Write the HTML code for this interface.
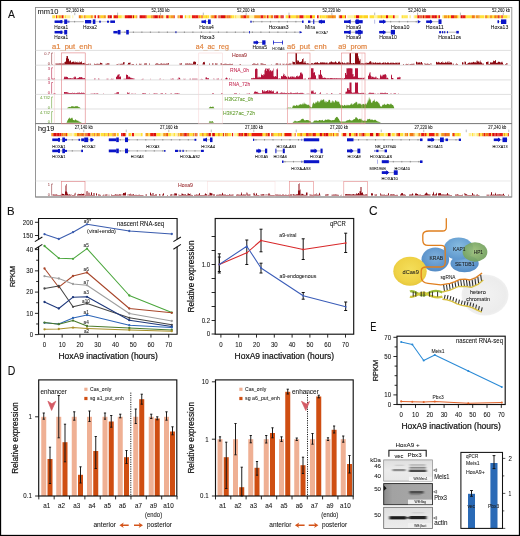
<!DOCTYPE html>
<html><head><meta charset="utf-8"><title>Figure</title>
<style>
html,body{margin:0;padding:0;background:#fff;}
body{width:520px;height:536px;overflow:hidden;font-family:"Liberation Sans",sans-serif;}
svg{display:block;will-change:transform;font-family:"Liberation Sans",sans-serif;}
</style></head><body>
<svg width="520" height="536" viewBox="0 0 520 536">
<rect x="0.00" y="0.00" width="520.00" height="536.00" fill="#fff" stroke="none" stroke-width="1" />
<rect x="0.00" y="0.00" width="520.00" height="1.00" fill="#000" stroke="none" stroke-width="1" />
<rect x="0.00" y="0.00" width="1.15" height="536.00" fill="#000" stroke="none" stroke-width="1" />
<rect x="518.85" y="0.00" width="1.15" height="536.00" fill="#000" stroke="none" stroke-width="1" />
<rect x="0.00" y="534.85" width="520.00" height="1.15" fill="#000" stroke="none" stroke-width="1" />
<text x="8.00" y="17.78" font-size="11.6" fill="#111" stroke="#111" stroke-width="0.1" textLength="6.90" lengthAdjust="spacingAndGlyphs" >A</text>
<rect x="35.50" y="7.50" width="476.30" height="189.50" fill="none" stroke="#8c8c8c" stroke-width="0.9" />
<text x="37.50" y="14.14" font-size="7.6" fill="#111" stroke="#111" stroke-width="0.06" textLength="20.80" lengthAdjust="spacingAndGlyphs" >mm10</text>
<text x="38.00" y="130.94" font-size="7.6" fill="#111" stroke="#111" stroke-width="0.06" textLength="16.30" lengthAdjust="spacingAndGlyphs" >hg19</text>
<path d="M52.4 15.3h1.25v3h-1.25zM80.8 15.3h2.05v3h-2.05zM100.4 15.3h3.05v3h-3.05zM146.4 15.3h1.25v3h-1.25zM157.8 15.3h0.85v3h-0.85zM168.6 15.3h1.05v3h-1.05zM169.6 15.3h0.85v3h-0.85zM184.8 15.3h1.25v3h-1.25zM200.0 15.3h1.65v3h-1.65zM205.2 15.3h2.05v3h-2.05zM226.6 15.3h0.85v3h-0.85zM230.6 15.3h1.65v3h-1.65zM235.2 15.3h1.25v3h-1.25zM297.8 15.3h1.65v3h-1.65zM305.8 15.3h2.45v3h-2.45zM308.2 15.3h1.05v3h-1.05zM309.2 15.3h0.85v3h-0.85zM312.0 15.3h3.05v3h-3.05zM319.6 15.3h2.05v3h-2.05zM325.4 15.3h2.05v3h-2.05zM342.0 15.3h3.05v3h-3.05zM359.0 15.3h3.05v3h-3.05zM364.0 15.3h3.05v3h-3.05zM367.0 15.3h1.05v3h-1.05zM449.0 15.3h0.85v3h-0.85zM449.8 15.3h1.25v3h-1.25zM457.0 15.3h1.65v3h-1.65zM465.8 15.3h0.85v3h-0.85zM486.8 15.3h2.05v3h-2.05zM492.0 15.3h0.85v3h-0.85zM499.4 15.3h2.05v3h-2.05z" fill="#ffd21e"/>
<path d="M53.6 15.3h1.65v3h-1.65zM56.8 15.3h2.05v3h-2.05zM60.8 15.3h0.85v3h-0.85zM64.8 15.3h1.65v3h-1.65zM85.6 15.3h1.25v3h-1.25zM86.8 15.3h2.05v3h-2.05zM88.8 15.3h2.05v3h-2.05zM113.0 15.3h0.85v3h-0.85zM117.8 15.3h1.65v3h-1.65zM119.4 15.3h2.45v3h-2.45zM132.0 15.3h0.85v3h-0.85zM134.0 15.3h2.45v3h-2.45zM147.6 15.3h2.05v3h-2.05zM149.6 15.3h1.65v3h-1.65zM178.6 15.3h1.25v3h-1.25zM188.4 15.3h2.05v3h-2.05zM202.4 15.3h2.05v3h-2.05zM204.4 15.3h0.85v3h-0.85zM207.2 15.3h2.05v3h-2.05zM210.4 15.3h0.85v3h-0.85zM219.6 15.3h0.85v3h-0.85zM232.2 15.3h2.05v3h-2.05zM239.6 15.3h1.25v3h-1.25zM268.4 15.3h2.45v3h-2.45zM278.4 15.3h1.25v3h-1.25zM279.6 15.3h1.05v3h-1.05zM285.6 15.3h3.05v3h-3.05zM290.2 15.3h3.05v3h-3.05zM293.2 15.3h3.05v3h-3.05zM303.4 15.3h2.45v3h-2.45zM321.6 15.3h0.85v3h-0.85zM322.4 15.3h3.05v3h-3.05zM354.0 15.3h2.05v3h-2.05zM362.0 15.3h2.05v3h-2.05zM369.6 15.3h2.45v3h-2.45zM372.0 15.3h2.05v3h-2.05zM377.2 15.3h1.65v3h-1.65zM378.8 15.3h2.05v3h-2.05zM381.8 15.3h1.25v3h-1.25zM383.0 15.3h3.05v3h-3.05zM388.0 15.3h2.05v3h-2.05zM390.0 15.3h3.05v3h-3.05zM401.6 15.3h2.05v3h-2.05zM421.6 15.3h1.05v3h-1.05zM430.4 15.3h1.25v3h-1.25zM436.8 15.3h1.65v3h-1.65zM443.2 15.3h0.85v3h-0.85zM447.0 15.3h0.85v3h-0.85zM466.6 15.3h1.65v3h-1.65zM468.2 15.3h1.25v3h-1.25zM469.4 15.3h2.45v3h-2.45zM479.4 15.3h3.05v3h-3.05zM482.4 15.3h1.65v3h-1.65zM492.8 15.3h1.25v3h-1.25zM502.6 15.3h3.05v3h-3.05zM505.6 15.3h1.25v3h-1.25zM506.8 15.3h0.85v3h-0.85z" fill="#ffe23a"/>
<path d="M55.2 15.3h0.85v3h-0.85zM64.0 15.3h0.85v3h-0.85zM92.8 15.3h1.65v3h-1.65zM106.6 15.3h1.25v3h-1.25zM121.8 15.3h3.05v3h-3.05zM163.2 15.3h3.05v3h-3.05zM186.0 15.3h2.45v3h-2.45zM190.4 15.3h1.65v3h-1.65zM234.2 15.3h1.05v3h-1.05zM236.4 15.3h2.45v3h-2.45zM238.8 15.3h0.85v3h-0.85zM249.2 15.3h2.05v3h-2.05zM251.2 15.3h3.05v3h-3.05zM265.8 15.3h1.05v3h-1.05zM318.6 15.3h1.05v3h-1.05zM347.4 15.3h3.05v3h-3.05zM350.4 15.3h1.65v3h-1.65zM352.0 15.3h1.05v3h-1.05zM353.0 15.3h1.05v3h-1.05zM374.0 15.3h1.25v3h-1.25zM375.2 15.3h2.05v3h-2.05zM394.6 15.3h2.05v3h-2.05zM396.6 15.3h2.05v3h-2.05zM442.0 15.3h1.25v3h-1.25zM458.6 15.3h2.05v3h-2.05zM484.0 15.3h1.25v3h-1.25zM488.8 15.3h0.85v3h-0.85zM507.6 15.3h2.45v3h-2.45z" fill="#fff4a0"/>
<path d="M56.0 15.3h0.85v3h-0.85zM61.6 15.3h1.65v3h-1.65zM94.4 15.3h1.65v3h-1.65zM97.6 15.3h1.65v3h-1.65zM107.8 15.3h1.65v3h-1.65zM113.8 15.3h2.05v3h-2.05zM115.8 15.3h1.05v3h-1.05zM124.8 15.3h2.05v3h-2.05zM126.8 15.3h1.25v3h-1.25zM142.0 15.3h1.25v3h-1.25zM143.2 15.3h2.45v3h-2.45zM153.2 15.3h1.65v3h-1.65zM158.6 15.3h1.65v3h-1.65zM162.2 15.3h1.05v3h-1.05zM166.2 15.3h1.25v3h-1.25zM167.4 15.3h1.25v3h-1.25zM179.8 15.3h1.05v3h-1.05zM180.8 15.3h2.05v3h-2.05zM192.0 15.3h1.65v3h-1.65zM193.6 15.3h1.65v3h-1.65zM196.0 15.3h2.45v3h-2.45zM201.6 15.3h0.85v3h-0.85zM214.2 15.3h2.05v3h-2.05zM227.4 15.3h0.85v3h-0.85zM243.2 15.3h2.05v3h-2.05zM245.2 15.3h1.05v3h-1.05zM260.4 15.3h3.05v3h-3.05zM266.8 15.3h1.65v3h-1.65zM275.4 15.3h3.05v3h-3.05zM281.6 15.3h1.05v3h-1.05zM288.6 15.3h1.65v3h-1.65zM299.4 15.3h1.65v3h-1.65zM301.0 15.3h0.85v3h-0.85zM301.8 15.3h1.65v3h-1.65zM317.0 15.3h1.65v3h-1.65zM340.0 15.3h2.05v3h-2.05zM345.0 15.3h0.85v3h-0.85zM393.0 15.3h1.65v3h-1.65zM417.2 15.3h2.45v3h-2.45zM425.2 15.3h1.05v3h-1.05zM426.2 15.3h2.05v3h-2.05zM428.2 15.3h1.25v3h-1.25zM429.4 15.3h1.05v3h-1.05zM431.6 15.3h2.45v3h-2.45zM434.0 15.3h0.85v3h-0.85zM438.4 15.3h1.65v3h-1.65zM451.0 15.3h3.05v3h-3.05zM462.6 15.3h2.45v3h-2.45zM501.4 15.3h1.25v3h-1.25z" fill="#e81a10"/>
<path d="M58.8 15.3h2.05v3h-2.05zM63.2 15.3h0.85v3h-0.85zM83.6 15.3h2.05v3h-2.05zM90.8 15.3h2.05v3h-2.05zM99.2 15.3h1.25v3h-1.25zM103.4 15.3h2.45v3h-2.45zM152.2 15.3h1.05v3h-1.05zM170.4 15.3h1.05v3h-1.05zM171.4 15.3h2.45v3h-2.45zM198.4 15.3h0.85v3h-0.85zM199.2 15.3h0.85v3h-0.85zM211.2 15.3h3.05v3h-3.05zM246.2 15.3h3.05v3h-3.05zM254.2 15.3h1.25v3h-1.25zM255.4 15.3h2.05v3h-2.05zM257.4 15.3h3.05v3h-3.05zM263.4 15.3h2.45v3h-2.45zM296.2 15.3h1.65v3h-1.65zM327.4 15.3h1.65v3h-1.65zM329.0 15.3h3.05v3h-3.05zM333.8 15.3h2.05v3h-2.05zM380.8 15.3h1.05v3h-1.05zM424.2 15.3h1.05v3h-1.05zM444.0 15.3h3.05v3h-3.05zM475.6 15.3h3.05v3h-3.05zM489.6 15.3h2.45v3h-2.45zM494.0 15.3h1.05v3h-1.05zM496.2 15.3h2.05v3h-2.05z" fill="#f59a1e"/>
<path d="M66.4 15.3h3.05v3h-3.05zM69.4 15.3h1.05v3h-1.05zM72.4 15.3h0.85v3h-0.85zM409.4 15.3h1.65v3h-1.65z" fill="#fff19a"/>
<path d="M78.8 15.3h2.05v3h-2.05zM136.4 15.3h0.85v3h-0.85zM151.2 15.3h1.05v3h-1.05zM160.2 15.3h2.05v3h-2.05zM177.6 15.3h1.05v3h-1.05zM216.2 15.3h1.05v3h-1.05zM225.0 15.3h1.65v3h-1.65zM228.2 15.3h2.45v3h-2.45zM240.8 15.3h2.45v3h-2.45zM270.8 15.3h0.85v3h-0.85zM271.6 15.3h1.65v3h-1.65zM332.0 15.3h0.85v3h-0.85zM332.8 15.3h1.05v3h-1.05zM338.8 15.3h1.25v3h-1.25zM419.6 15.3h1.05v3h-1.05zM447.8 15.3h1.25v3h-1.25zM454.0 15.3h3.05v3h-3.05zM465.0 15.3h0.85v3h-0.85zM471.8 15.3h3.05v3h-3.05zM478.6 15.3h0.85v3h-0.85zM485.2 15.3h1.65v3h-1.65zM495.0 15.3h1.25v3h-1.25z" fill="#f07a14"/>
<path d="M109.4 15.3h2.45v3h-2.45zM116.8 15.3h1.05v3h-1.05zM128.0 15.3h2.05v3h-2.05zM130.0 15.3h2.05v3h-2.05zM132.8 15.3h1.25v3h-1.25zM139.6 15.3h2.45v3h-2.45zM145.6 15.3h0.85v3h-0.85zM154.8 15.3h3.05v3h-3.05zM173.8 15.3h0.85v3h-0.85zM195.2 15.3h0.85v3h-0.85zM218.4 15.3h1.25v3h-1.25zM220.4 15.3h3.05v3h-3.05zM223.4 15.3h1.65v3h-1.65zM274.2 15.3h1.25v3h-1.25zM280.6 15.3h1.05v3h-1.05zM282.6 15.3h1.05v3h-1.05zM310.0 15.3h2.05v3h-2.05zM356.0 15.3h3.05v3h-3.05zM386.0 15.3h2.05v3h-2.05zM420.6 15.3h1.05v3h-1.05zM422.6 15.3h1.65v3h-1.65zM434.8 15.3h2.05v3h-2.05zM460.6 15.3h2.05v3h-2.05zM498.2 15.3h1.25v3h-1.25z" fill="#d80c0c"/>
<path d="M403.6 15.3h1.25v3h-1.25zM404.8 15.3h3.05v3h-3.05zM414.2 15.3h3.05v3h-3.05z" fill="#ffe95e"/>
<path d="M413.4 15.3h0.85v3h-0.85z" fill="#fff6c0"/>
<path d="M51.3 133.1h2.05v3.1h-2.05zM63.5 133.1h2.45v3.1h-2.45zM79.1 133.1h2.05v3.1h-2.05zM91.5 133.1h1.25v3.1h-1.25zM97.9 133.1h2.05v3.1h-2.05zM113.5 133.1h2.45v3.1h-2.45zM145.5 133.1h3.05v3.1h-3.05zM163.1 133.1h2.45v3.1h-2.45zM182.7 133.1h1.05v3.1h-1.05zM192.5 133.1h2.05v3.1h-2.05zM206.1 133.1h2.45v3.1h-2.45zM217.9 133.1h2.05v3.1h-2.05zM226.3 133.1h1.65v3.1h-1.65zM262.1 133.1h0.85v3.1h-0.85zM283.7 133.1h1.25v3.1h-1.25zM311.1 133.1h1.65v3.1h-1.65zM319.1 133.1h0.85v3.1h-0.85zM321.9 133.1h2.05v3.1h-2.05zM330.1 133.1h2.05v3.1h-2.05zM336.1 133.1h1.25v3.1h-1.25zM358.7 133.1h2.05v3.1h-2.05zM378.7 133.1h1.65v3.1h-1.65zM404.5 133.1h2.05v3.1h-2.05zM413.5 133.1h1.25v3.1h-1.25zM425.9 133.1h1.25v3.1h-1.25zM441.1 133.1h0.85v3.1h-0.85zM441.9 133.1h1.65v3.1h-1.65zM443.5 133.1h1.25v3.1h-1.25zM452.1 133.1h1.05v3.1h-1.05zM481.7 133.1h2.05v3.1h-2.05zM503.9 133.1h1.25v3.1h-1.25z" fill="#f59a1e"/>
<path d="M53.3 133.1h2.05v3.1h-2.05zM55.3 133.1h1.05v3.1h-1.05zM57.1 133.1h2.45v3.1h-2.45zM83.5 133.1h0.85v3.1h-0.85zM85.3 133.1h1.25v3.1h-1.25zM122.7 133.1h2.45v3.1h-2.45zM153.3 133.1h3.05v3.1h-3.05zM167.1 133.1h0.85v3.1h-0.85zM177.7 133.1h0.85v3.1h-0.85zM183.7 133.1h1.05v3.1h-1.05zM186.3 133.1h0.85v3.1h-0.85zM208.5 133.1h2.45v3.1h-2.45zM212.1 133.1h1.25v3.1h-1.25zM213.3 133.1h1.65v3.1h-1.65zM222.7 133.1h1.25v3.1h-1.25zM240.7 133.1h1.05v3.1h-1.05zM244.1 133.1h0.85v3.1h-0.85zM244.9 133.1h2.45v3.1h-2.45zM306.1 133.1h1.05v3.1h-1.05zM312.7 133.1h1.25v3.1h-1.25zM319.9 133.1h2.05v3.1h-2.05zM325.5 133.1h3.05v3.1h-3.05zM362.5 133.1h1.65v3.1h-1.65zM369.7 133.1h1.65v3.1h-1.65zM371.3 133.1h2.05v3.1h-2.05zM375.7 133.1h3.05v3.1h-3.05zM387.7 133.1h3.05v3.1h-3.05zM420.7 133.1h1.05v3.1h-1.05zM444.7 133.1h1.05v3.1h-1.05zM492.1 133.1h2.45v3.1h-2.45zM495.5 133.1h2.05v3.1h-2.05zM498.5 133.1h1.25v3.1h-1.25zM502.3 133.1h0.85v3.1h-0.85z" fill="#d80c0c"/>
<path d="M56.3 133.1h0.85v3.1h-0.85zM59.5 133.1h2.05v3.1h-2.05zM65.9 133.1h1.05v3.1h-1.05zM87.3 133.1h1.25v3.1h-1.25zM88.5 133.1h2.05v3.1h-2.05zM93.9 133.1h0.85v3.1h-0.85zM107.7 133.1h1.05v3.1h-1.05zM121.1 133.1h1.65v3.1h-1.65zM131.7 133.1h2.45v3.1h-2.45zM150.1 133.1h2.45v3.1h-2.45zM152.5 133.1h0.85v3.1h-0.85zM184.7 133.1h1.65v3.1h-1.65zM195.3 133.1h1.05v3.1h-1.05zM231.9 133.1h1.25v3.1h-1.25zM238.3 133.1h2.45v3.1h-2.45zM241.7 133.1h1.65v3.1h-1.65zM251.3 133.1h1.65v3.1h-1.65zM252.9 133.1h1.65v3.1h-1.65zM254.5 133.1h0.85v3.1h-0.85zM255.3 133.1h0.85v3.1h-0.85zM256.1 133.1h3.05v3.1h-3.05zM259.1 133.1h3.05v3.1h-3.05zM267.7 133.1h1.25v3.1h-1.25zM268.9 133.1h0.85v3.1h-0.85zM271.3 133.1h0.85v3.1h-0.85zM284.9 133.1h3.05v3.1h-3.05zM287.9 133.1h3.05v3.1h-3.05zM290.9 133.1h0.85v3.1h-0.85zM294.7 133.1h0.85v3.1h-0.85zM307.1 133.1h1.65v3.1h-1.65zM313.9 133.1h2.05v3.1h-2.05zM323.9 133.1h1.65v3.1h-1.65zM333.1 133.1h1.05v3.1h-1.05zM342.5 133.1h2.45v3.1h-2.45zM344.9 133.1h1.65v3.1h-1.65zM348.9 133.1h1.05v3.1h-1.05zM349.9 133.1h1.25v3.1h-1.25zM355.7 133.1h2.05v3.1h-2.05zM361.5 133.1h1.05v3.1h-1.05zM398.1 133.1h2.05v3.1h-2.05zM421.7 133.1h2.45v3.1h-2.45zM424.9 133.1h1.05v3.1h-1.05zM428.7 133.1h2.45v3.1h-2.45zM431.1 133.1h2.45v3.1h-2.45zM433.5 133.1h1.25v3.1h-1.25zM453.1 133.1h1.65v3.1h-1.65zM479.3 133.1h0.85v3.1h-0.85zM483.7 133.1h1.65v3.1h-1.65zM488.3 133.1h3.05v3.1h-3.05zM494.5 133.1h1.05v3.1h-1.05zM497.5 133.1h1.05v3.1h-1.05zM499.7 133.1h0.85v3.1h-0.85zM500.5 133.1h1.05v3.1h-1.05zM501.5 133.1h0.85v3.1h-0.85zM507.5 133.1h1.35v3.1h-1.35z" fill="#e81a10"/>
<path d="M61.5 133.1h2.05v3.1h-2.05zM76.7 133.1h2.45v3.1h-2.45zM81.1 133.1h2.45v3.1h-2.45zM86.5 133.1h0.85v3.1h-0.85zM96.3 133.1h1.65v3.1h-1.65zM103.9 133.1h0.85v3.1h-0.85zM112.3 133.1h1.25v3.1h-1.25zM125.1 133.1h1.05v3.1h-1.05zM165.5 133.1h1.65v3.1h-1.65zM179.7 133.1h3.05v3.1h-3.05zM187.1 133.1h2.45v3.1h-2.45zM196.3 133.1h1.25v3.1h-1.25zM202.1 133.1h1.65v3.1h-1.65zM224.7 133.1h1.65v3.1h-1.65zM247.3 133.1h1.65v3.1h-1.65zM265.3 133.1h2.45v3.1h-2.45zM272.1 133.1h1.65v3.1h-1.65zM277.9 133.1h0.85v3.1h-0.85zM281.1 133.1h1.05v3.1h-1.05zM300.1 133.1h2.45v3.1h-2.45zM308.7 133.1h1.25v3.1h-1.25zM309.9 133.1h1.25v3.1h-1.25zM337.3 133.1h1.25v3.1h-1.25zM354.1 133.1h1.65v3.1h-1.65zM360.7 133.1h0.85v3.1h-0.85zM364.1 133.1h1.65v3.1h-1.65zM396.3 133.1h0.85v3.1h-0.85zM397.1 133.1h1.05v3.1h-1.05zM406.5 133.1h1.65v3.1h-1.65zM409.9 133.1h2.05v3.1h-2.05zM411.9 133.1h1.65v3.1h-1.65zM418.3 133.1h1.65v3.1h-1.65zM424.1 133.1h0.85v3.1h-0.85zM435.7 133.1h3.05v3.1h-3.05zM445.7 133.1h1.05v3.1h-1.05zM446.7 133.1h3.05v3.1h-3.05zM478.5 133.1h0.85v3.1h-0.85zM485.3 133.1h3.05v3.1h-3.05z" fill="#f07a14"/>
<path d="M66.9 133.1h1.05v3.1h-1.05zM84.3 133.1h1.05v3.1h-1.05zM92.7 133.1h1.25v3.1h-1.25zM116.7 133.1h2.05v3.1h-2.05zM128.5 133.1h2.45v3.1h-2.45zM149.3 133.1h0.85v3.1h-0.85zM243.3 133.1h0.85v3.1h-0.85zM248.9 133.1h2.45v3.1h-2.45zM278.7 133.1h2.45v3.1h-2.45zM297.1 133.1h3.05v3.1h-3.05zM304.1 133.1h2.05v3.1h-2.05zM315.9 133.1h0.85v3.1h-0.85zM316.7 133.1h2.45v3.1h-2.45zM328.5 133.1h1.65v3.1h-1.65zM383.3 133.1h1.05v3.1h-1.05zM394.5 133.1h0.85v3.1h-0.85zM457.1 133.1h2.05v3.1h-2.05z" fill="#ffd21e"/>
<path d="M67.9 133.1h1.65v3.1h-1.65zM69.5 133.1h3.05v3.1h-3.05zM73.3 133.1h1.05v3.1h-1.05zM468.7 133.1h2.45v3.1h-2.45zM472.9 133.1h2.45v3.1h-2.45z" fill="#fff19a"/>
<path d="M74.3 133.1h2.45v3.1h-2.45zM90.5 133.1h1.05v3.1h-1.05zM94.7 133.1h1.65v3.1h-1.65zM100.9 133.1h3.05v3.1h-3.05zM104.7 133.1h3.05v3.1h-3.05zM108.7 133.1h2.05v3.1h-2.05zM110.7 133.1h1.65v3.1h-1.65zM140.5 133.1h2.05v3.1h-2.05zM148.5 133.1h0.85v3.1h-0.85zM156.3 133.1h2.05v3.1h-2.05zM158.3 133.1h2.45v3.1h-2.45zM167.9 133.1h3.05v3.1h-3.05zM173.3 133.1h2.05v3.1h-2.05zM178.5 133.1h1.25v3.1h-1.25zM189.5 133.1h3.05v3.1h-3.05zM199.5 133.1h1.05v3.1h-1.05zM200.5 133.1h1.65v3.1h-1.65zM203.7 133.1h2.45v3.1h-2.45zM214.9 133.1h3.05v3.1h-3.05zM219.9 133.1h1.25v3.1h-1.25zM221.1 133.1h1.65v3.1h-1.65zM227.9 133.1h1.05v3.1h-1.05zM228.9 133.1h2.05v3.1h-2.05zM237.1 133.1h1.25v3.1h-1.25zM262.9 133.1h2.45v3.1h-2.45zM273.7 133.1h3.05v3.1h-3.05zM276.7 133.1h1.25v3.1h-1.25zM293.7 133.1h1.05v3.1h-1.05zM302.5 133.1h1.65v3.1h-1.65zM332.1 133.1h1.05v3.1h-1.05zM334.1 133.1h2.05v3.1h-2.05zM341.5 133.1h1.05v3.1h-1.05zM351.1 133.1h3.05v3.1h-3.05zM365.7 133.1h3.05v3.1h-3.05zM368.7 133.1h1.05v3.1h-1.05zM373.3 133.1h0.85v3.1h-0.85zM380.3 133.1h3.05v3.1h-3.05zM385.3 133.1h2.45v3.1h-2.45zM391.5 133.1h3.05v3.1h-3.05zM400.1 133.1h2.45v3.1h-2.45zM402.5 133.1h0.85v3.1h-0.85zM409.1 133.1h0.85v3.1h-0.85zM417.3 133.1h1.05v3.1h-1.05zM419.9 133.1h0.85v3.1h-0.85zM427.1 133.1h1.65v3.1h-1.65zM434.7 133.1h1.05v3.1h-1.05zM454.7 133.1h2.45v3.1h-2.45zM459.1 133.1h1.65v3.1h-1.65zM471.9 133.1h1.05v3.1h-1.05zM477.7 133.1h0.85v3.1h-0.85zM480.1 133.1h1.65v3.1h-1.65zM491.3 133.1h0.85v3.1h-0.85zM503.1 133.1h0.85v3.1h-0.85zM505.1 133.1h2.45v3.1h-2.45z" fill="#ffe23a"/>
<path d="M99.9 133.1h1.05v3.1h-1.05zM130.9 133.1h0.85v3.1h-0.85zM134.1 133.1h2.45v3.1h-2.45zM136.5 133.1h1.05v3.1h-1.05zM137.5 133.1h3.05v3.1h-3.05zM160.7 133.1h2.45v3.1h-2.45zM170.9 133.1h2.45v3.1h-2.45zM175.3 133.1h2.45v3.1h-2.45zM210.9 133.1h1.25v3.1h-1.25zM223.9 133.1h0.85v3.1h-0.85zM230.9 133.1h1.05v3.1h-1.05zM234.1 133.1h3.05v3.1h-3.05zM282.1 133.1h1.65v3.1h-1.65zM291.7 133.1h2.05v3.1h-2.05zM346.5 133.1h2.45v3.1h-2.45zM357.7 133.1h1.05v3.1h-1.05zM374.1 133.1h1.65v3.1h-1.65zM384.3 133.1h1.05v3.1h-1.05zM390.7 133.1h0.85v3.1h-0.85zM403.3 133.1h1.25v3.1h-1.25zM414.7 133.1h1.65v3.1h-1.65zM416.3 133.1h1.05v3.1h-1.05zM438.7 133.1h2.45v3.1h-2.45z" fill="#fff4a0"/>
<path d="M471.1 133.1h0.85v3.1h-0.85zM475.3 133.1h1.25v3.1h-1.25z" fill="#fff6c0"/>
<path d="M476.5 133.1h1.25v3.1h-1.25z" fill="#ffe95e"/>
<line x1="74.75" y1="12.60" x2="74.75" y2="15.20" stroke="#777" stroke-width="0.5" />
<line x1="117.60" y1="12.60" x2="117.60" y2="15.20" stroke="#777" stroke-width="0.5" />
<line x1="160.45" y1="12.60" x2="160.45" y2="15.20" stroke="#777" stroke-width="0.5" />
<line x1="203.30" y1="12.60" x2="203.30" y2="15.20" stroke="#777" stroke-width="0.5" />
<line x1="246.15" y1="12.60" x2="246.15" y2="15.20" stroke="#777" stroke-width="0.5" />
<line x1="289.00" y1="12.60" x2="289.00" y2="15.20" stroke="#777" stroke-width="0.5" />
<line x1="331.85" y1="12.60" x2="331.85" y2="15.20" stroke="#777" stroke-width="0.5" />
<line x1="374.70" y1="12.60" x2="374.70" y2="15.20" stroke="#777" stroke-width="0.5" />
<line x1="417.55" y1="12.60" x2="417.55" y2="15.20" stroke="#777" stroke-width="0.5" />
<line x1="460.40" y1="12.60" x2="460.40" y2="15.20" stroke="#777" stroke-width="0.5" />
<line x1="503.25" y1="12.60" x2="503.25" y2="15.20" stroke="#777" stroke-width="0.5" />
<text x="75.20" y="11.99" font-size="4.7" fill="#111" stroke="#111" stroke-width="0.06" text-anchor="middle" textLength="18.00" lengthAdjust="spacingAndGlyphs">52,160 kb</text>
<text x="160.50" y="11.99" font-size="4.7" fill="#111" stroke="#111" stroke-width="0.06" text-anchor="middle" textLength="18.00" lengthAdjust="spacingAndGlyphs">52,180 kb</text>
<text x="246.00" y="11.99" font-size="4.7" fill="#111" stroke="#111" stroke-width="0.06" text-anchor="middle" textLength="18.00" lengthAdjust="spacingAndGlyphs">52,200 kb</text>
<text x="331.50" y="11.99" font-size="4.7" fill="#111" stroke="#111" stroke-width="0.06" text-anchor="middle" textLength="18.00" lengthAdjust="spacingAndGlyphs">52,220 kb</text>
<text x="417.30" y="11.99" font-size="4.7" fill="#111" stroke="#111" stroke-width="0.06" text-anchor="middle" textLength="18.00" lengthAdjust="spacingAndGlyphs">52,240 kb</text>
<text x="501.00" y="11.99" font-size="4.7" fill="#111" stroke="#111" stroke-width="0.06" text-anchor="middle" textLength="18.00" lengthAdjust="spacingAndGlyphs">52,260 kb</text>
<line x1="83.75" y1="129.60" x2="83.75" y2="132.20" stroke="#777" stroke-width="0.5" />
<line x1="126.25" y1="129.60" x2="126.25" y2="132.20" stroke="#777" stroke-width="0.5" />
<line x1="168.75" y1="129.60" x2="168.75" y2="132.20" stroke="#777" stroke-width="0.5" />
<line x1="211.25" y1="129.60" x2="211.25" y2="132.20" stroke="#777" stroke-width="0.5" />
<line x1="253.75" y1="129.60" x2="253.75" y2="132.20" stroke="#777" stroke-width="0.5" />
<line x1="296.25" y1="129.60" x2="296.25" y2="132.20" stroke="#777" stroke-width="0.5" />
<line x1="338.75" y1="129.60" x2="338.75" y2="132.20" stroke="#777" stroke-width="0.5" />
<line x1="381.25" y1="129.60" x2="381.25" y2="132.20" stroke="#777" stroke-width="0.5" />
<line x1="423.75" y1="129.60" x2="423.75" y2="132.20" stroke="#777" stroke-width="0.5" />
<line x1="466.25" y1="129.60" x2="466.25" y2="132.20" stroke="#777" stroke-width="0.5" />
<line x1="508.75" y1="129.60" x2="508.75" y2="132.20" stroke="#777" stroke-width="0.5" />
<text x="83.80" y="129.09" font-size="4.7" fill="#111" stroke="#111" stroke-width="0.06" text-anchor="middle" textLength="18.00" lengthAdjust="spacingAndGlyphs">27,140 kb</text>
<text x="169.00" y="129.09" font-size="4.7" fill="#111" stroke="#111" stroke-width="0.06" text-anchor="middle" textLength="18.00" lengthAdjust="spacingAndGlyphs">27,160 kb</text>
<text x="254.00" y="129.09" font-size="4.7" fill="#111" stroke="#111" stroke-width="0.06" text-anchor="middle" textLength="18.00" lengthAdjust="spacingAndGlyphs">27,180 kb</text>
<text x="339.00" y="129.09" font-size="4.7" fill="#111" stroke="#111" stroke-width="0.06" text-anchor="middle" textLength="18.00" lengthAdjust="spacingAndGlyphs">27,200 kb</text>
<text x="423.60" y="129.09" font-size="4.7" fill="#111" stroke="#111" stroke-width="0.06" text-anchor="middle" textLength="18.00" lengthAdjust="spacingAndGlyphs">27,220 kb</text>
<text x="497.30" y="129.09" font-size="4.7" fill="#111" stroke="#111" stroke-width="0.06" text-anchor="middle" textLength="18.00" lengthAdjust="spacingAndGlyphs">27,240 kb</text>
<line x1="54.60" y1="21.70" x2="83.80" y2="21.70" stroke="#8a8a8a" stroke-width="0.6" />
<line x1="57.60" y1="20.90" x2="57.60" y2="22.50" stroke="#555" stroke-width="0.5" />
<line x1="66.10" y1="20.90" x2="66.10" y2="22.50" stroke="#555" stroke-width="0.5" />
<line x1="74.60" y1="20.90" x2="74.60" y2="22.50" stroke="#555" stroke-width="0.5" />
<rect x="54.60" y="20.45" width="7.70" height="2.50" fill="#0a14c8" stroke="none" stroke-width="1" />
<rect x="60.30" y="20.10" width="2.00" height="3.20" fill="#0a14c8" stroke="none" stroke-width="1" />
<rect x="64.20" y="19.45" width="3.00" height="4.50" fill="#0a14c8" stroke="none" stroke-width="1" />
<rect x="67.20" y="20.70" width="2.30" height="2.00" fill="#5a62d8" stroke="none" stroke-width="1" />
<line x1="85.00" y1="21.70" x2="115.00" y2="21.70" stroke="#aaa" stroke-width="0.6" />
<rect x="85.00" y="20.00" width="6.20" height="3.40" fill="#0a14c8" stroke="none" stroke-width="1" />
<rect x="92.80" y="19.45" width="2.60" height="4.50" fill="#0a14c8" stroke="none" stroke-width="1" />
<rect x="99.20" y="20.70" width="1.60" height="2.00" fill="#0a14c8" stroke="none" stroke-width="1" />
<rect x="107.00" y="20.70" width="2.00" height="2.00" fill="#0a14c8" stroke="none" stroke-width="1" />
<rect x="110.30" y="20.45" width="4.70" height="2.50" fill="#0a14c8" stroke="none" stroke-width="1" />
<line x1="201.50" y1="21.70" x2="210.70" y2="21.70" stroke="#8a8a8a" stroke-width="0.6" />
<rect x="201.50" y="20.45" width="4.30" height="2.50" fill="#0a14c8" stroke="none" stroke-width="1" />
<rect x="208.00" y="19.45" width="2.70" height="4.50" fill="#0a14c8" stroke="none" stroke-width="1" />
<path d="M205.8 19.5L202.8 21.7L205.8 23.9Z" fill="#0a14c8"/>
<line x1="250.40" y1="21.70" x2="302.00" y2="21.70" stroke="#8a8a8a" stroke-width="0.6" />
<line x1="253.40" y1="20.90" x2="253.40" y2="22.50" stroke="#555" stroke-width="0.5" />
<line x1="261.90" y1="20.90" x2="261.90" y2="22.50" stroke="#555" stroke-width="0.5" />
<line x1="270.40" y1="20.90" x2="270.40" y2="22.50" stroke="#555" stroke-width="0.5" />
<line x1="278.90" y1="20.90" x2="278.90" y2="22.50" stroke="#555" stroke-width="0.5" />
<line x1="287.40" y1="20.90" x2="287.40" y2="22.50" stroke="#555" stroke-width="0.5" />
<line x1="295.90" y1="20.90" x2="295.90" y2="22.50" stroke="#555" stroke-width="0.5" />
<rect x="250.40" y="20.70" width="1.20" height="2.00" fill="#0a14c8" stroke="none" stroke-width="1" />
<rect x="302.00" y="20.50" width="1.60" height="2.40" fill="#0a14c8" stroke="none" stroke-width="1" />
<line x1="308.00" y1="21.70" x2="325.00" y2="21.70" stroke="#8a8a8a" stroke-width="0.6" />
<rect x="308.00" y="20.50" width="2.40" height="2.40" fill="#0a14c8" stroke="none" stroke-width="1" />
<rect x="313.20" y="19.45" width="1.10" height="4.50" fill="#0a14c8" stroke="none" stroke-width="1" />
<rect x="318.80" y="20.30" width="6.20" height="2.80" fill="#0a14c8" stroke="none" stroke-width="1" />
<path d="M321.8 19.5L318.6 21.7L321.8 23.9Z" fill="#0a14c8"/>
<line x1="344.00" y1="21.70" x2="362.70" y2="21.70" stroke="#8a8a8a" stroke-width="0.6" />
<rect x="344.00" y="20.45" width="6.40" height="2.50" fill="#0a14c8" stroke="none" stroke-width="1" />
<rect x="355.30" y="20.10" width="7.40" height="3.20" fill="#0a14c8" stroke="none" stroke-width="1" />
<rect x="355.80" y="19.40" width="3.00" height="4.60" fill="#0a14c8" stroke="none" stroke-width="1" />
<path d="M350.6 19.5L346.6 21.7L350.6 23.9Z" fill="#0a14c8"/>
<rect x="374.40" y="19.70" width="0.70" height="4.00" fill="#9aa0d8" stroke="none" stroke-width="1" />
<line x1="379.20" y1="21.70" x2="418.50" y2="21.70" stroke="#8a8a8a" stroke-width="0.6" />
<line x1="382.20" y1="20.90" x2="382.20" y2="22.50" stroke="#555" stroke-width="0.5" />
<line x1="390.70" y1="20.90" x2="390.70" y2="22.50" stroke="#555" stroke-width="0.5" />
<line x1="399.20" y1="20.90" x2="399.20" y2="22.50" stroke="#555" stroke-width="0.5" />
<line x1="407.70" y1="20.90" x2="407.70" y2="22.50" stroke="#555" stroke-width="0.5" />
<line x1="416.20" y1="20.90" x2="416.20" y2="22.50" stroke="#555" stroke-width="0.5" />
<rect x="379.20" y="20.45" width="6.20" height="2.50" fill="#0a14c8" stroke="none" stroke-width="1" />
<path d="M383.0 19.5L385.8 21.7L383.0 23.9Z" fill="#0a14c8"/>
<path d="M417.8 19.9L420.9 21.7L417.8 23.5Z" fill="#0a14c8"/>
<line x1="426.20" y1="21.70" x2="441.50" y2="21.70" stroke="#8a8a8a" stroke-width="0.6" />
<rect x="426.20" y="20.45" width="5.60" height="2.50" fill="#0a14c8" stroke="none" stroke-width="1" />
<rect x="438.50" y="19.40" width="3.00" height="4.60" fill="#0a14c8" stroke="none" stroke-width="1" />
<path d="M430.0 19.5L432.6 21.7L430.0 23.9Z" fill="#0a14c8"/>
<line x1="497.50" y1="21.70" x2="506.30" y2="21.70" stroke="#8a8a8a" stroke-width="0.6" />
<rect x="497.50" y="20.20" width="1.50" height="3.00" fill="#0a14c8" stroke="none" stroke-width="1" />
<rect x="501.00" y="19.40" width="5.30" height="4.60" fill="#0a14c8" stroke="none" stroke-width="1" />
<line x1="54.60" y1="32.20" x2="67.20" y2="32.20" stroke="#8a8a8a" stroke-width="0.6" />
<rect x="54.60" y="30.95" width="7.70" height="2.50" fill="#0a14c8" stroke="none" stroke-width="1" />
<rect x="60.30" y="30.60" width="2.00" height="3.20" fill="#0a14c8" stroke="none" stroke-width="1" />
<rect x="64.20" y="29.95" width="3.00" height="4.50" fill="#0a14c8" stroke="none" stroke-width="1" />
<line x1="113.40" y1="32.20" x2="302.00" y2="32.20" stroke="#8a8a8a" stroke-width="0.6" />
<line x1="116.40" y1="31.40" x2="116.40" y2="33.00" stroke="#555" stroke-width="0.5" />
<line x1="124.90" y1="31.40" x2="124.90" y2="33.00" stroke="#555" stroke-width="0.5" />
<line x1="133.40" y1="31.40" x2="133.40" y2="33.00" stroke="#555" stroke-width="0.5" />
<line x1="141.90" y1="31.40" x2="141.90" y2="33.00" stroke="#555" stroke-width="0.5" />
<line x1="150.40" y1="31.40" x2="150.40" y2="33.00" stroke="#555" stroke-width="0.5" />
<line x1="158.90" y1="31.40" x2="158.90" y2="33.00" stroke="#555" stroke-width="0.5" />
<line x1="167.40" y1="31.40" x2="167.40" y2="33.00" stroke="#555" stroke-width="0.5" />
<line x1="175.90" y1="31.40" x2="175.90" y2="33.00" stroke="#555" stroke-width="0.5" />
<line x1="184.40" y1="31.40" x2="184.40" y2="33.00" stroke="#555" stroke-width="0.5" />
<line x1="192.90" y1="31.40" x2="192.90" y2="33.00" stroke="#555" stroke-width="0.5" />
<line x1="201.40" y1="31.40" x2="201.40" y2="33.00" stroke="#555" stroke-width="0.5" />
<line x1="209.90" y1="31.40" x2="209.90" y2="33.00" stroke="#555" stroke-width="0.5" />
<line x1="218.40" y1="31.40" x2="218.40" y2="33.00" stroke="#555" stroke-width="0.5" />
<line x1="226.90" y1="31.40" x2="226.90" y2="33.00" stroke="#555" stroke-width="0.5" />
<line x1="235.40" y1="31.40" x2="235.40" y2="33.00" stroke="#555" stroke-width="0.5" />
<line x1="243.90" y1="31.40" x2="243.90" y2="33.00" stroke="#555" stroke-width="0.5" />
<line x1="252.40" y1="31.40" x2="252.40" y2="33.00" stroke="#555" stroke-width="0.5" />
<line x1="260.90" y1="31.40" x2="260.90" y2="33.00" stroke="#555" stroke-width="0.5" />
<line x1="269.40" y1="31.40" x2="269.40" y2="33.00" stroke="#555" stroke-width="0.5" />
<line x1="277.90" y1="31.40" x2="277.90" y2="33.00" stroke="#555" stroke-width="0.5" />
<line x1="286.40" y1="31.40" x2="286.40" y2="33.00" stroke="#555" stroke-width="0.5" />
<line x1="294.90" y1="31.40" x2="294.90" y2="33.00" stroke="#555" stroke-width="0.5" />
<rect x="113.40" y="30.95" width="4.30" height="2.50" fill="#0a14c8" stroke="none" stroke-width="1" />
<rect x="117.70" y="29.95" width="2.80" height="4.50" fill="#0a14c8" stroke="none" stroke-width="1" />
<rect x="126.20" y="29.95" width="2.60" height="4.50" fill="#0a14c8" stroke="none" stroke-width="1" />
<rect x="175.50" y="31.20" width="0.90" height="2.00" fill="#0a14c8" stroke="none" stroke-width="1" />
<rect x="249.00" y="31.00" width="0.80" height="2.40" fill="#0a14c8" stroke="none" stroke-width="1" />
<path d="M299.6 30.9L302.2 32.2L299.6 33.5Z" fill="#0a14c8"/>
<line x1="344.00" y1="32.20" x2="362.70" y2="32.20" stroke="#8a8a8a" stroke-width="0.6" />
<rect x="344.00" y="30.95" width="6.40" height="2.50" fill="#0a14c8" stroke="none" stroke-width="1" />
<rect x="355.30" y="30.60" width="7.40" height="3.20" fill="#0a14c8" stroke="none" stroke-width="1" />
<rect x="358.00" y="29.90" width="3.00" height="4.60" fill="#0a14c8" stroke="none" stroke-width="1" />
<path d="M350.6 30.0L346.6 32.2L350.6 34.4Z" fill="#0a14c8"/>
<line x1="379.20" y1="32.20" x2="395.00" y2="32.20" stroke="#8a8a8a" stroke-width="0.6" />
<rect x="379.20" y="30.95" width="6.20" height="2.50" fill="#0a14c8" stroke="none" stroke-width="1" />
<rect x="390.80" y="29.90" width="4.20" height="4.60" fill="#0a14c8" stroke="none" stroke-width="1" />
<path d="M383.0 30.0L385.8 32.2L383.0 34.4Z" fill="#0a14c8"/>
<line x1="439.20" y1="32.20" x2="458.80" y2="32.20" stroke="#8a8a8a" stroke-width="0.6" />
<rect x="439.20" y="31.10" width="1.80" height="2.20" fill="#0a14c8" stroke="none" stroke-width="1" />
<rect x="442.00" y="31.10" width="1.20" height="2.20" fill="#0a14c8" stroke="none" stroke-width="1" />
<rect x="444.20" y="31.10" width="1.00" height="2.20" fill="#0a14c8" stroke="none" stroke-width="1" />
<rect x="447.00" y="31.20" width="1.00" height="2.00" fill="#0a14c8" stroke="none" stroke-width="1" />
<rect x="456.30" y="30.90" width="2.50" height="2.60" fill="#0a14c8" stroke="none" stroke-width="1" />
<line x1="253.50" y1="42.50" x2="265.50" y2="42.50" stroke="#8a8a8a" stroke-width="0.6" />
<rect x="253.50" y="41.25" width="4.50" height="2.50" fill="#0a14c8" stroke="none" stroke-width="1" />
<rect x="262.20" y="40.25" width="3.30" height="4.50" fill="#0a14c8" stroke="none" stroke-width="1" />
<path d="M256.4 40.3L258.8 42.5L256.4 44.7Z" fill="#0a14c8"/>
<line x1="273.20" y1="42.50" x2="283.00" y2="42.50" stroke="#0a14c8" stroke-width="0.6" />
<rect x="273.20" y="40.50" width="0.80" height="4.00" fill="#0a14c8" stroke="none" stroke-width="1" />
<rect x="282.20" y="40.50" width="0.80" height="4.00" fill="#0a14c8" stroke="none" stroke-width="1" />
<text x="61.20" y="28.91" font-size="5.3" fill="#000" stroke="#000" stroke-width="0.03" text-anchor="middle" textLength="13.80" lengthAdjust="spacingAndGlyphs">Hoxa1</text>
<text x="90.00" y="28.91" font-size="5.3" fill="#000" stroke="#000" stroke-width="0.03" text-anchor="middle" textLength="14.00" lengthAdjust="spacingAndGlyphs">Hoxa2</text>
<text x="206.50" y="28.91" font-size="5.3" fill="#000" stroke="#000" stroke-width="0.03" text-anchor="middle" textLength="14.50" lengthAdjust="spacingAndGlyphs">Hoxa4</text>
<text x="278.70" y="28.91" font-size="5.3" fill="#000" stroke="#000" stroke-width="0.03" text-anchor="middle" textLength="20.00" lengthAdjust="spacingAndGlyphs">Hoxaas3</text>
<text x="310.00" y="28.91" font-size="5.3" fill="#000" stroke="#000" stroke-width="0.03" text-anchor="middle" textLength="10.00" lengthAdjust="spacingAndGlyphs">Mira</text>
<text x="353.70" y="28.91" font-size="5.3" fill="#000" stroke="#000" stroke-width="0.03" text-anchor="middle" textLength="15.00" lengthAdjust="spacingAndGlyphs">Hoxa9</text>
<text x="400.20" y="28.91" font-size="5.3" fill="#000" stroke="#000" stroke-width="0.03" text-anchor="middle" textLength="18.50" lengthAdjust="spacingAndGlyphs">Hoxa10</text>
<text x="434.70" y="28.91" font-size="5.3" fill="#000" stroke="#000" stroke-width="0.03" text-anchor="middle" textLength="18.00" lengthAdjust="spacingAndGlyphs">Hoxa11</text>
<text x="499.50" y="28.91" font-size="5.3" fill="#000" stroke="#000" stroke-width="0.03" text-anchor="middle" textLength="17.50" lengthAdjust="spacingAndGlyphs">Hoxa13</text>
<text x="61.20" y="39.41" font-size="5.3" fill="#000" stroke="#000" stroke-width="0.03" text-anchor="middle" textLength="13.80" lengthAdjust="spacingAndGlyphs">Hoxa1</text>
<text x="207.20" y="39.41" font-size="5.3" fill="#000" stroke="#000" stroke-width="0.03" text-anchor="middle" textLength="14.50" lengthAdjust="spacingAndGlyphs">Hoxa3</text>
<text x="321.90" y="33.71" font-size="4.2" fill="#000" stroke="#000" stroke-width="0.03" text-anchor="middle" textLength="12.20" lengthAdjust="spacingAndGlyphs">HOXA7</text>
<text x="353.70" y="39.41" font-size="5.3" fill="#000" stroke="#000" stroke-width="0.03" text-anchor="middle" textLength="15.00" lengthAdjust="spacingAndGlyphs">Hoxa9</text>
<text x="388.10" y="39.41" font-size="5.3" fill="#000" stroke="#000" stroke-width="0.03" text-anchor="middle" textLength="17.80" lengthAdjust="spacingAndGlyphs">Hoxa10</text>
<text x="449.70" y="39.41" font-size="5.3" fill="#000" stroke="#000" stroke-width="0.03" text-anchor="middle" textLength="23.00" lengthAdjust="spacingAndGlyphs">Hoxa11os</text>
<text x="259.70" y="49.41" font-size="5.3" fill="#000" stroke="#000" stroke-width="0.03" text-anchor="middle" textLength="14.50" lengthAdjust="spacingAndGlyphs">Hoxa5</text>
<text x="278.40" y="49.91" font-size="4.2" fill="#000" stroke="#000" stroke-width="0.03" text-anchor="middle" textLength="12.40" lengthAdjust="spacingAndGlyphs">HOXA6</text>
<text x="52.00" y="49.14" font-size="7.9" fill="#e0823c" stroke="#e0823c" stroke-width="0.17" textLength="40.00" lengthAdjust="spacingAndGlyphs" >a1_put_enh</text>
<text x="195.80" y="49.14" font-size="7.9" fill="#e0823c" stroke="#e0823c" stroke-width="0.17" textLength="33.00" lengthAdjust="spacingAndGlyphs" >a4_ac_reg</text>
<text x="287.00" y="49.14" font-size="7.9" fill="#e0823c" stroke="#e0823c" stroke-width="0.17" textLength="39.80" lengthAdjust="spacingAndGlyphs" >a6_put_enh</text>
<text x="338.30" y="49.14" font-size="7.9" fill="#e0823c" stroke="#e0823c" stroke-width="0.17" textLength="28.70" lengthAdjust="spacingAndGlyphs" >a9_prom</text>
<line x1="35.50" y1="50.40" x2="511.80" y2="50.40" stroke="#d2d2d2" stroke-width="0.7" />
<line x1="35.50" y1="65.20" x2="511.80" y2="65.20" stroke="#d2d2d2" stroke-width="0.7" />
<line x1="35.50" y1="79.90" x2="511.80" y2="79.90" stroke="#d2d2d2" stroke-width="0.7" />
<line x1="35.50" y1="94.40" x2="511.80" y2="94.40" stroke="#d2d2d2" stroke-width="0.7" />
<line x1="35.50" y1="109.00" x2="511.80" y2="109.00" stroke="#d2d2d2" stroke-width="0.7" />
<line x1="35.50" y1="123.60" x2="511.80" y2="123.60" stroke="#666" stroke-width="0.9" />
<line x1="35.50" y1="181.00" x2="511.80" y2="181.00" stroke="#dcdcdc" stroke-width="0.6" />
<path d="M52.0 64.6V63.9h0.5V64.6h3V63.4h0.5V63.8h0.5V63.5h0.5V63.8h0.5V63.5h1V63.7h0.5V63.6h0.5V63.4h1V63.6h1.5V63.3h0.5V63.9h0.5V63.8h0.5V63.3h0.5V63.7h0.5V62.0h1V61.2h0.5V58.2h0.5V55.9h0.5V56.3h0.5V55.9h0.5V58.4h0.5V59.0h0.5V61.5h0.5V60.7h0.5V60.3h0.5V60.8h0.5V62.6h0.5V62.3h0.5V61.9h0.5V61.8h0.5V61.7h0.5V61.5h0.5V61.8h0.5V62.8h0.5V61.5h0.5V62.5h0.5V62.0h0.5V62.4h0.5V61.7h0.5V62.7h0.5V62.6h1V62.7h0.5V61.5h0.5V62.0h0.5V62.4h0.5V62.3h0.5V61.3h0.5V63.3h0.5V63.6h0.5V63.0h0.5V63.1h0.5V62.8h0.5V63.7h0.5V63.8h0.5V63.6h0.5V64.0h1V63.9h0.5V64.0h0.5V63.7h1V63.8h0.5V64.6h0.5V63.5h0.5V63.9h0.5V64.6h3V63.8h1V63.9h1V63.7h0.5V63.9h0.5V63.8h0.5V63.7h0.5V63.8h0.5V63.9h1V63.7h0.5V62.6h0.5V62.9h0.5V63.1h0.5V63.2h0.5V63.6h0.5V64.6h3V63.7h0.5V64.0h0.5V63.6h0.5V63.4h0.5V63.3h0.5V63.6h0.5V63.3h0.5V63.4h0.5V64.6h7V64.0h1.5V63.8h0.5V64.6h1V63.7h0.5V63.8h0.5V63.9h0.5V63.8h2V62.2h1V62.0h0.5V64.6h3V63.9h0.5V63.0h0.5V62.7h0.5V63.1h0.5V62.6h0.5V62.5h0.5V64.6h1V63.9h0.5V64.1h0.5V63.9h0.5V64.0h0.5V63.9h0.5V64.6h2V63.9h0.5V63.8h0.5V64.6h2V63.7h1V63.9h0.5V63.7h0.5V63.8h0.5V64.6h2.5V63.6h0.5V63.7h0.5V63.4h0.5V63.6h0.5V63.5h0.5V63.6h0.5V64.6h2V63.6h0.5V63.8h0.5V64.6h5V63.9h0.5V63.8h0.5V64.0h0.5V63.1h0.5V63.0h0.5V63.9h0.5V63.8h0.5V63.9h0.5V64.0h1.5V63.6h1.5V63.9h0.5V63.7h0.5V63.8h1V63.7h1V63.9h0.5V63.7h0.5V63.6h0.5V63.7h0.5V63.6h0.5V63.7h0.5V63.6h0.5V63.0h0.5V64.6h10.5V63.6h0.5V63.8h0.5V63.6h1V63.3h0.5V64.6h3V63.7h0.5V63.4h0.5V63.7h0.5V63.4h1V63.6h0.5V63.9h0.5V63.4h0.5V63.7h0.5V63.2h0.5V63.8h1V63.7h0.5V63.8h1V63.9h0.5V61.4h0.5V62.2h0.5V61.4h0.5V61.5h0.5V61.7h0.5V62.1h0.5V64.6h1V63.9h1V64.6h4.5V63.4h0.5V62.3h0.5V61.9h0.5V61.8h0.5V62.5h0.5V64.6h4V63.6h0.5V63.7h0.5V64.6h2V63.4h1.5V64.6h1.5V63.7h0.5V63.3h0.5V63.7h0.5V63.6h1V64.6h3V63.6h0.5V63.4h1V64.1h0.5V64.0h1.5V63.9h0.5V63.8h0.5V63.7h1V63.8h0.5V64.0h1.5V63.9h1V63.7h0.5V64.0h0.5V63.8h0.5V63.9h0.5V64.0h1V63.8h0.5V64.1h0.5V64.6h6.5V64.1h0.5V64.0h0.5V63.9h0.5V64.6h11V64.0h0.5V63.9h0.5V63.8h0.5V63.5h1V63.7h1V63.9h0.5V64.1h0.5V63.9h0.5V63.6h0.5V63.8h1V64.6h2V63.5h0.5V63.6h1.5V63.7h1V64.0h1V64.1h1V63.9h0.5V64.6h5V63.9h0.5V64.6h4V63.7h0.5V63.5h0.5V63.6h1.5V63.7h0.5V64.6h1V63.8h1V63.7h0.5V64.6h1.5V63.8h0.5V64.0h0.5V63.8h1V64.6h1V64.0h0.5V63.7h0.5V63.8h0.5V63.9h0.5V64.0h0.5V63.8h0.5V64.0h0.5V63.7h0.5V63.6h0.5V63.7h0.5V63.6h1V64.6h1V61.4h0.5V61.8h0.5V62.1h1V62.2h0.5V64.0h0.5V53.1h0.5V53.3h0.5V53.1h0.5V60.1h0.5V61.5h0.5V61.1h0.5V60.2h0.5V62.0h0.5V62.3h0.5V62.0h0.5V62.1h0.5V61.2h0.5V61.7h0.5V59.2h0.5V58.9h0.5V58.2h0.5V62.8h0.5V62.7h0.5V61.6h0.5V61.2h0.5V63.0h0.5V63.7h0.5V63.3h0.5V63.0h0.5V63.6h1V63.4h0.5V63.7h1V64.0h0.5V63.7h0.5V63.6h0.5V63.1h0.5V63.4h0.5V63.1h0.5V63.6h0.5V63.8h0.5V62.9h0.5V62.7h0.5V62.6h0.5V62.5h0.5V63.1h0.5V62.3h0.5V62.0h0.5V62.5h0.5V63.3h0.5V62.9h0.5V63.4h0.5V63.1h0.5V62.2h0.5V62.6h1V62.4h0.5V62.2h0.5V62.6h1.5V62.5h0.5V62.6h0.5V62.5h0.5V63.2h0.5V62.5h0.5V62.8h0.5V62.4h0.5V63.4h0.5V63.2h0.5V63.4h0.5V62.4h0.5V62.2h0.5V61.8h0.5V62.4h0.5V61.5h0.5V61.6h0.5V62.0h0.5V62.6h0.5V62.5h0.5V62.3h0.5V62.5h0.5V62.3h0.5V61.8h0.5V61.3h0.5V63.0h0.5V62.0h0.5V63.0h0.5V62.9h0.5V61.5h0.5V62.0h0.5V61.3h0.5V62.2h0.5V63.1h0.5V62.3h0.5V62.7h0.5V62.2h0.5V62.1h0.5V62.8h0.5V62.9h0.5V63.4h0.5V62.6h0.5V63.2h0.5V63.3h0.5V63.5h1V62.5h0.5V63.3h0.5V62.1h0.5V63.4h0.5V62.3h0.5V63.3h0.5V53.3h0.5V53.1h1V63.0h0.5V63.6h0.5V63.7h0.5V63.0h0.5V63.1h0.5V62.9h0.5V63.0h0.5V63.7h0.5V53.1h3V56.2h0.5V58.2h0.5V61.1h0.5V59.6h0.5V59.3h0.5V63.7h0.5V63.5h0.5V63.0h0.5V63.6h0.5V62.9h0.5V63.3h0.5V63.7h0.5V63.4h0.5V63.2h0.5V63.3h0.5V62.7h0.5V63.4h0.5V62.6h0.5V63.1h0.5V62.8h1V63.1h0.5V62.2h0.5V61.4h0.5V61.0h0.5V61.4h0.5V61.8h0.5V63.2h0.5V63.5h0.5V62.3h0.5V62.7h0.5V62.5h0.5V63.2h0.5V62.8h0.5V62.3h0.5V62.5h0.5V62.8h0.5V63.2h0.5V63.0h0.5V62.4h0.5V63.1h0.5V62.7h0.5V62.8h0.5V62.4h0.5V62.6h0.5V63.2h0.5V63.6h0.5V63.3h0.5V63.1h0.5V62.8h0.5V62.5h0.5V62.4h0.5V63.5h0.5V62.5h1.5V62.9h0.5V63.2h0.5V62.5h0.5V62.6h0.5V62.7h0.5V62.4h0.5V63.1h0.5V63.5h0.5V62.9h0.5V62.6h0.5V63.3h0.5V62.6h0.5V62.4h0.5V63.3h0.5V62.8h0.5V62.7h0.5V63.0h0.5V63.3h1V62.6h1V63.0h0.5V63.5h0.5V62.6h1V63.3h0.5V62.8h0.5V62.4h0.5V64.6h3V63.9h1V64.6h1.5V63.9h0.5V64.0h0.5V63.7h0.5V63.9h0.5V64.0h0.5V63.8h0.5V64.6h1V64.1h1V63.9h1V63.8h0.5V63.9h0.5V63.7h1.5V63.8h0.5V64.6h1.5V61.8h1V61.9h0.5V63.4h0.5V62.7h0.5V62.3h0.5V62.8h0.5V62.1h0.5V62.2h0.5V63.4h0.5V61.9h0.5V62.0h0.5V63.5h0.5V63.6h0.5V64.6h1V63.3h0.5V64.6h0.5V63.6h0.5V63.9h1V63.7h0.5V63.6h0.5V63.7h1V63.9h1.5V64.6h0.5V63.3h0.5V63.6h0.5V64.6h4.5V61.7h0.5V62.1h0.5V62.4h0.5V62.6h0.5V61.7h0.5V62.3h0.5V62.1h0.5V62.9h0.5V62.8h0.5V63.1h0.5V61.9h0.5V62.2h0.5V62.9h0.5V61.6h0.5V62.7h0.5V62.5h0.5V62.9h0.5V62.7h0.5V61.7h0.5V62.6h0.5V62.9h0.5V62.3h0.5V62.6h0.5V61.6h0.5V63.0h0.5V61.4h0.5V63.1h0.5V61.6h0.5V62.0h0.5V62.8h0.5V62.3h0.5V62.7h0.5V64.6h0.5V63.8h1.5V64.6h1.5V63.9h0.5V63.6h0.5V63.7h0.5V63.9h1V64.6h4V61.9h0.5V62.5h1V64.6h1V61.6h0.5V61.5h0.5V62.0h0.5V64.0h0.5V63.9h0.5V63.8h0.5V63.5h0.5V62.7h0.5V63.0h0.5V62.7h0.5V62.3h0.5V63.3h0.5V62.4h0.5V62.5h0.5V62.4h0.5V63.1h0.5V62.1h0.5V61.9h0.5V61.8h0.5V62.8h0.5V62.1h0.5V62.7h0.5V62.0h0.5V62.7h0.5V60.8h0.5V60.6h0.5V61.6h1.5V61.5h0.5V62.8h0.5V60.5h0.5V62.3h0.5V62.4h0.5V62.6h0.5V63.7h0.5V63.5h0.5V63.8h0.5V63.5h0.5V64.6h2V62.1h0.5V62.0h0.5V61.8h0.5V61.7h0.5V61.5h0.5V64.0h0.5V63.9h0.5V64.1h0.5V62.5h0.5V62.2h0.5V63.1h0.5V62.1h0.5V61.9h0.5V62.8h0.5V61.3h0.5V60.4h0.5V61.0h0.5V61.3h0.5V60.1h0.5V60.5h0.5V62.7h0.5V62.9h0.5V62.7h0.5V62.6h0.5V61.6h0.5V61.9h0.5V61.8h0.5V61.9h1V63.2h0.5V62.4h0.5V61.7h1V62.9h0.5V64.0h0.5V64.6h1.5V63.9h0.5V64.1h0.5V63.4h0.5V63.3h1V64.6h3.5V64.6z" fill="#8c0a12"/>
<path d="M52.0 79.2V78.6h0.5V78.8h1.5V78.2h0.5V78.4h0.5V79.2h8.5V78.8h0.5V77.2h0.5V76.6h1V77.2h0.5V77.0h0.5V76.6h0.5V77.3h0.5V77.1h0.5V78.2h0.5V78.3h0.5V77.9h0.5V78.4h0.5V78.2h0.5V78.0h0.5V78.6h0.5V78.3h0.5V78.5h0.5V78.2h0.5V78.8h0.5V77.2h0.5V76.5h0.5V77.5h0.5V76.5h0.5V77.3h0.5V78.5h1V78.1h0.5V78.6h0.5V77.8h0.5V77.9h0.5V77.2h0.5V77.1h0.5V77.5h0.5V77.1h0.5V77.3h0.5V76.9h0.5V77.5h0.5V78.2h0.5V78.4h0.5V78.1h0.5V78.3h0.5V78.1h0.5V78.9h0.5V79.2h8.5V78.7h0.5V78.6h1V79.2h2.5V78.6h0.5V78.7h1V79.2h7V78.8h1.5V78.7h0.5V79.2h2V78.9h0.5V78.8h1V78.9h0.5V78.7h0.5V78.8h0.5V79.2h2.5V76.9h0.5V76.6h0.5V75.7h0.5V74.7h0.5V74.2h0.5V74.7h0.5V74.0h0.5V77.0h0.5V76.5h0.5V76.6h0.5V79.2h2V78.7h0.5V79.2h0.5V78.8h1V78.7h0.5V78.8h0.5V74.8h0.5V74.6h0.5V75.1h0.5V75.0h0.5V76.2h0.5V77.2h0.5V76.8h1V77.3h0.5V78.1h0.5V78.2h0.5V77.7h0.5V78.1h0.5V78.6h1V78.5h0.5V78.6h0.5V79.2h7V78.9h1V78.8h1V79.2h7V78.7h0.5V79.2h8.5V78.8h0.5V78.6h0.5V79.2h3V78.9h0.5V79.2h6.5V78.8h0.5V78.9h0.5V78.8h1V78.6h0.5V78.8h0.5V78.7h0.5V79.2h3V78.9h0.5V78.7h0.5V78.9h0.5V77.6h0.5V77.9h0.5V77.6h0.5V78.8h0.5V79.2h3V78.8h0.5V78.9h0.5V78.7h1V79.2h4V78.8h1.5V79.2h1V78.7h1V78.8h0.5V78.7h1V78.8h0.5V78.7h1V78.8h0.5V78.7h0.5V78.8h0.5V79.2h3V78.9h0.5V78.8h0.5V78.9h1.5V79.2h2.5V77.6h0.5V77.0h0.5V77.8h0.5V78.4h0.5V78.0h0.5V78.3h1V79.2h4.5V78.6h0.5V78.8h0.5V79.2h2V78.7h1.5V78.6h0.5V78.7h0.5V79.2h2V78.9h0.5V78.8h0.5V79.2h3.5V78.0h0.5V77.8h0.5V77.5h0.5V77.9h0.5V79.2h1.5V78.5h1V79.2h1V78.8h0.5V78.9h0.5V79.2h19V78.6h0.5V78.1h0.5V78.0h0.5V78.4h0.5V78.2h0.5V77.8h0.5V78.1h0.5V78.2h0.5V68.8h0.5V69.3h0.5V68.5h0.5V68.4h0.5V68.9h0.5V77.4h0.5V77.7h0.5V76.7h0.5V76.8h0.5V77.5h1V77.0h0.5V74.9h0.5V73.8h0.5V75.1h0.5V75.2h0.5V73.9h0.5V75.5h0.5V74.6h0.5V70.2h0.5V68.2h0.5V69.2h0.5V68.2h0.5V71.0h0.5V68.6h0.5V68.9h0.5V69.6h0.5V68.2h1V71.2h0.5V70.4h0.5V70.1h0.5V70.8h0.5V71.5h0.5V70.4h0.5V70.8h0.5V68.4h0.5V76.2h0.5V76.8h0.5V76.4h0.5V76.1h0.5V76.3h0.5V76.7h0.5V69.3h0.5V69.5h0.5V68.2h0.5V78.4h0.5V78.8h0.5V78.4h0.5V78.3h0.5V78.5h0.5V78.7h0.5V76.1h0.5V76.2h0.5V76.7h0.5V76.0h0.5V75.0h0.5V73.4h0.5V73.9h0.5V76.0h0.5V75.4h0.5V75.9h0.5V76.7h1V76.9h0.5V77.9h0.5V76.6h0.5V76.5h0.5V77.4h0.5V77.6h0.5V76.8h0.5V76.5h0.5V76.3h0.5V77.6h0.5V76.6h0.5V76.5h0.5V76.6h0.5V77.3h0.5V77.6h0.5V76.5h0.5V77.4h0.5V77.3h0.5V75.9h0.5V76.3h0.5V75.4h0.5V76.6h0.5V77.0h0.5V75.9h0.5V75.8h0.5V75.4h0.5V72.9h0.5V72.3h0.5V72.2h0.5V73.5h1V74.4h0.5V79.2h0.5V78.8h1V78.7h1V78.6h0.5V79.2h2V78.3h0.5V77.7h0.5V78.4h0.5V77.6h1V77.7h0.5V68.2h0.5V68.3h0.5V68.2h1.5V72.8h0.5V72.5h0.5V72.0h0.5V75.4h0.5V75.3h0.5V78.8h2V79.2h0.5V74.6h0.5V74.7h0.5V74.8h0.5V70.1h1V74.8h0.5V74.4h0.5V75.9h0.5V77.7h0.5V77.8h0.5V78.1h0.5V77.8h0.5V77.4h0.5V77.9h0.5V77.7h0.5V78.4h0.5V78.3h0.5V77.9h0.5V78.6h0.5V78.5h0.5V78.1h0.5V78.3h0.5V78.5h0.5V78.1h0.5V78.3h0.5V78.1h0.5V78.3h0.5V78.2h1V78.3h0.5V78.5h1V77.9h0.5V78.2h0.5V78.5h0.5V77.9h0.5V78.4h0.5V78.5h0.5V78.2h0.5V78.4h0.5V78.2h1V78.4h0.5V78.3h0.5V78.6h0.5V78.4h0.5V78.3h0.5V78.6h0.5V78.4h0.5V78.7h0.5V78.4h0.5V78.1h0.5V78.3h0.5V73.1h0.5V73.0h0.5V74.7h0.5V68.2h1V68.4h0.5V68.2h1V68.3h0.5V68.2h1.5V68.4h0.5V68.2h0.5V68.5h0.5V74.3h0.5V74.1h0.5V76.8h0.5V76.2h0.5V76.6h0.5V68.2h3V78.0h0.5V77.7h1V78.3h0.5V77.8h0.5V78.2h0.5V77.8h0.5V77.9h0.5V77.7h0.5V78.4h0.5V78.2h0.5V77.8h0.5V77.6h0.5V79.2h3.5V75.9h0.5V75.2h0.5V72.4h0.5V73.7h0.5V72.2h0.5V75.4h0.5V76.1h0.5V77.4h0.5V77.0h0.5V76.4h0.5V76.8h0.5V77.5h0.5V77.6h0.5V77.5h0.5V76.5h0.5V77.4h0.5V76.8h0.5V78.4h0.5V78.1h0.5V78.3h0.5V78.5h0.5V78.7h0.5V78.6h0.5V78.7h0.5V74.4h0.5V75.4h0.5V75.5h0.5V76.4h0.5V74.7h0.5V76.3h0.5V74.8h0.5V74.7h0.5V74.8h0.5V74.3h0.5V74.0h0.5V74.6h0.5V75.2h0.5V78.3h0.5V77.6h0.5V78.0h0.5V78.6h0.5V79.2h2.5V74.5h0.5V75.2h0.5V78.0h1V78.3h0.5V79.2h3.5V77.5h1V77.3h0.5V77.6h1V76.8h0.5V77.1h0.5V79.2h0.5V79.2z" fill="#b4143c"/>
<path d="M52.0 93.7V93.7h1.5V93.2h0.5V93.1h1V93.3h0.5V93.7h8.5V91.9h0.5V92.1h0.5V92.0h0.5V92.3h0.5V92.1h0.5V92.2h0.5V92.6h0.5V92.3h0.5V93.0h0.5V92.6h0.5V92.9h0.5V93.0h2V93.1h0.5V93.2h0.5V92.6h0.5V92.9h1V92.8h0.5V93.0h0.5V93.1h0.5V93.2h0.5V93.0h1V92.7h0.5V92.8h0.5V92.6h0.5V93.0h0.5V92.6h0.5V92.8h0.5V93.1h1V92.8h0.5V92.6h0.5V93.0h0.5V92.7h0.5V92.9h0.5V92.6h0.5V93.2h0.5V92.9h0.5V93.7h5.5V93.5h1V93.4h1.5V93.7h0.5V93.3h1V93.2h1V93.7h0.5V93.3h0.5V93.4h0.5V93.3h0.5V93.2h0.5V93.4h0.5V93.7h4.5V93.2h0.5V93.7h11V93.3h0.5V93.4h0.5V93.3h1V92.3h0.5V92.2h0.5V92.3h0.5V92.2h1V93.7h8V92.3h0.5V92.7h0.5V92.9h0.5V92.7h0.5V92.4h0.5V93.7h1.5V93.4h1V93.5h0.5V93.4h0.5V93.5h0.5V93.7h1V93.4h0.5V93.3h0.5V93.7h6.5V93.2h1V93.1h0.5V93.2h1V93.3h1.5V93.7h3V93.5h1V93.7h3.5V93.2h0.5V93.3h0.5V93.2h0.5V93.4h0.5V93.3h0.5V93.4h0.5V93.2h1V93.7h3V93.3h0.5V93.2h1V93.3h0.5V93.2h0.5V93.7h2V93.3h0.5V93.2h0.5V93.4h0.5V93.7h4V93.3h1V93.4h0.5V93.7h2.5V93.3h0.5V93.2h0.5V93.3h0.5V93.2h1V93.1h0.5V93.2h0.5V93.4h0.5V93.3h0.5V93.2h0.5V93.7h32.5V93.3h0.5V93.2h0.5V93.3h0.5V93.2h0.5V93.7h7V93.2h0.5V93.3h0.5V93.2h1V93.7h11V93.2h1.5V93.3h1V93.2h0.5V93.7h2V93.4h1V93.7h6.5V93.4h2V93.5h0.5V93.3h1V93.7h3.5V93.3h0.5V91.4h0.5V92.2h0.5V91.6h0.5V91.5h0.5V91.7h0.5V92.1h0.5V92.5h0.5V91.7h0.5V92.8h0.5V93.1h0.5V93.0h0.5V93.2h1V92.9h0.5V93.2h0.5V93.0h0.5V89.9h0.5V90.2h0.5V90.7h0.5V91.8h0.5V91.5h0.5V90.2h0.5V91.7h0.5V91.0h0.5V91.1h1V90.0h0.5V90.6h0.5V90.3h0.5V91.7h0.5V90.8h0.5V90.0h0.5V90.5h0.5V91.0h0.5V89.9h0.5V91.5h0.5V91.8h0.5V91.1h0.5V91.6h0.5V90.4h0.5V93.1h0.5V92.9h1V92.7h0.5V92.4h0.5V91.5h1V91.4h0.5V93.3h1V93.2h0.5V93.3h0.5V92.9h0.5V92.7h0.5V92.4h0.5V92.6h0.5V92.5h0.5V93.0h0.5V92.9h0.5V92.8h0.5V93.1h0.5V92.4h0.5V93.0h1V92.9h0.5V93.0h0.5V92.5h0.5V92.8h0.5V92.9h1V93.2h0.5V93.0h0.5V92.6h0.5V92.7h0.5V92.6h0.5V93.0h0.5V93.1h0.5V93.2h0.5V92.9h0.5V93.0h0.5V92.9h1V92.8h0.5V93.0h0.5V92.7h0.5V93.1h0.5V92.6h0.5V92.8h0.5V93.2h0.5V93.0h0.5V92.9h1V92.8h0.5V93.0h1V92.7h0.5V93.0h0.5V92.7h0.5V93.3h1V93.4h0.5V93.7h2V93.4h0.5V93.5h0.5V93.4h2V93.7h1.5V90.6h0.5V91.4h0.5V91.3h0.5V90.6h1V92.5h0.5V92.7h0.5V93.0h0.5V92.5h1V93.7h3.5V93.0h0.5V92.5h0.5V92.4h0.5V93.7h5.5V93.2h1V93.7h3.5V93.1h0.5V93.3h1V93.7h7V93.1h1V93.7h4.5V93.4h0.5V91.8h0.5V91.7h0.5V91.6h0.5V88.2h0.5V88.3h0.5V89.7h0.5V88.1h0.5V90.1h0.5V82.5h1V82.6h0.5V82.5h0.5V92.3h0.5V92.9h0.5V92.6h0.5V92.5h0.5V92.7h0.5V92.2h0.5V92.8h0.5V82.5h1V82.7h0.5V82.5h0.5V82.6h0.5V82.5h0.5V92.7h0.5V92.8h0.5V92.9h0.5V93.2h0.5V92.9h0.5V93.1h0.5V92.8h0.5V93.1h0.5V92.8h0.5V93.0h1V92.8h0.5V93.4h1V93.3h0.5V93.7h3V93.1h0.5V92.5h0.5V93.1h0.5V92.8h1V93.1h0.5V92.8h0.5V93.0h0.5V92.8h1V92.9h0.5V93.7h0.5V93.3h1V93.7h1.5V93.4h1V93.5h0.5V93.4h0.5V93.5h0.5V93.7h0.5V92.9h0.5V92.8h0.5V93.1h0.5V92.8h0.5V93.1h0.5V92.8h0.5V93.1h0.5V93.0h0.5V92.7h0.5V92.9h0.5V92.7h1V93.2h0.5V93.0h0.5V93.1h1V93.7h2.5V93.3h0.5V93.2h0.5V93.7h2V93.2h0.5V93.3h2V93.7h2V93.3h0.5V93.7h2.5V93.7z" fill="#b4143c"/>
<path d="M67.00 108.30L67.0 108.3L67.5 107.8L68.0 107.5L68.5 107.2L69.0 106.7L69.5 107.0L70.0 107.1L70.5 107.3L71.0 106.6L71.5 106.3L72.0 106.2L72.5 106.3L73.0 106.3L73.5 106.4L74.0 106.6L74.5 106.8L75.0 106.4L75.5 106.3L76.0 106.1L76.5 106.6L77.0 105.7L77.5 106.4L78.0 106.3L78.5 107.2L79.0 106.9L79.5 107.3L80.0 107.8L80.5 108.0L81.0 108.3L81.00 108.30Z" fill="#5e9a28"/>
<path d="M208.70 108.30L208.7 108.3L209.2 107.6L209.7 107.2L210.2 106.7L210.7 106.6L211.2 107.0L211.7 107.0L212.2 107.0L212.7 106.4L213.2 106.5L213.7 107.3L214.2 107.9L214.50 108.30Z" fill="#5e9a28"/>
<path d="M286.50 108.30L286.5 108.3L287.0 107.8L287.5 107.9L288.0 107.7L288.5 107.6L289.0 107.8L289.5 107.7L290.0 107.6L290.5 107.6L291.0 107.9L291.5 107.7L292.0 107.9L292.5 107.1L293.0 105.2L293.5 105.8L294.0 105.4L294.5 105.6L295.0 105.8L295.5 105.9L296.0 105.7L296.5 104.8L297.0 105.1L297.5 105.6L298.0 105.9L298.5 105.4L299.0 104.5L299.5 104.9L300.0 104.3L300.5 103.8L301.0 105.2L301.5 103.8L302.0 105.2L302.5 103.1L303.0 104.6L303.5 104.2L304.0 102.0L304.5 103.5L305.0 104.4L305.5 103.3L306.0 104.6L306.5 104.1L307.0 105.2L307.5 105.0L308.0 104.3L308.5 105.2L309.0 104.4L309.5 105.9L310.0 105.7L310.5 107.1L311.0 107.2L311.5 107.5L312.0 107.3L312.5 104.3L313.0 103.2L313.5 102.0L314.0 103.7L314.5 103.3L315.0 104.0L315.5 102.5L316.0 101.4L316.5 102.4L317.0 102.8L317.5 100.8L318.0 100.8L318.5 101.4L319.0 103.5L319.5 101.3L320.0 101.9L320.5 99.5L321.0 101.5L321.5 99.8L322.0 99.5L322.5 100.4L323.0 99.8L323.5 99.6L324.0 99.1L324.5 101.4L325.0 102.4L325.5 100.2L326.0 103.6L326.5 100.9L327.0 101.5L327.5 102.0L328.0 102.1L328.5 100.6L329.0 99.6L329.5 99.9L330.0 100.0L330.5 103.2L331.0 102.2L331.5 103.1L332.0 100.4L332.5 100.4L333.0 103.0L333.5 101.2L334.0 101.0L334.5 103.0L335.0 101.4L335.5 99.8L336.0 100.4L336.5 102.0L337.0 100.2L337.5 102.2L338.0 101.4L338.5 102.0L339.0 101.2L339.5 103.4L340.0 104.2L340.5 104.9L341.0 105.7L341.5 104.8L342.0 105.1L342.5 105.2L343.0 105.8L343.5 106.0L344.0 105.3L344.5 104.8L345.0 104.9L345.5 105.6L346.0 106.0L346.5 105.2L347.0 104.4L347.5 105.7L348.0 104.4L348.5 105.5L349.0 105.1L349.5 105.5L350.0 104.9L350.5 104.7L351.0 103.4L351.5 103.3L352.0 105.1L352.5 104.8L353.0 103.3L353.5 104.5L354.0 103.7L354.5 102.8L355.0 103.5L355.5 102.5L356.0 101.4L356.5 102.4L357.0 101.5L357.5 104.5L358.0 104.7L358.5 103.0L359.0 104.2L359.5 103.3L360.0 103.8L360.5 103.5L361.0 104.7L361.5 105.1L362.0 103.7L362.5 104.4L363.0 104.2L363.5 103.9L364.0 103.7L364.5 104.8L365.0 104.6L365.5 103.3L366.0 104.2L366.5 104.8L367.0 102.6L367.5 102.7L368.0 99.2L368.5 101.8L369.0 96.8L369.5 98.4L370.0 100.3L370.5 98.5L371.0 102.3L371.5 102.5L372.0 103.3L372.5 101.5L373.0 100.9L373.5 100.6L374.0 101.1L374.5 98.7L375.0 102.2L375.5 101.9L376.0 101.3L376.5 101.0L377.0 102.1L377.5 101.8L378.0 101.5L378.5 103.4L379.0 102.7L379.5 104.1L380.0 105.6L380.5 106.3L381.0 106.7L381.5 106.5L382.0 106.2L382.5 104.5L383.0 104.9L383.5 104.7L384.0 104.2L384.5 103.4L385.0 105.0L385.5 104.5L386.0 105.2L386.5 104.4L387.0 104.2L387.5 103.4L388.0 103.9L388.5 104.1L389.0 104.5L389.5 104.2L390.0 104.9L390.5 103.6L391.0 103.8L391.5 103.7L392.0 105.2L392.5 104.7L393.0 105.1L393.5 106.0L394.0 107.3L394.30 108.30Z" fill="#5e9a28"/>
<path d="M66.50 122.80L66.5 122.8L67.0 121.7L67.5 120.6L68.0 119.8L68.5 118.3L69.0 119.1L69.5 117.3L70.0 118.0L70.5 118.9L71.0 118.5L71.5 118.1L72.0 117.4L72.5 118.1L73.0 119.9L73.5 120.1L74.0 120.2L74.5 120.5L75.0 119.7L75.5 119.3L76.0 119.7L76.5 120.5L77.0 120.2L77.5 121.1L78.0 120.3L78.5 121.2L79.0 121.7L79.5 121.4L80.0 122.0L80.5 122.1L81.0 122.4L81.5 122.5L82.0 122.8L82.00 122.80Z" fill="#5e9a28"/>
<path d="M208.70 122.80L208.7 122.8L209.2 122.2L209.7 120.7L210.2 121.2L210.7 121.4L211.2 121.5L211.7 121.5L212.2 121.2L212.7 121.1L213.2 121.9L213.7 122.4L214.00 122.80Z" fill="#5e9a28"/>
<path d="M292.50 122.80L292.5 122.8L293.0 122.3L293.5 121.8L294.0 121.4L294.5 121.3L295.0 120.3L295.5 121.2L296.0 121.0L296.5 121.3L297.0 121.7L297.5 121.3L298.0 121.1L298.5 121.0L299.0 121.0L299.5 120.7L300.0 120.5L300.5 120.6L301.0 119.6L301.5 119.2L302.0 119.1L302.5 118.6L303.0 119.2L303.5 118.6L304.0 120.2L304.5 120.0L305.0 120.7L305.5 120.3L306.0 120.0L306.5 119.9L307.0 120.1L307.5 120.1L308.0 120.2L308.5 120.2L309.0 120.6L309.5 121.0L310.0 120.9L310.5 121.3L311.0 122.1L311.5 122.4L312.0 122.3L312.5 122.3L313.0 122.3L313.5 121.6L314.0 120.8L314.5 120.6L315.0 120.7L315.5 120.5L316.0 120.4L316.5 120.5L317.0 120.5L317.5 121.0L318.0 120.8L318.5 120.9L319.0 120.1L319.5 120.1L320.0 120.1L320.5 120.4L321.0 120.2L321.5 120.5L322.0 120.1L322.5 119.8L323.0 120.6L323.5 120.9L324.0 120.9L324.5 120.5L325.0 119.7L325.5 119.6L326.0 119.7L326.5 120.0L327.0 119.8L327.5 119.7L328.0 119.1L328.5 119.7L329.0 119.4L329.5 119.7L330.0 120.1L330.5 120.3L331.0 119.9L331.5 120.6L332.0 120.5L332.5 120.0L333.0 120.0L333.5 120.2L334.0 120.1L334.5 120.0L335.0 118.3L335.5 118.2L336.0 117.2L336.5 116.7L337.0 117.3L337.5 116.7L338.0 118.2L338.5 118.4L339.0 119.2L339.5 120.6L340.0 121.2L340.5 121.6L341.0 121.5L341.5 121.6L342.0 121.8L342.5 121.4L343.0 121.4L343.5 121.6L344.0 121.8L344.5 121.4L345.0 121.6L345.5 121.6L346.0 121.2L346.5 120.7L347.0 120.3L347.5 120.4L348.0 120.0L348.5 120.3L349.0 120.1L349.5 119.3L350.0 120.0L350.5 120.5L351.0 120.1L351.5 120.7L352.0 120.8L352.5 120.3L353.0 119.9L353.5 119.5L354.0 119.1L354.5 119.2L355.0 119.0L355.5 117.0L356.0 117.7L356.5 116.9L357.0 117.9L357.5 118.3L358.0 119.2L358.5 119.7L359.0 119.0L359.5 118.8L360.0 119.0L360.5 119.4L361.0 118.3L361.5 119.2L362.0 120.2L362.5 120.4L363.0 120.2L363.5 120.9L364.0 120.8L364.5 120.5L365.0 120.6L365.5 120.8L366.0 120.8L366.5 120.9L367.0 120.5L367.5 119.0L368.0 118.7L368.5 119.4L369.0 119.0L369.5 119.0L370.0 118.5L370.5 119.9L371.0 119.8L371.5 119.5L372.0 119.8L372.5 119.4L373.0 120.1L373.5 120.2L374.0 120.3L374.5 119.4L375.0 120.3L375.5 119.6L376.0 120.2L376.5 120.9L377.0 120.7L377.5 121.4L378.0 121.4L378.5 121.8L379.0 121.8L379.5 122.1L380.0 122.3L380.5 122.6L381.0 122.8L381.00 122.80Z" fill="#5e9a28"/>
<path d="M53 53.00H51.6V64.60" fill="none" stroke="#8c2a30" stroke-width="0.55"/>
<text x="49.9" y="54.90" font-size="4.0" fill="#8c2a30" text-anchor="end">0.7</text>
<text x="49.9" y="65.10" font-size="4.0" fill="#8c2a30" text-anchor="end">0</text>
<path d="M53 67.80H51.6V79.20" fill="none" stroke="#b4143c" stroke-width="0.55"/>
<text x="49.9" y="69.70" font-size="4.0" fill="#b4143c" text-anchor="end">3</text>
<text x="49.9" y="79.70" font-size="4.0" fill="#b4143c" text-anchor="end">0</text>
<path d="M53 82.50H51.6V93.70" fill="none" stroke="#b4143c" stroke-width="0.55"/>
<text x="49.9" y="84.40" font-size="4.0" fill="#b4143c" text-anchor="end">3</text>
<text x="49.9" y="94.20" font-size="4.0" fill="#b4143c" text-anchor="end">0</text>
<path d="M53 97.00H51.6V108.30" fill="none" stroke="#5e9a28" stroke-width="0.55"/>
<text x="49.9" y="98.90" font-size="4.0" fill="#5e9a28" text-anchor="end">4.732</text>
<text x="49.9" y="108.80" font-size="4.0" fill="#5e9a28" text-anchor="end">0</text>
<path d="M53 111.60H51.6V122.80" fill="none" stroke="#5e9a28" stroke-width="0.55"/>
<text x="49.9" y="113.50" font-size="4.0" fill="#5e9a28" text-anchor="end">4.732</text>
<text x="49.9" y="123.30" font-size="4.0" fill="#5e9a28" text-anchor="end">0</text>
<text x="239.50" y="57.07" font-size="5.2" fill="#9a2a2e" stroke="#9a2a2e" stroke-width="0.06" text-anchor="middle" textLength="15.00" lengthAdjust="spacingAndGlyphs">Hoxa9</text>
<text x="239.50" y="71.67" font-size="5.2" fill="#c42a52" stroke="#c42a52" stroke-width="0.06" text-anchor="middle" textLength="18.80" lengthAdjust="spacingAndGlyphs">RNA_0h</text>
<text x="239.50" y="85.67" font-size="5.2" fill="#c42a52" stroke="#c42a52" stroke-width="0.06" text-anchor="middle" textLength="21.30" lengthAdjust="spacingAndGlyphs">RNA_72h</text>
<text x="239.00" y="100.67" font-size="5.2" fill="#5e9a28" stroke="#5e9a28" stroke-width="0.06" text-anchor="middle" textLength="28.80" lengthAdjust="spacingAndGlyphs">H3K27ac_0h</text>
<text x="239.00" y="115.37" font-size="5.2" fill="#5e9a28" stroke="#5e9a28" stroke-width="0.06" text-anchor="middle" textLength="32.00" lengthAdjust="spacingAndGlyphs">H3K27ac_72h</text>
<line x1="54.40" y1="52.00" x2="54.40" y2="123.30" stroke="#f3c6c6" stroke-width="0.5" />
<rect x="61.30" y="52.90" width="23.90" height="70.90" fill="none" stroke="#e07c80" stroke-width="0.6" />
<rect x="198.80" y="53.00" width="23.70" height="70.80" fill="none" stroke="#f6cfd0" stroke-width="0.5" />
<rect x="287.50" y="53.00" width="22.50" height="70.80" fill="none" stroke="#e68a8c" stroke-width="0.6" />
<rect x="341.30" y="53.00" width="23.70" height="70.80" fill="none" stroke="#e68a8c" stroke-width="0.6" />
<line x1="362.00" y1="53.00" x2="362.00" y2="123.50" stroke="#f0b0b0" stroke-width="0.4" />
<line x1="52.30" y1="139.80" x2="80.80" y2="139.80" stroke="#8a8a8a" stroke-width="0.6" />
<line x1="55.30" y1="139.00" x2="55.30" y2="140.60" stroke="#555" stroke-width="0.5" />
<line x1="63.80" y1="139.00" x2="63.80" y2="140.60" stroke="#555" stroke-width="0.5" />
<line x1="72.30" y1="139.00" x2="72.30" y2="140.60" stroke="#555" stroke-width="0.5" />
<rect x="52.30" y="138.50" width="7.70" height="2.60" fill="#0a14c8" stroke="none" stroke-width="1" />
<rect x="58.00" y="137.90" width="2.00" height="3.80" fill="#0a14c8" stroke="none" stroke-width="1" />
<rect x="62.30" y="137.50" width="2.70" height="4.60" fill="#0a14c8" stroke="none" stroke-width="1" />
<rect x="65.00" y="138.80" width="2.00" height="2.00" fill="#0a14c8" stroke="none" stroke-width="1" />
<rect x="78.50" y="138.80" width="1.50" height="2.00" fill="#0a14c8" stroke="none" stroke-width="1" />
<line x1="81.20" y1="139.80" x2="93.40" y2="139.80" stroke="#8a8a8a" stroke-width="0.6" />
<rect x="81.20" y="138.40" width="3.00" height="2.80" fill="#0a14c8" stroke="none" stroke-width="1" />
<rect x="84.20" y="137.50" width="4.00" height="4.60" fill="#0a14c8" stroke="none" stroke-width="1" />
<rect x="90.30" y="138.10" width="1.70" height="3.40" fill="#0a14c8" stroke="none" stroke-width="1" />
<path d="M91.8 137.9L94.0 139.8L91.8 141.7Z" fill="#0a14c8"/>
<line x1="108.80" y1="139.80" x2="196.30" y2="139.80" stroke="#8a8a8a" stroke-width="0.6" />
<line x1="111.80" y1="139.00" x2="111.80" y2="140.60" stroke="#555" stroke-width="0.5" />
<line x1="120.30" y1="139.00" x2="120.30" y2="140.60" stroke="#555" stroke-width="0.5" />
<line x1="128.80" y1="139.00" x2="128.80" y2="140.60" stroke="#555" stroke-width="0.5" />
<line x1="137.30" y1="139.00" x2="137.30" y2="140.60" stroke="#555" stroke-width="0.5" />
<line x1="145.80" y1="139.00" x2="145.80" y2="140.60" stroke="#555" stroke-width="0.5" />
<line x1="154.30" y1="139.00" x2="154.30" y2="140.60" stroke="#555" stroke-width="0.5" />
<line x1="162.80" y1="139.00" x2="162.80" y2="140.60" stroke="#555" stroke-width="0.5" />
<line x1="171.30" y1="139.00" x2="171.30" y2="140.60" stroke="#555" stroke-width="0.5" />
<line x1="179.80" y1="139.00" x2="179.80" y2="140.60" stroke="#555" stroke-width="0.5" />
<line x1="188.30" y1="139.00" x2="188.30" y2="140.60" stroke="#555" stroke-width="0.5" />
<rect x="108.80" y="138.40" width="7.40" height="2.80" fill="#0a14c8" stroke="none" stroke-width="1" />
<rect x="116.20" y="137.50" width="2.60" height="4.60" fill="#0a14c8" stroke="none" stroke-width="1" />
<rect x="125.00" y="137.50" width="3.00" height="4.60" fill="#0a14c8" stroke="none" stroke-width="1" />
<rect x="194.50" y="138.80" width="1.80" height="2.00" fill="#0a14c8" stroke="none" stroke-width="1" />
<line x1="203.20" y1="139.80" x2="212.50" y2="139.80" stroke="#8a8a8a" stroke-width="0.6" />
<rect x="203.20" y="138.50" width="3.60" height="2.60" fill="#0a14c8" stroke="none" stroke-width="1" />
<rect x="210.00" y="137.50" width="2.50" height="4.60" fill="#0a14c8" stroke="none" stroke-width="1" />
<path d="M207.0 137.6L204.0 139.8L207.0 142.0Z" fill="#0a14c8"/>
<line x1="253.00" y1="139.80" x2="319.20" y2="139.80" stroke="#8a8a8a" stroke-width="0.6" />
<line x1="256.00" y1="139.00" x2="256.00" y2="140.60" stroke="#555" stroke-width="0.5" />
<line x1="264.50" y1="139.00" x2="264.50" y2="140.60" stroke="#555" stroke-width="0.5" />
<line x1="273.00" y1="139.00" x2="273.00" y2="140.60" stroke="#555" stroke-width="0.5" />
<line x1="281.50" y1="139.00" x2="281.50" y2="140.60" stroke="#555" stroke-width="0.5" />
<line x1="290.00" y1="139.00" x2="290.00" y2="140.60" stroke="#555" stroke-width="0.5" />
<line x1="298.50" y1="139.00" x2="298.50" y2="140.60" stroke="#555" stroke-width="0.5" />
<line x1="307.00" y1="139.00" x2="307.00" y2="140.60" stroke="#555" stroke-width="0.5" />
<line x1="315.50" y1="139.00" x2="315.50" y2="140.60" stroke="#555" stroke-width="0.5" />
<rect x="253.00" y="138.70" width="1.20" height="2.20" fill="#0a14c8" stroke="none" stroke-width="1" />
<rect x="303.80" y="138.30" width="15.40" height="3.00" fill="#0a14c8" stroke="none" stroke-width="1" />
<rect x="301.20" y="138.80" width="1.00" height="2.00" fill="#6a72dc" stroke="none" stroke-width="1" />
<line x1="347.00" y1="139.80" x2="422.50" y2="139.80" stroke="#8a8a8a" stroke-width="0.6" />
<line x1="350.00" y1="139.00" x2="350.00" y2="140.60" stroke="#555" stroke-width="0.5" />
<line x1="358.50" y1="139.00" x2="358.50" y2="140.60" stroke="#555" stroke-width="0.5" />
<line x1="367.00" y1="139.00" x2="367.00" y2="140.60" stroke="#555" stroke-width="0.5" />
<line x1="375.50" y1="139.00" x2="375.50" y2="140.60" stroke="#555" stroke-width="0.5" />
<line x1="384.00" y1="139.00" x2="384.00" y2="140.60" stroke="#555" stroke-width="0.5" />
<line x1="392.50" y1="139.00" x2="392.50" y2="140.60" stroke="#555" stroke-width="0.5" />
<line x1="401.00" y1="139.00" x2="401.00" y2="140.60" stroke="#555" stroke-width="0.5" />
<line x1="409.50" y1="139.00" x2="409.50" y2="140.60" stroke="#555" stroke-width="0.5" />
<line x1="418.00" y1="139.00" x2="418.00" y2="140.60" stroke="#555" stroke-width="0.5" />
<rect x="347.00" y="138.30" width="6.50" height="3.00" fill="#0a14c8" stroke="none" stroke-width="1" />
<rect x="420.00" y="138.50" width="2.50" height="2.60" fill="#0a14c8" stroke="none" stroke-width="1" />
<line x1="427.50" y1="139.80" x2="461.00" y2="139.80" stroke="#8a8a8a" stroke-width="0.6" />
<line x1="430.50" y1="139.00" x2="430.50" y2="140.60" stroke="#555" stroke-width="0.5" />
<line x1="439.00" y1="139.00" x2="439.00" y2="140.60" stroke="#555" stroke-width="0.5" />
<line x1="447.50" y1="139.00" x2="447.50" y2="140.60" stroke="#555" stroke-width="0.5" />
<line x1="456.00" y1="139.00" x2="456.00" y2="140.60" stroke="#555" stroke-width="0.5" />
<rect x="427.50" y="138.50" width="6.50" height="2.60" fill="#0a14c8" stroke="none" stroke-width="1" />
<rect x="440.00" y="137.50" width="3.80" height="4.60" fill="#0a14c8" stroke="none" stroke-width="1" />
<rect x="445.50" y="138.50" width="2.50" height="2.60" fill="#0a14c8" stroke="none" stroke-width="1" />
<rect x="458.80" y="138.60" width="2.20" height="2.40" fill="#0a14c8" stroke="none" stroke-width="1" />
<path d="M431.5 137.6L434.6 139.8L431.5 142.0Z" fill="#0a14c8"/>
<line x1="493.80" y1="139.80" x2="507.50" y2="139.80" stroke="#8a8a8a" stroke-width="0.6" />
<rect x="493.80" y="138.50" width="6.20" height="2.60" fill="#0a14c8" stroke="none" stroke-width="1" />
<rect x="502.50" y="137.50" width="4.50" height="4.60" fill="#0a14c8" stroke="none" stroke-width="1" />
<path d="M498.0 137.6L500.8 139.8L498.0 142.0Z" fill="#0a14c8"/>
<line x1="52.30" y1="150.90" x2="81.50" y2="150.90" stroke="#8a8a8a" stroke-width="0.6" />
<line x1="55.30" y1="150.10" x2="55.30" y2="151.70" stroke="#555" stroke-width="0.5" />
<line x1="63.80" y1="150.10" x2="63.80" y2="151.70" stroke="#555" stroke-width="0.5" />
<line x1="72.30" y1="150.10" x2="72.30" y2="151.70" stroke="#555" stroke-width="0.5" />
<rect x="52.30" y="149.60" width="7.70" height="2.60" fill="#0a14c8" stroke="none" stroke-width="1" />
<rect x="58.00" y="149.00" width="2.00" height="3.80" fill="#0a14c8" stroke="none" stroke-width="1" />
<rect x="62.30" y="148.60" width="2.70" height="4.60" fill="#0a14c8" stroke="none" stroke-width="1" />
<rect x="65.00" y="149.90" width="2.00" height="2.00" fill="#0a14c8" stroke="none" stroke-width="1" />
<rect x="81.20" y="149.70" width="1.80" height="2.40" fill="#0a14c8" stroke="none" stroke-width="1" />
<line x1="108.80" y1="150.90" x2="165.50" y2="150.90" stroke="#8a8a8a" stroke-width="0.6" />
<line x1="111.80" y1="150.10" x2="111.80" y2="151.70" stroke="#555" stroke-width="0.5" />
<line x1="120.30" y1="150.10" x2="120.30" y2="151.70" stroke="#555" stroke-width="0.5" />
<line x1="128.80" y1="150.10" x2="128.80" y2="151.70" stroke="#555" stroke-width="0.5" />
<line x1="137.30" y1="150.10" x2="137.30" y2="151.70" stroke="#555" stroke-width="0.5" />
<line x1="145.80" y1="150.10" x2="145.80" y2="151.70" stroke="#555" stroke-width="0.5" />
<line x1="154.30" y1="150.10" x2="154.30" y2="151.70" stroke="#555" stroke-width="0.5" />
<line x1="162.80" y1="150.10" x2="162.80" y2="151.70" stroke="#555" stroke-width="0.5" />
<rect x="108.80" y="149.50" width="7.40" height="2.80" fill="#0a14c8" stroke="none" stroke-width="1" />
<rect x="116.20" y="148.60" width="2.60" height="4.60" fill="#0a14c8" stroke="none" stroke-width="1" />
<rect x="125.00" y="148.60" width="3.00" height="4.60" fill="#0a14c8" stroke="none" stroke-width="1" />
<rect x="164.00" y="150.10" width="1.50" height="1.60" fill="#0a14c8" stroke="none" stroke-width="1" />
<line x1="175.00" y1="150.90" x2="203.80" y2="150.90" stroke="#8a8a8a" stroke-width="0.6" />
<line x1="178.00" y1="150.10" x2="178.00" y2="151.70" stroke="#555" stroke-width="0.5" />
<line x1="186.50" y1="150.10" x2="186.50" y2="151.70" stroke="#555" stroke-width="0.5" />
<line x1="195.00" y1="150.10" x2="195.00" y2="151.70" stroke="#555" stroke-width="0.5" />
<rect x="175.00" y="149.80" width="3.00" height="2.20" fill="#0a14c8" stroke="none" stroke-width="1" />
<rect x="179.50" y="149.80" width="1.20" height="2.20" fill="#0a14c8" stroke="none" stroke-width="1" />
<rect x="182.50" y="149.80" width="1.20" height="2.20" fill="#0a14c8" stroke="none" stroke-width="1" />
<rect x="201.00" y="149.80" width="2.80" height="2.20" fill="#0a14c8" stroke="none" stroke-width="1" />
<line x1="256.20" y1="150.90" x2="267.20" y2="150.90" stroke="#8a8a8a" stroke-width="0.6" />
<rect x="256.20" y="149.50" width="4.60" height="2.80" fill="#0a14c8" stroke="none" stroke-width="1" />
<rect x="265.00" y="148.60" width="2.20" height="4.60" fill="#0a14c8" stroke="none" stroke-width="1" />
<path d="M258.4 148.6L261.4 150.9L258.4 153.2Z" fill="#0a14c8"/>
<line x1="275.40" y1="150.90" x2="284.80" y2="150.90" stroke="#8a8a8a" stroke-width="0.6" />
<rect x="275.40" y="148.60" width="1.00" height="4.60" fill="#0a14c8" stroke="none" stroke-width="1" />
<rect x="282.80" y="148.60" width="2.00" height="4.60" fill="#0a14c8" stroke="none" stroke-width="1" />
<line x1="310.50" y1="150.90" x2="322.60" y2="150.90" stroke="#8a8a8a" stroke-width="0.6" />
<rect x="310.50" y="149.50" width="6.00" height="2.80" fill="#0a14c8" stroke="none" stroke-width="1" />
<rect x="320.50" y="148.60" width="2.10" height="4.60" fill="#0a14c8" stroke="none" stroke-width="1" />
<path d="M314.6 148.6L317.4 150.9L314.6 153.2Z" fill="#0a14c8"/>
<line x1="347.00" y1="150.90" x2="360.30" y2="150.90" stroke="#8a8a8a" stroke-width="0.6" />
<rect x="347.00" y="149.50" width="5.30" height="2.80" fill="#0a14c8" stroke="none" stroke-width="1" />
<rect x="357.40" y="148.60" width="2.90" height="4.60" fill="#0a14c8" stroke="none" stroke-width="1" />
<path d="M350.6 148.6L353.6 150.9L350.6 153.2Z" fill="#0a14c8"/>
<line x1="374.60" y1="150.90" x2="387.00" y2="150.90" stroke="#8a8a8a" stroke-width="0.6" />
<rect x="374.60" y="149.90" width="0.60" height="2.00" fill="#0a14c8" stroke="none" stroke-width="1" />
<rect x="376.20" y="149.70" width="2.30" height="2.40" fill="#0a14c8" stroke="none" stroke-width="1" />
<rect x="384.60" y="149.50" width="2.40" height="2.80" fill="#0a14c8" stroke="none" stroke-width="1" />
<line x1="282.00" y1="161.70" x2="319.20" y2="161.70" stroke="#8a8a8a" stroke-width="0.6" />
<line x1="285.00" y1="160.90" x2="285.00" y2="162.50" stroke="#555" stroke-width="0.5" />
<line x1="293.50" y1="160.90" x2="293.50" y2="162.50" stroke="#555" stroke-width="0.5" />
<line x1="302.00" y1="160.90" x2="302.00" y2="162.50" stroke="#555" stroke-width="0.5" />
<line x1="310.50" y1="160.90" x2="310.50" y2="162.50" stroke="#555" stroke-width="0.5" />
<rect x="282.00" y="160.50" width="1.50" height="2.40" fill="#0a14c8" stroke="none" stroke-width="1" />
<rect x="303.80" y="160.20" width="15.40" height="3.00" fill="#0a14c8" stroke="none" stroke-width="1" />
<rect x="301.20" y="160.70" width="1.00" height="2.00" fill="#6a72dc" stroke="none" stroke-width="1" />
<rect x="377.10" y="159.60" width="0.60" height="4.20" fill="#7a80e0" stroke="none" stroke-width="1" />
<line x1="381.80" y1="161.70" x2="422.50" y2="161.70" stroke="#8a8a8a" stroke-width="0.6" />
<line x1="384.80" y1="160.90" x2="384.80" y2="162.50" stroke="#555" stroke-width="0.5" />
<line x1="393.30" y1="160.90" x2="393.30" y2="162.50" stroke="#555" stroke-width="0.5" />
<line x1="401.80" y1="160.90" x2="401.80" y2="162.50" stroke="#555" stroke-width="0.5" />
<line x1="410.30" y1="160.90" x2="410.30" y2="162.50" stroke="#555" stroke-width="0.5" />
<line x1="418.80" y1="160.90" x2="418.80" y2="162.50" stroke="#555" stroke-width="0.5" />
<rect x="381.80" y="160.20" width="7.00" height="3.00" fill="#0a14c8" stroke="none" stroke-width="1" />
<rect x="420.00" y="160.40" width="2.50" height="2.60" fill="#0a14c8" stroke="none" stroke-width="1" />
<line x1="381.80" y1="172.60" x2="397.70" y2="172.60" stroke="#8a8a8a" stroke-width="0.6" />
<rect x="381.80" y="171.20" width="6.20" height="2.80" fill="#0a14c8" stroke="none" stroke-width="1" />
<rect x="393.80" y="170.30" width="3.90" height="4.60" fill="#0a14c8" stroke="none" stroke-width="1" />
<path d="M386.2 170.3L389.2 172.6L386.2 174.9Z" fill="#0a14c8"/>
<text x="58.80" y="148.04" font-size="4.0" fill="#000" stroke="#000" stroke-width="0.04" text-anchor="middle" textLength="13.20" lengthAdjust="spacingAndGlyphs">HOXA1</text>
<text x="88.70" y="148.04" font-size="4.0" fill="#000" stroke="#000" stroke-width="0.04" text-anchor="middle" textLength="13.50" lengthAdjust="spacingAndGlyphs">HOXA2</text>
<text x="152.90" y="148.04" font-size="4.0" fill="#000" stroke="#000" stroke-width="0.04" text-anchor="middle" textLength="13.20" lengthAdjust="spacingAndGlyphs">HOXA3</text>
<text x="208.10" y="148.04" font-size="4.0" fill="#000" stroke="#000" stroke-width="0.04" text-anchor="middle" textLength="13.60" lengthAdjust="spacingAndGlyphs">HOXA4</text>
<text x="286.40" y="148.04" font-size="4.0" fill="#000" stroke="#000" stroke-width="0.04" text-anchor="middle" textLength="19.70" lengthAdjust="spacingAndGlyphs">HOXA-AS3</text>
<text x="385.60" y="148.04" font-size="4.0" fill="#000" stroke="#000" stroke-width="0.04" text-anchor="middle" textLength="21.20" lengthAdjust="spacingAndGlyphs">NR_037940</text>
<text x="435.20" y="148.04" font-size="4.0" fill="#000" stroke="#000" stroke-width="0.04" text-anchor="middle" textLength="15.50" lengthAdjust="spacingAndGlyphs">HOXA11</text>
<text x="500.00" y="148.04" font-size="4.0" fill="#000" stroke="#000" stroke-width="0.04" text-anchor="middle" textLength="15.00" lengthAdjust="spacingAndGlyphs">HOXA13</text>
<text x="58.80" y="158.44" font-size="4.0" fill="#000" stroke="#000" stroke-width="0.04" text-anchor="middle" textLength="13.20" lengthAdjust="spacingAndGlyphs">HOXA1</text>
<text x="137.20" y="158.44" font-size="4.0" fill="#000" stroke="#000" stroke-width="0.04" text-anchor="middle" textLength="13.00" lengthAdjust="spacingAndGlyphs">HOXA3</text>
<text x="190.00" y="158.44" font-size="4.0" fill="#000" stroke="#000" stroke-width="0.04" text-anchor="middle" textLength="20.00" lengthAdjust="spacingAndGlyphs">HOXA-AS2</text>
<text x="261.60" y="158.44" font-size="4.0" fill="#000" stroke="#000" stroke-width="0.04" text-anchor="middle" textLength="13.20" lengthAdjust="spacingAndGlyphs">HOXA5</text>
<text x="280.20" y="158.44" font-size="4.0" fill="#000" stroke="#000" stroke-width="0.04" text-anchor="middle" textLength="13.60" lengthAdjust="spacingAndGlyphs">HOXA6</text>
<text x="316.80" y="158.44" font-size="4.0" fill="#000" stroke="#000" stroke-width="0.04" text-anchor="middle" textLength="13.50" lengthAdjust="spacingAndGlyphs">HOXA7</text>
<text x="354.10" y="158.44" font-size="4.0" fill="#000" stroke="#000" stroke-width="0.04" text-anchor="middle" textLength="13.40" lengthAdjust="spacingAndGlyphs">HOXA9</text>
<text x="381.00" y="158.44" font-size="4.0" fill="#000" stroke="#000" stroke-width="0.04" text-anchor="middle" textLength="22.00" lengthAdjust="spacingAndGlyphs">HOXA10-AS</text>
<text x="300.90" y="169.64" font-size="4.0" fill="#000" stroke="#000" stroke-width="0.04" text-anchor="middle" textLength="19.30" lengthAdjust="spacingAndGlyphs">HOXA-AS3</text>
<text x="377.70" y="169.64" font-size="4.0" fill="#000" stroke="#000" stroke-width="0.04" text-anchor="middle" textLength="16.30" lengthAdjust="spacingAndGlyphs">MIR196B</text>
<text x="402.30" y="169.64" font-size="4.0" fill="#000" stroke="#000" stroke-width="0.04" text-anchor="middle" textLength="15.40" lengthAdjust="spacingAndGlyphs">HOXA10</text>
<text x="389.60" y="180.04" font-size="4.0" fill="#000" stroke="#000" stroke-width="0.04" text-anchor="middle" textLength="16.20" lengthAdjust="spacingAndGlyphs">HOXA10</text>
<path d="M52.5 195.6V194.5h0.5V194.4h0.5V194.5h0.5V194.4h0.5V194.8h0.5V194.5h0.5V194.8h0.5V194.5h1V194.9h0.5V194.8h0.5V195.1h0.5V194.9h1.5V195.1h0.5V194.8h1V193.7h0.5V193.8h1V193.9h1V194.5h0.5V194.8h0.5V191.6h0.5V185.5h0.5V184.1h0.5V191.6h0.5V192.6h0.5V194.1h0.5V194.2h0.5V194.9h0.5V194.3h0.5V194.6h0.5V194.7h0.5V194.8h0.5V194.5h0.5V195.6h0.5V194.9h0.5V195.0h0.5V194.9h1.5V193.4h0.5V192.7h0.5V195.6h1.5V194.4h0.5V194.5h0.5V194.6h0.5V193.7h0.5V194.3h0.5V194.0h0.5V194.3h0.5V194.1h0.5V193.6h0.5V194.5h0.5V194.1h0.5V193.9h0.5V194.1h0.5V193.6h0.5V194.2h0.5V195.6h0.5V194.8h0.5V195.0h0.5V194.9h0.5V191.2h0.5V191.1h0.5V194.9h0.5V195.0h0.5V192.4h0.5V192.7h0.5V194.9h1V194.8h0.5V192.4h0.5V192.3h0.5V194.9h0.5V195.0h1V192.9h0.5V193.0h0.5V195.0h0.5V195.6h1V193.3h0.5V193.4h0.5V195.6h1V194.6h1.5V194.7h0.5V194.9h0.5V194.7h0.5V195.6h1.5V195.1h0.5V194.8h0.5V194.7h0.5V195.6h0.5V194.8h0.5V194.7h0.5V194.5h0.5V194.3h0.5V194.7h0.5V194.5h0.5V195.6h1V194.7h1V195.6h1.5V194.7h0.5V194.5h0.5V195.1h1V195.0h1V194.7h0.5V194.9h0.5V194.3h0.5V194.4h0.5V194.6h0.5V194.7h0.5V194.6h0.5V194.7h0.5V194.9h0.5V194.6h0.5V194.3h0.5V194.4h0.5V194.6h0.5V194.5h0.5V195.6h0.5V194.4h0.5V194.3h0.5V195.6h0.5V193.0h0.5V192.9h0.5V192.8h0.5V193.3h0.5V192.6h0.5V192.5h0.5V195.6h1.5V194.6h0.5V195.6h0.5V194.3h0.5V194.6h0.5V194.2h0.5V193.6h0.5V194.7h0.5V194.5h0.5V194.7h0.5V194.8h0.5V194.6h0.5V194.2h0.5V194.3h0.5V195.0h0.5V194.9h0.5V195.0h0.5V194.8h0.5V195.0h0.5V194.8h0.5V194.9h1V194.8h0.5V194.9h0.5V194.8h0.5V194.7h0.5V194.9h0.5V195.0h0.5V194.9h2V195.0h0.5V195.6h2V194.6h1V194.5h0.5V195.6h3V192.5h0.5V192.7h0.5V194.5h1V195.0h0.5V193.0h0.5V192.9h0.5V194.9h0.5V195.0h0.5V194.9h0.5V194.5h0.5V194.6h1.5V195.6h2V194.2h1V194.5h0.5V195.6h1.5V194.7h0.5V194.6h0.5V193.6h0.5V193.2h0.5V195.6h3V195.0h1V195.6h2V194.4h0.5V194.7h0.5V194.6h0.5V194.3h0.5V194.4h0.5V195.6h1V194.6h0.5V194.4h0.5V192.9h0.5V193.2h0.5V193.5h0.5V193.7h0.5V193.2h0.5V195.6h1.5V194.4h0.5V194.8h0.5V195.0h2V193.5h0.5V193.4h0.5V194.0h0.5V194.3h0.5V194.5h0.5V194.4h0.5V194.6h0.5V194.2h0.5V194.4h0.5V195.0h0.5V195.1h0.5V195.0h0.5V193.5h1.5V193.9h0.5V194.0h0.5V193.6h0.5V195.0h0.5V194.8h0.5V194.9h1.5V195.6h1V194.9h0.5V194.8h0.5V195.0h0.5V194.8h0.5V194.6h0.5V194.5h0.5V194.7h1V194.5h0.5V194.8h0.5V193.5h0.5V193.0h0.5V195.0h2.5V194.9h0.5V195.1h0.5V194.9h0.5V195.0h0.5V194.4h0.5V193.5h0.5V193.4h0.5V194.3h1V194.8h0.5V195.1h0.5V194.9h0.5V194.8h0.5V194.9h0.5V192.7h1V193.0h0.5V193.4h0.5V193.1h0.5V193.4h0.5V195.6h0.5V194.6h1.5V194.4h0.5V195.6h1V194.8h0.5V194.9h1V194.6h0.5V194.9h0.5V194.6h0.5V194.4h0.5V194.5h0.5V194.6h1.5V194.7h0.5V192.8h0.5V193.2h0.5V194.6h0.5V194.8h0.5V194.6h0.5V194.8h1V194.6h0.5V195.0h1V194.9h0.5V194.8h0.5V195.0h1V194.2h0.5V194.5h0.5V194.9h0.5V194.6h0.5V194.9h0.5V194.4h0.5V194.7h0.5V194.4h1V195.6h2.5V194.7h1V194.5h1V194.8h0.5V194.5h0.5V194.7h1V194.8h1V193.4h0.5V192.3h0.5V194.8h1V194.4h1V194.6h0.5V194.7h1V194.4h0.5V195.6h0.5V192.4h0.5V192.7h0.5V194.7h0.5V194.6h0.5V194.7h0.5V194.6h1V194.4h0.5V195.6h3V192.9h0.5V192.7h0.5V194.3h0.5V194.7h0.5V195.0h0.5V193.1h0.5V193.8h0.5V194.9h1V195.1h0.5V195.0h0.5V194.9h0.5V195.6h1V194.6h0.5V194.4h1V194.3h0.5V194.6h0.5V194.2h1V194.4h0.5V195.6h1V194.5h0.5V194.3h0.5V195.6h1V194.6h0.5V194.5h0.5V193.3h0.5V193.2h0.5V194.6h0.5V194.7h0.5V195.1h0.5V195.0h1V195.1h0.5V194.9h1V195.0h0.5V194.9h1V194.7h0.5V194.3h0.5V194.5h0.5V194.7h0.5V194.6h0.5V194.7h0.5V194.8h1.5V194.7h0.5V194.6h0.5V195.0h0.5V194.9h0.5V195.0h0.5V194.8h0.5V194.4h1V194.7h0.5V194.9h1V194.8h1V194.7h0.5V195.0h1V194.9h0.5V194.7h1V194.9h0.5V194.7h0.5V194.6h0.5V194.5h0.5V194.4h0.5V194.5h0.5V194.6h0.5V195.6h0.5V194.3h0.5V194.2h0.5V194.5h0.5V194.7h0.5V194.4h0.5V194.9h0.5V194.4h0.5V194.2h0.5V194.6h0.5V194.0h0.5V190.6h0.5V184.1h0.5V183.3h0.5V190.4h0.5V189.6h0.5V194.7h0.5V193.8h0.5V194.6h0.5V193.8h0.5V194.0h0.5V194.6h0.5V194.4h0.5V194.7h0.5V195.0h0.5V195.1h0.5V194.8h0.5V192.1h0.5V193.1h0.5V192.6h0.5V195.6h2V194.6h1V194.7h0.5V194.6h0.5V194.9h1V194.7h0.5V194.5h0.5V194.8h0.5V194.9h0.5V194.3h0.5V194.4h0.5V194.6h0.5V193.2h0.5V194.9h0.5V194.7h0.5V194.8h1V194.7h0.5V193.4h0.5V192.8h0.5V194.8h0.5V195.6h4.5V194.5h0.5V194.7h0.5V194.6h1V194.4h0.5V194.3h1V195.6h3V194.7h0.5V194.9h0.5V194.5h0.5V194.8h0.5V194.5h0.5V194.6h0.5V194.8h0.5V194.6h0.5V194.4h0.5V194.7h0.5V194.4h0.5V194.7h0.5V194.8h0.5V194.7h0.5V194.9h0.5V195.6h1.5V194.9h0.5V194.8h0.5V195.6h3.5V193.9h0.5V194.4h0.5V194.3h0.5V194.1h1V194.4h0.5V194.0h0.5V194.5h0.5V193.9h0.5V194.4h0.5V194.7h0.5V194.1h0.5V194.7h0.5V194.2h0.5V194.8h0.5V193.9h0.5V194.3h0.5V194.1h0.5V194.7h0.5V194.2h0.5V194.5h0.5V194.6h0.5V193.1h0.5V194.3h0.5V193.7h0.5V194.3h0.5V193.1h0.5V193.0h0.5V194.3h0.5V191.3h1V187.0h0.5V186.9h0.5V192.9h0.5V192.0h0.5V193.1h0.5V194.8h0.5V194.2h0.5V194.8h0.5V194.7h0.5V194.4h0.5V194.6h0.5V194.8h0.5V194.1h0.5V195.6h0.5V194.6h0.5V195.6h3V193.0h0.5V193.4h0.5V193.7h0.5V193.0h0.5V195.6h1.5V194.6h0.5V194.8h0.5V194.5h1V194.4h0.5V195.6h3V192.9h0.5V194.6h0.5V194.8h0.5V194.6h0.5V194.7h1V194.6h0.5V194.9h0.5V194.6h0.5V194.7h0.5V194.9h1V194.7h0.5V195.0h1V194.8h0.5V193.4h0.5V193.0h0.5V195.0h0.5V195.6h0.5V194.4h1V194.5h0.5V194.2h0.5V194.6h0.5V194.5h0.5V194.3h0.5V194.4h0.5V194.3h0.5V195.0h1.5V194.9h0.5V194.8h1V194.9h0.5V195.6h2V194.6h0.5V194.4h0.5V193.1h0.5V193.6h0.5V193.1h0.5V193.2h0.5V194.6h1V194.5h1V194.7h0.5V195.0h0.5V195.6h3V194.8h0.5V194.6h0.5V194.7h0.5V194.3h0.5V194.6h0.5V194.5h0.5V193.5h0.5V193.6h0.5V194.5h0.5V195.6h1V194.9h0.5V193.6h1V193.5h1V193.9h0.5V194.1h0.5V194.7h0.5V194.8h1V194.7h1V194.5h0.5V195.0h0.5V195.1h1V195.0h0.5V194.9h1V194.8h0.5V194.6h0.5V193.4h0.5V193.5h0.5V193.1h0.5V192.2h0.5V193.2h0.5V194.3h1V194.6h0.5V194.5h0.5V194.6h0.5V194.4h0.5V195.6h1.5V194.6h0.5V194.3h0.5V191.8h0.5V192.7h0.5V194.7h0.5V194.4h0.5V194.3h0.5V194.4h0.5V193.6h0.5V192.8h0.5V195.6h1V193.6h0.5V193.3h0.5V193.1h0.5V193.2h0.5V193.3h0.5V193.0h0.5V194.4h0.5V194.6h0.5V194.4h1V194.5h1V194.6h0.5V194.8h0.5V194.7h0.5V194.6h0.5V194.5h1V193.0h0.5V193.3h0.5V194.5h0.5V194.6h0.5V194.4h0.5V194.9h2.5V195.6h3V194.8h0.5V194.6h0.5V194.7h0.5V194.6h1V194.3h0.5V194.6h0.5V195.0h0.5V195.1h0.5V195.0h0.5V194.9h0.5V195.1h0.5V194.9h1.5V194.4h0.5V195.6h1.5V193.0h0.5V193.4h0.5V194.2h1.5V194.9h0.5V194.8h0.5V195.0h0.5V194.9h1V195.1h1V195.0h0.5V194.9h1V193.1h0.5V193.2h0.5V194.6h0.5V194.8h1.5V195.6h0.5V194.9h0.5V194.7h0.5V194.8h0.5V194.5h0.5V194.4h0.5V195.1h0.5V195.0h0.5V194.9h0.5V195.6h7V194.7h0.5V194.8h0.5V194.7h0.5V194.8h1V195.6h0.5V194.7h0.5V194.8h1V192.1h0.5V192.5h0.5V194.7h0.5V194.8h0.5V194.6h0.5V194.5h0.5V194.6h0.5V194.9h0.5V193.8h0.5V192.7h0.5V194.9h0.5V194.4h1V194.5h0.5V194.3h0.5V194.7h0.5V194.6h0.5V194.3h0.5V194.6h0.5V194.5h0.5V194.8h0.5V194.6h1V194.8h0.5V193.4h0.5V193.9h0.5V195.0h0.5V194.9h0.5V195.6h3V194.8h1V195.6h1V195.6z" fill="#8c0a12"/>
<path d="M53 184H51.6V195.6" fill="none" stroke="#8c2a30" stroke-width="0.55"/>
<text x="49.9" y="185.8" font-size="4.0" fill="#8c2a30" text-anchor="end">1</text>
<text x="49.9" y="196.3" font-size="4.0" fill="#8c2a30" text-anchor="end">0</text>
<text x="185.50" y="187.47" font-size="5.2" fill="#9a2a2e" stroke="#9a2a2e" stroke-width="0.06" text-anchor="middle" textLength="15.00" lengthAdjust="spacingAndGlyphs">Hoxa9</text>
<rect x="61.50" y="181.30" width="23.50" height="15.70" fill="none" stroke="#e07c80" stroke-width="0.6" />
<rect x="207.50" y="181.30" width="67.50" height="15.70" fill="none" stroke="#f8dcdc" stroke-width="0.5" />
<rect x="289.50" y="181.30" width="23.80" height="15.70" fill="none" stroke="#e68a8c" stroke-width="0.6" />
<rect x="343.80" y="181.30" width="23.70" height="15.70" fill="none" stroke="#e68a8c" stroke-width="0.6" />
<line x1="35.50" y1="197.00" x2="511.80" y2="197.00" stroke="#8c8c8c" stroke-width="0.9" />
<text x="7.00" y="215.15" font-size="11.8" fill="#111" stroke="#111" stroke-width="0.1" textLength="7.60" lengthAdjust="spacingAndGlyphs" >B</text>
<path d="M38.55 239.2V218.5H177.1V239.2M177.1 246.8V334.2H38.55V246.8" fill="none" stroke="#111" stroke-width="1.15"/>
<line x1="34.85" y1="241.60" x2="42.35" y2="237.00" stroke="#111" stroke-width="1.1" />
<line x1="34.85" y1="249.20" x2="42.35" y2="244.40" stroke="#111" stroke-width="1.1" />
<line x1="173.40" y1="241.60" x2="180.90" y2="237.00" stroke="#111" stroke-width="1.1" />
<line x1="173.40" y1="249.20" x2="180.90" y2="244.40" stroke="#111" stroke-width="1.1" />
<line x1="34.95" y1="222.30" x2="38.55" y2="222.30" stroke="#111" stroke-width="0.9" />
<text x="22.85" y="224.61" font-size="6.6" fill="#111" stroke="#111" stroke-width="0.06" textLength="10.20" lengthAdjust="spacingAndGlyphs">200</text>
<line x1="34.95" y1="235.50" x2="38.55" y2="235.50" stroke="#111" stroke-width="0.9" />
<text x="22.85" y="237.81" font-size="6.6" fill="#111" stroke="#111" stroke-width="0.06" textLength="10.20" lengthAdjust="spacingAndGlyphs">150</text>
<line x1="34.95" y1="249.60" x2="38.55" y2="249.60" stroke="#111" stroke-width="0.9" />
<text x="26.25" y="251.91" font-size="6.6" fill="#111" stroke="#111" stroke-width="0.06" textLength="6.80" lengthAdjust="spacingAndGlyphs">40</text>
<line x1="34.95" y1="270.85" x2="38.55" y2="270.85" stroke="#111" stroke-width="0.9" />
<text x="26.25" y="273.16" font-size="6.6" fill="#111" stroke="#111" stroke-width="0.06" textLength="6.80" lengthAdjust="spacingAndGlyphs">30</text>
<line x1="34.95" y1="292.10" x2="38.55" y2="292.10" stroke="#111" stroke-width="0.9" />
<text x="26.25" y="294.41" font-size="6.6" fill="#111" stroke="#111" stroke-width="0.06" textLength="6.80" lengthAdjust="spacingAndGlyphs">20</text>
<line x1="34.95" y1="313.35" x2="38.55" y2="313.35" stroke="#111" stroke-width="0.9" />
<text x="26.25" y="315.66" font-size="6.6" fill="#111" stroke="#111" stroke-width="0.06" textLength="6.80" lengthAdjust="spacingAndGlyphs">10</text>
<line x1="34.95" y1="334.60" x2="38.55" y2="334.60" stroke="#111" stroke-width="0.9" />
<text x="29.65" y="336.91" font-size="6.6" fill="#111" stroke="#111" stroke-width="0.06" textLength="3.40" lengthAdjust="spacingAndGlyphs">0</text>
<line x1="36.15" y1="260.23" x2="38.55" y2="260.23" stroke="#111" stroke-width="0.9" />
<line x1="36.15" y1="281.48" x2="38.55" y2="281.48" stroke="#111" stroke-width="0.9" />
<line x1="36.15" y1="302.73" x2="38.55" y2="302.73" stroke="#111" stroke-width="0.9" />
<line x1="36.15" y1="323.98" x2="38.55" y2="323.98" stroke="#111" stroke-width="0.9" />
<text transform="translate(15.22,276.50) rotate(-90)" font-size="8.1" fill="#111" stroke="#111" stroke-width="0.2" text-anchor="middle" textLength="21.00" lengthAdjust="spacingAndGlyphs">RPKM</text>
<line x1="44.40" y1="334.20" x2="44.40" y2="337.60" stroke="#111" stroke-width="0.9" />
<text x="42.70" y="346.61" font-size="6.6" fill="#111" stroke="#111" stroke-width="0.06" textLength="3.40" lengthAdjust="spacingAndGlyphs">0</text>
<line x1="62.16" y1="334.20" x2="62.16" y2="337.60" stroke="#111" stroke-width="0.9" />
<text x="58.76" y="346.61" font-size="6.6" fill="#111" stroke="#111" stroke-width="0.06" textLength="6.80" lengthAdjust="spacingAndGlyphs">10</text>
<line x1="79.92" y1="334.20" x2="79.92" y2="337.60" stroke="#111" stroke-width="0.9" />
<text x="76.52" y="346.61" font-size="6.6" fill="#111" stroke="#111" stroke-width="0.06" textLength="6.80" lengthAdjust="spacingAndGlyphs">20</text>
<line x1="97.68" y1="334.20" x2="97.68" y2="337.60" stroke="#111" stroke-width="0.9" />
<text x="94.28" y="346.61" font-size="6.6" fill="#111" stroke="#111" stroke-width="0.06" textLength="6.80" lengthAdjust="spacingAndGlyphs">30</text>
<line x1="115.44" y1="334.20" x2="115.44" y2="337.60" stroke="#111" stroke-width="0.9" />
<text x="112.04" y="346.61" font-size="6.6" fill="#111" stroke="#111" stroke-width="0.06" textLength="6.80" lengthAdjust="spacingAndGlyphs">40</text>
<line x1="133.20" y1="334.20" x2="133.20" y2="337.60" stroke="#111" stroke-width="0.9" />
<text x="129.80" y="346.61" font-size="6.6" fill="#111" stroke="#111" stroke-width="0.06" textLength="6.80" lengthAdjust="spacingAndGlyphs">50</text>
<line x1="150.96" y1="334.20" x2="150.96" y2="337.60" stroke="#111" stroke-width="0.9" />
<text x="147.56" y="346.61" font-size="6.6" fill="#111" stroke="#111" stroke-width="0.06" textLength="6.80" lengthAdjust="spacingAndGlyphs">60</text>
<line x1="168.72" y1="334.20" x2="168.72" y2="337.60" stroke="#111" stroke-width="0.9" />
<text x="165.32" y="346.61" font-size="6.6" fill="#111" stroke="#111" stroke-width="0.06" textLength="6.80" lengthAdjust="spacingAndGlyphs">70</text>
<text x="108.20" y="358.95" font-size="8.2" fill="#111" stroke="#111" stroke-width="0.2" text-anchor="middle" textLength="99.50" lengthAdjust="spacingAndGlyphs">HoxA9 inactivation (hours)</text>
<polyline points="44.5,234.2 58.8,239.0 73.0,232.2 87.0,224.3 129.3,231.0 171.8,234.0" fill="none" stroke="#3a5cae" stroke-width="1.05" stroke-linejoin="round"/>
<circle cx="44.5" cy="234.2" r="1.15" fill="#3a5cae"/>
<circle cx="58.8" cy="239.0" r="1.15" fill="#3a5cae"/>
<circle cx="73.0" cy="232.2" r="1.15" fill="#3a5cae"/>
<circle cx="87.0" cy="224.3" r="1.15" fill="#3a5cae"/>
<circle cx="129.3" cy="231.0" r="1.15" fill="#3a5cae"/>
<circle cx="171.8" cy="234.0" r="1.15" fill="#3a5cae"/>
<polyline points="44.5,246.0 58.8,258.2 73.0,258.8 87.0,248.6 129.3,295.5 171.8,312.6" fill="none" stroke="#4aa63c" stroke-width="1.05" stroke-linejoin="round"/>
<circle cx="44.5" cy="246.0" r="1.15" fill="#4aa63c"/>
<circle cx="58.8" cy="258.2" r="1.15" fill="#4aa63c"/>
<circle cx="73.0" cy="258.8" r="1.15" fill="#4aa63c"/>
<circle cx="87.0" cy="248.6" r="1.15" fill="#4aa63c"/>
<circle cx="129.3" cy="295.5" r="1.15" fill="#4aa63c"/>
<circle cx="171.8" cy="312.6" r="1.15" fill="#4aa63c"/>
<polyline points="44.5,268.5 58.8,287.2 73.0,276.0 87.0,272.5 129.3,308.5 171.8,312.8" fill="none" stroke="#a8462a" stroke-width="1.05" stroke-linejoin="round"/>
<circle cx="44.5" cy="268.5" r="1.15" fill="#a8462a"/>
<circle cx="58.8" cy="287.2" r="1.15" fill="#a8462a"/>
<circle cx="73.0" cy="276.0" r="1.15" fill="#a8462a"/>
<circle cx="87.0" cy="272.5" r="1.15" fill="#a8462a"/>
<circle cx="129.3" cy="308.5" r="1.15" fill="#a8462a"/>
<circle cx="171.8" cy="312.8" r="1.15" fill="#a8462a"/>
<polyline points="44.5,276.2 58.8,278.5 73.0,284.0 87.0,285.2 129.3,313.5 171.8,321.0" fill="none" stroke="#9e9e9e" stroke-width="1.05" stroke-linejoin="round"/>
<circle cx="44.5" cy="276.2" r="1.15" fill="#9e9e9e"/>
<circle cx="58.8" cy="278.5" r="1.15" fill="#9e9e9e"/>
<circle cx="73.0" cy="284.0" r="1.15" fill="#9e9e9e"/>
<circle cx="87.0" cy="285.2" r="1.15" fill="#9e9e9e"/>
<circle cx="129.3" cy="313.5" r="1.15" fill="#9e9e9e"/>
<circle cx="171.8" cy="321.0" r="1.15" fill="#9e9e9e"/>
<polyline points="44.5,288.5 58.8,286.0 73.0,306.8 87.0,303.5 129.3,317.8 171.8,324.8" fill="none" stroke="#454545" stroke-width="1.05" stroke-linejoin="round"/>
<circle cx="44.5" cy="288.5" r="1.15" fill="#454545"/>
<circle cx="58.8" cy="286.0" r="1.15" fill="#454545"/>
<circle cx="73.0" cy="306.8" r="1.15" fill="#454545"/>
<circle cx="87.0" cy="303.5" r="1.15" fill="#454545"/>
<circle cx="129.3" cy="317.8" r="1.15" fill="#454545"/>
<circle cx="171.8" cy="324.8" r="1.15" fill="#454545"/>
<polyline points="44.5,302.0 58.8,308.5 73.0,297.2 87.0,296.8 129.3,320.2 171.8,326.5" fill="none" stroke="#1e387c" stroke-width="1.05" stroke-linejoin="round"/>
<circle cx="44.5" cy="302.0" r="1.15" fill="#1e387c"/>
<circle cx="58.8" cy="308.5" r="1.15" fill="#1e387c"/>
<circle cx="73.0" cy="297.2" r="1.15" fill="#1e387c"/>
<circle cx="87.0" cy="296.8" r="1.15" fill="#1e387c"/>
<circle cx="129.3" cy="320.2" r="1.15" fill="#1e387c"/>
<circle cx="171.8" cy="326.5" r="1.15" fill="#1e387c"/>
<polyline points="44.5,322.8 58.8,324.0 73.0,318.0 87.0,315.0 129.3,325.2 171.8,327.4" fill="none" stroke="#2e66b8" stroke-width="1.05" stroke-linejoin="round"/>
<circle cx="44.5" cy="322.8" r="1.15" fill="#2e66b8"/>
<circle cx="58.8" cy="324.0" r="1.15" fill="#2e66b8"/>
<circle cx="73.0" cy="318.0" r="1.15" fill="#2e66b8"/>
<circle cx="87.0" cy="315.0" r="1.15" fill="#2e66b8"/>
<circle cx="129.3" cy="325.2" r="1.15" fill="#2e66b8"/>
<circle cx="171.8" cy="327.4" r="1.15" fill="#2e66b8"/>
<polyline points="44.5,322.6 58.8,324.2 73.0,320.6 87.0,326.0 129.3,328.0 171.8,330.0" fill="none" stroke="#4a7a2c" stroke-width="1.05" stroke-linejoin="round"/>
<circle cx="44.5" cy="322.6" r="1.15" fill="#4a7a2c"/>
<circle cx="58.8" cy="324.2" r="1.15" fill="#4a7a2c"/>
<circle cx="73.0" cy="320.6" r="1.15" fill="#4a7a2c"/>
<circle cx="87.0" cy="326.0" r="1.15" fill="#4a7a2c"/>
<circle cx="129.3" cy="328.0" r="1.15" fill="#4a7a2c"/>
<circle cx="171.8" cy="330.0" r="1.15" fill="#4a7a2c"/>
<polyline points="44.5,329.3 58.8,329.0 73.0,327.6 87.0,328.4 129.3,330.0 171.8,331.2" fill="none" stroke="#a8902a" stroke-width="1.05" stroke-linejoin="round"/>
<circle cx="44.5" cy="329.3" r="1.15" fill="#a8902a"/>
<circle cx="58.8" cy="329.0" r="1.15" fill="#a8902a"/>
<circle cx="73.0" cy="327.6" r="1.15" fill="#a8902a"/>
<circle cx="87.0" cy="328.4" r="1.15" fill="#a8902a"/>
<circle cx="129.3" cy="330.0" r="1.15" fill="#a8902a"/>
<circle cx="171.8" cy="331.2" r="1.15" fill="#a8902a"/>
<text x="87.40" y="222.53" font-size="4.8" fill="#222" stroke="#222" stroke-width="0.06" text-anchor="middle" textLength="7.20" lengthAdjust="spacingAndGlyphs">a9*</text>
<text x="101.40" y="232.66" font-size="4.6" fill="#222" stroke="#222" stroke-width="0.06" text-anchor="middle" textLength="28.60" lengthAdjust="spacingAndGlyphs">(viral+endo)</text>
<text x="86.20" y="247.13" font-size="4.8" fill="#222" stroke="#222" stroke-width="0.06" text-anchor="middle" textLength="5.20" lengthAdjust="spacingAndGlyphs">a5</text>
<text x="86.20" y="270.73" font-size="4.8" fill="#222" stroke="#222" stroke-width="0.06" text-anchor="middle" textLength="5.20" lengthAdjust="spacingAndGlyphs">a6</text>
<text x="86.20" y="283.53" font-size="4.8" fill="#222" stroke="#222" stroke-width="0.06" text-anchor="middle" textLength="5.20" lengthAdjust="spacingAndGlyphs">a7</text>
<text x="86.20" y="294.03" font-size="4.8" fill="#222" stroke="#222" stroke-width="0.06" text-anchor="middle" textLength="5.20" lengthAdjust="spacingAndGlyphs">a3</text>
<text x="86.00" y="302.73" font-size="4.8" fill="#222" stroke="#222" stroke-width="0.06" text-anchor="middle" textLength="7.80" lengthAdjust="spacingAndGlyphs">a10</text>
<text x="86.20" y="314.03" font-size="4.8" fill="#222" stroke="#222" stroke-width="0.06" text-anchor="middle" textLength="5.20" lengthAdjust="spacingAndGlyphs">a1</text>
<text x="86.20" y="324.03" font-size="4.8" fill="#222" stroke="#222" stroke-width="0.06" text-anchor="middle" textLength="5.20" lengthAdjust="spacingAndGlyphs">a4</text>
<text x="86.50" y="333.33" font-size="4.8" fill="#222" stroke="#222" stroke-width="0.06" text-anchor="middle" textLength="5.20" lengthAdjust="spacingAndGlyphs">a2</text>
<text x="117.00" y="225.98" font-size="6.9" fill="#111" stroke="#111" stroke-width="0.06" textLength="47.20" lengthAdjust="spacingAndGlyphs" >nascent RNA-seq</text>
<rect x="215.20" y="218.50" width="138.50" height="115.70" fill="none" stroke="#111" stroke-width="1.15" />
<text transform="translate(193.75,276.50) rotate(-90)" font-size="8.2" fill="#111" stroke="#111" stroke-width="0.2" text-anchor="middle" textLength="72.00" lengthAdjust="spacingAndGlyphs">Relative expression</text>
<line x1="211.60" y1="334.00" x2="215.20" y2="334.00" stroke="#111" stroke-width="0.9" />
<line x1="211.60" y1="320.50" x2="215.20" y2="320.50" stroke="#111" stroke-width="0.9" />
<line x1="211.60" y1="306.50" x2="215.20" y2="306.50" stroke="#111" stroke-width="0.9" />
<line x1="211.60" y1="292.50" x2="215.20" y2="292.50" stroke="#111" stroke-width="0.9" />
<line x1="211.60" y1="278.50" x2="215.20" y2="278.50" stroke="#111" stroke-width="0.9" />
<line x1="211.60" y1="264.50" x2="215.20" y2="264.50" stroke="#111" stroke-width="0.9" />
<line x1="211.60" y1="250.50" x2="215.20" y2="250.50" stroke="#111" stroke-width="0.9" />
<line x1="211.60" y1="236.50" x2="215.20" y2="236.50" stroke="#111" stroke-width="0.9" />
<text x="201.69" y="266.81" font-size="6.6" fill="#111" stroke="#111" stroke-width="0.06" textLength="8.51" lengthAdjust="spacingAndGlyphs">1.0</text>
<text x="201.69" y="322.81" font-size="6.6" fill="#111" stroke="#111" stroke-width="0.06" textLength="8.51" lengthAdjust="spacingAndGlyphs">0.2</text>
<text x="206.80" y="335.91" font-size="6.6" fill="#111" stroke="#111" stroke-width="0.06" textLength="3.40" lengthAdjust="spacingAndGlyphs">0</text>
<line x1="220.90" y1="334.20" x2="220.90" y2="337.60" stroke="#111" stroke-width="0.9" />
<text x="219.20" y="346.61" font-size="6.6" fill="#111" stroke="#111" stroke-width="0.06" textLength="3.40" lengthAdjust="spacingAndGlyphs">0</text>
<line x1="238.70" y1="334.20" x2="238.70" y2="337.60" stroke="#111" stroke-width="0.9" />
<text x="235.30" y="346.61" font-size="6.6" fill="#111" stroke="#111" stroke-width="0.06" textLength="6.80" lengthAdjust="spacingAndGlyphs">10</text>
<line x1="256.50" y1="334.20" x2="256.50" y2="337.60" stroke="#111" stroke-width="0.9" />
<text x="253.10" y="346.61" font-size="6.6" fill="#111" stroke="#111" stroke-width="0.06" textLength="6.80" lengthAdjust="spacingAndGlyphs">20</text>
<line x1="274.30" y1="334.20" x2="274.30" y2="337.60" stroke="#111" stroke-width="0.9" />
<text x="270.90" y="346.61" font-size="6.6" fill="#111" stroke="#111" stroke-width="0.06" textLength="6.80" lengthAdjust="spacingAndGlyphs">30</text>
<line x1="292.10" y1="334.20" x2="292.10" y2="337.60" stroke="#111" stroke-width="0.9" />
<text x="288.70" y="346.61" font-size="6.6" fill="#111" stroke="#111" stroke-width="0.06" textLength="6.80" lengthAdjust="spacingAndGlyphs">40</text>
<line x1="309.90" y1="334.20" x2="309.90" y2="337.60" stroke="#111" stroke-width="0.9" />
<text x="306.50" y="346.61" font-size="6.6" fill="#111" stroke="#111" stroke-width="0.06" textLength="6.80" lengthAdjust="spacingAndGlyphs">50</text>
<line x1="327.70" y1="334.20" x2="327.70" y2="337.60" stroke="#111" stroke-width="0.9" />
<text x="324.30" y="346.61" font-size="6.6" fill="#111" stroke="#111" stroke-width="0.06" textLength="6.80" lengthAdjust="spacingAndGlyphs">60</text>
<line x1="345.50" y1="334.20" x2="345.50" y2="337.60" stroke="#111" stroke-width="0.9" />
<text x="342.10" y="346.61" font-size="6.6" fill="#111" stroke="#111" stroke-width="0.06" textLength="6.80" lengthAdjust="spacingAndGlyphs">70</text>
<text x="284.30" y="358.95" font-size="8.2" fill="#111" stroke="#111" stroke-width="0.2" text-anchor="middle" textLength="99.50" lengthAdjust="spacingAndGlyphs">HoxA9 inactivation (hours)</text>
<line x1="219.30" y1="253.80" x2="219.30" y2="273.00" stroke="#111" stroke-width="1.0" />
<line x1="217.80" y1="253.80" x2="220.80" y2="253.80" stroke="#111" stroke-width="1.0" />
<line x1="217.80" y1="273.00" x2="220.80" y2="273.00" stroke="#111" stroke-width="1.0" />
<line x1="219.30" y1="257.00" x2="219.30" y2="271.50" stroke="#111" stroke-width="1.0" />
<line x1="217.80" y1="257.00" x2="220.80" y2="257.00" stroke="#111" stroke-width="1.0" />
<line x1="217.80" y1="271.50" x2="220.80" y2="271.50" stroke="#111" stroke-width="1.0" />
<line x1="246.80" y1="240.00" x2="246.80" y2="264.50" stroke="#111" stroke-width="1.0" />
<line x1="245.30" y1="240.00" x2="248.30" y2="240.00" stroke="#111" stroke-width="1.0" />
<line x1="245.30" y1="264.50" x2="248.30" y2="264.50" stroke="#111" stroke-width="1.0" />
<line x1="261.00" y1="229.20" x2="261.00" y2="251.80" stroke="#111" stroke-width="1.0" />
<line x1="259.50" y1="229.20" x2="262.50" y2="229.20" stroke="#111" stroke-width="1.0" />
<line x1="259.50" y1="251.80" x2="262.50" y2="251.80" stroke="#111" stroke-width="1.0" />
<line x1="261.00" y1="263.20" x2="261.00" y2="273.00" stroke="#111" stroke-width="1.0" />
<line x1="259.50" y1="263.20" x2="262.50" y2="263.20" stroke="#111" stroke-width="1.0" />
<line x1="259.50" y1="273.00" x2="262.50" y2="273.00" stroke="#111" stroke-width="1.0" />
<line x1="303.20" y1="238.80" x2="303.20" y2="259.50" stroke="#111" stroke-width="1.0" />
<line x1="301.70" y1="238.80" x2="304.70" y2="238.80" stroke="#111" stroke-width="1.0" />
<line x1="301.70" y1="259.50" x2="304.70" y2="259.50" stroke="#111" stroke-width="1.0" />
<line x1="303.20" y1="292.50" x2="303.20" y2="299.20" stroke="#111" stroke-width="1.0" />
<line x1="301.70" y1="292.50" x2="304.70" y2="292.50" stroke="#111" stroke-width="1.0" />
<line x1="301.70" y1="299.20" x2="304.70" y2="299.20" stroke="#111" stroke-width="1.0" />
<line x1="345.70" y1="233.20" x2="345.70" y2="252.50" stroke="#111" stroke-width="1.0" />
<line x1="344.20" y1="233.20" x2="347.20" y2="233.20" stroke="#111" stroke-width="1.0" />
<line x1="344.20" y1="252.50" x2="347.20" y2="252.50" stroke="#111" stroke-width="1.0" />
<line x1="345.70" y1="302.00" x2="345.70" y2="310.50" stroke="#111" stroke-width="1.0" />
<line x1="344.20" y1="302.00" x2="347.20" y2="302.00" stroke="#111" stroke-width="1.0" />
<line x1="344.20" y1="310.50" x2="347.20" y2="310.50" stroke="#111" stroke-width="1.0" />
<polyline points="219.3,264.5 246.8,252.8 261.0,240.5 303.2,249.5 345.7,243.0" fill="none" stroke="#d8282a" stroke-width="1.05" stroke-linejoin="round"/>
<circle cx="219.3" cy="264.5" r="0.9" fill="#d8282a"/>
<circle cx="246.8" cy="252.8" r="0.9" fill="#d8282a"/>
<circle cx="261.0" cy="240.5" r="0.9" fill="#d8282a"/>
<circle cx="303.2" cy="249.5" r="0.9" fill="#d8282a"/>
<circle cx="345.7" cy="243.0" r="0.9" fill="#d8282a"/>
<polyline points="219.3,264.5 246.8,246.2 261.0,268.0 303.2,295.8 345.7,306.8" fill="none" stroke="#3a5cb8" stroke-width="1.05" stroke-linejoin="round"/>
<circle cx="219.3" cy="264.5" r="0.9" fill="#3a5cb8"/>
<circle cx="246.8" cy="246.2" r="0.9" fill="#3a5cb8"/>
<circle cx="261.0" cy="268.0" r="0.9" fill="#3a5cb8"/>
<circle cx="303.2" cy="295.8" r="0.9" fill="#3a5cb8"/>
<circle cx="345.7" cy="306.8" r="0.9" fill="#3a5cb8"/>
<text x="279.30" y="237.16" font-size="4.6" fill="#222" stroke="#222" stroke-width="0.06" textLength="17.00" lengthAdjust="spacingAndGlyphs" >a9-viral</text>
<text x="279.50" y="277.86" font-size="4.6" fill="#222" stroke="#222" stroke-width="0.06" textLength="36.80" lengthAdjust="spacingAndGlyphs" >a9-endogenous</text>
<text x="330.00" y="226.28" font-size="6.9" fill="#111" stroke="#111" stroke-width="0.06" textLength="15.80" lengthAdjust="spacingAndGlyphs" >qPCR</text>
<text x="368.90" y="215.12" font-size="12" fill="#111" stroke="#111" stroke-width="0.1" textLength="8.60" lengthAdjust="spacingAndGlyphs" >C</text>
<defs>
<radialGradient id="gY" cx="50%" cy="45%" r="60%"><stop offset="0" stop-color="#f4de5a"/><stop offset="0.7" stop-color="#efd246"/><stop offset="1" stop-color="#e4c43a"/></radialGradient>
<radialGradient id="gB1" cx="50%" cy="40%" r="65%"><stop offset="0" stop-color="#7fb0dc"/><stop offset="1" stop-color="#4f88c4"/></radialGradient>
<radialGradient id="gB2" cx="50%" cy="40%" r="65%"><stop offset="0" stop-color="#86bbe0"/><stop offset="1" stop-color="#5a94cc"/></radialGradient>
<radialGradient id="gG" cx="45%" cy="45%" r="65%"><stop offset="0" stop-color="#9cc07a"/><stop offset="1" stop-color="#6a9a58"/></radialGradient>
<radialGradient id="gH" cx="50%" cy="50%" r="55%"><stop offset="0" stop-color="#f2f2f2"/><stop offset="0.8" stop-color="#ececec"/><stop offset="1" stop-color="#f4f4f4"/></radialGradient>
</defs>
<ellipse cx="485" cy="295" rx="23.5" ry="20.5" fill="url(#gH)"/>
<ellipse cx="464.6" cy="263.6" rx="14.1" ry="8.6" fill="url(#gB1)"/>
<ellipse cx="435.3" cy="259.6" rx="13.8" ry="12" fill="url(#gB1)"/>
<ellipse cx="458.6" cy="248.6" rx="14.8" ry="11.2" fill="url(#gB2)"/>
<ellipse cx="475" cy="252" rx="12.4" ry="9.7" fill="url(#gG)" opacity="0.93"/>
<ellipse cx="410" cy="271.3" rx="16.7" ry="14.5" fill="url(#gY)"/>
<path d="M410 291.6C415 289 420.5 298.5 426 294.5S436.5 289.5 442.4 292.4" fill="none" stroke="#9cbc34" stroke-width="2.3"/>
<path d="M410 296.4C415 299 420.5 290 426 293.4S436.5 298.6 442.4 296.6" fill="none" stroke="#d2c83c" stroke-width="2.3"/>
<line x1="413.20" y1="291.60" x2="413.20" y2="296.60" stroke="#33301e" stroke-width="1.0" />
<line x1="415.80" y1="291.60" x2="415.80" y2="296.60" stroke="#33301e" stroke-width="1.0" />
<line x1="421.20" y1="291.60" x2="421.20" y2="296.60" stroke="#33301e" stroke-width="1.0" />
<line x1="424.00" y1="291.60" x2="424.00" y2="296.60" stroke="#33301e" stroke-width="1.0" />
<line x1="429.60" y1="291.60" x2="429.60" y2="296.60" stroke="#33301e" stroke-width="1.0" />
<line x1="432.40" y1="291.60" x2="432.40" y2="296.60" stroke="#33301e" stroke-width="1.0" />
<line x1="437.60" y1="291.60" x2="437.60" y2="296.60" stroke="#33301e" stroke-width="1.0" />
<line x1="443.60" y1="284.94" x2="444.50" y2="291.30" stroke="#2c2c2c" stroke-width="1.05" />
<line x1="446.45" y1="284.48" x2="447.35" y2="290.63" stroke="#2c2c2c" stroke-width="1.05" />
<line x1="449.30" y1="284.01" x2="450.20" y2="289.91" stroke="#2c2c2c" stroke-width="1.05" />
<line x1="452.15" y1="283.13" x2="453.05" y2="288.67" stroke="#2c2c2c" stroke-width="1.05" />
<line x1="455.00" y1="282.10" x2="455.90" y2="287.43" stroke="#2c2c2c" stroke-width="1.05" />
<line x1="457.85" y1="280.79" x2="458.75" y2="286.29" stroke="#2c2c2c" stroke-width="1.05" />
<line x1="460.70" y1="279.79" x2="461.60" y2="286.20" stroke="#2c2c2c" stroke-width="1.05" />
<line x1="463.55" y1="279.73" x2="464.45" y2="286.12" stroke="#2c2c2c" stroke-width="1.05" />
<line x1="466.40" y1="279.94" x2="467.30" y2="286.47" stroke="#2c2c2c" stroke-width="1.05" />
<line x1="469.25" y1="280.42" x2="470.15" y2="286.92" stroke="#2c2c2c" stroke-width="1.05" />
<line x1="472.10" y1="279.59" x2="473.00" y2="286.36" stroke="#2c2c2c" stroke-width="1.05" />
<line x1="474.95" y1="278.50" x2="475.85" y2="285.13" stroke="#2c2c2c" stroke-width="1.05" />
<line x1="477.80" y1="276.74" x2="478.70" y2="283.62" stroke="#2c2c2c" stroke-width="1.05" />
<line x1="480.65" y1="274.59" x2="481.55" y2="281.25" stroke="#2c2c2c" stroke-width="1.05" />
<path d="M442.4 292 L450 290.2 L458.5 286.5 L465 286.3 L471.3 287.3 L478 284.4 L483.3 280" fill="none" stroke="#d8c040" stroke-width="1.3" stroke-linejoin="round"/>
<line x1="444.20" y1="299.20" x2="445.20" y2="294.90" stroke="#2c2c2c" stroke-width="1.05" />
<line x1="447.05" y1="299.52" x2="448.05" y2="295.22" stroke="#2c2c2c" stroke-width="1.05" />
<line x1="449.90" y1="300.43" x2="450.90" y2="296.13" stroke="#2c2c2c" stroke-width="1.05" />
<line x1="452.75" y1="301.46" x2="453.75" y2="297.16" stroke="#2c2c2c" stroke-width="1.05" />
<line x1="455.60" y1="302.83" x2="456.60" y2="298.53" stroke="#2c2c2c" stroke-width="1.05" />
<line x1="458.45" y1="303.96" x2="459.45" y2="299.66" stroke="#2c2c2c" stroke-width="1.05" />
<line x1="461.30" y1="304.88" x2="462.30" y2="300.58" stroke="#2c2c2c" stroke-width="1.05" />
<line x1="464.15" y1="305.44" x2="465.15" y2="301.14" stroke="#2c2c2c" stroke-width="1.05" />
<line x1="467.00" y1="305.90" x2="468.00" y2="301.60" stroke="#2c2c2c" stroke-width="1.05" />
<line x1="469.85" y1="306.70" x2="470.85" y2="302.40" stroke="#2c2c2c" stroke-width="1.05" />
<line x1="472.70" y1="307.64" x2="473.70" y2="303.34" stroke="#2c2c2c" stroke-width="1.05" />
<line x1="475.55" y1="309.00" x2="476.55" y2="304.70" stroke="#2c2c2c" stroke-width="1.05" />
<line x1="478.40" y1="310.36" x2="479.40" y2="306.06" stroke="#2c2c2c" stroke-width="1.05" />
<line x1="481.25" y1="311.69" x2="482.25" y2="307.39" stroke="#2c2c2c" stroke-width="1.05" />
<path d="M442.4 299.3 L447 299.8 L452 301.4 L457 303.8 L462 305.4 L467 306.2 L472 307.6 L477 310 L481.7 312.2" fill="none" stroke="#d8c040" stroke-width="1.4" stroke-linejoin="round"/>
<path d="M446.3 218.6V227.5Q446.3 231 442.5 231H429Q423 231 422.8 235V240.5Q423 245.4 428 245.4H441Q445.2 245.4 445.2 249.5V262.5Q445.2 267 441 267H426.5Q421.2 267 421.2 271V277Q421.6 282.6 428 283.4L440.8 284.9L450 283.4L455 281.6L460 279.3L465 279.2L469.7 280L476 277.6L481.7 273.3" fill="none" stroke="#e07f1e" stroke-width="1.3" stroke-linecap="round" stroke-linejoin="round"/>
<text x="402.50" y="274.49" font-size="5.8" fill="#1a1a1a" stroke="#1a1a1a" stroke-width="0.06" textLength="16.30" lengthAdjust="spacingAndGlyphs" >dCas9</text>
<text x="429.50" y="260.09" font-size="5.8" fill="#1a1a1a" stroke="#1a1a1a" stroke-width="0.06" textLength="13.50" lengthAdjust="spacingAndGlyphs" >KRAB</text>
<text x="453.00" y="250.89" font-size="5.8" fill="#1a1a1a" stroke="#1a1a1a" stroke-width="0.06" textLength="12.50" lengthAdjust="spacingAndGlyphs" >KAP1</text>
<text x="473.80" y="254.49" font-size="5.8" fill="#1a1a1a" stroke="#1a1a1a" stroke-width="0.06" textLength="9.20" lengthAdjust="spacingAndGlyphs" >HP1</text>
<text x="455.00" y="265.69" font-size="5.8" fill="#1a1a1a" stroke="#1a1a1a" stroke-width="0.06" textLength="19.50" lengthAdjust="spacingAndGlyphs" >SETDB1</text>
<text x="440.50" y="279.49" font-size="5.8" fill="#1a1a1a" stroke="#1a1a1a" stroke-width="0.06" textLength="15.00" lengthAdjust="spacingAndGlyphs" >sgRNA</text>
<text x="470.00" y="294.49" font-size="5.8" fill="#1a1a1a" stroke="#1a1a1a" stroke-width="0.06" textLength="15.80" lengthAdjust="spacingAndGlyphs" >hetero</text>
<text x="466.20" y="301.29" font-size="5.8" fill="#1a1a1a" stroke="#1a1a1a" stroke-width="0.06" textLength="23.80" lengthAdjust="spacingAndGlyphs" >chromatin</text>
<text x="7.80" y="375.32" font-size="12" fill="#111" stroke="#111" stroke-width="0.1" textLength="7.60" lengthAdjust="spacingAndGlyphs" >D</text>
<rect x="41.25" y="416.80" width="5.00" height="79.20" fill="#efb094" stroke="none" stroke-width="1" />
<rect x="47.50" y="459.00" width="5.00" height="37.00" fill="#cf4e12" stroke="none" stroke-width="1" />
<line x1="43.75" y1="413.00" x2="43.75" y2="419.20" stroke="#111" stroke-width="0.95" />
<line x1="42.65" y1="413.00" x2="44.85" y2="413.00" stroke="#111" stroke-width="0.95" />
<line x1="42.65" y1="419.20" x2="44.85" y2="419.20" stroke="#111" stroke-width="0.95" />
<line x1="50.00" y1="447.20" x2="50.00" y2="483.50" stroke="#111" stroke-width="0.95" />
<line x1="48.90" y1="447.20" x2="51.10" y2="447.20" stroke="#111" stroke-width="0.95" />
<line x1="48.90" y1="483.50" x2="51.10" y2="483.50" stroke="#111" stroke-width="0.95" />
<rect x="56.25" y="416.80" width="5.00" height="79.20" fill="#efb094" stroke="none" stroke-width="1" />
<rect x="62.50" y="442.20" width="5.00" height="53.80" fill="#cf4e12" stroke="none" stroke-width="1" />
<line x1="58.75" y1="395.50" x2="58.75" y2="437.80" stroke="#111" stroke-width="0.95" />
<line x1="57.65" y1="395.50" x2="59.85" y2="395.50" stroke="#111" stroke-width="0.95" />
<line x1="57.65" y1="437.80" x2="59.85" y2="437.80" stroke="#111" stroke-width="0.95" />
<line x1="65.00" y1="424.20" x2="65.00" y2="461.80" stroke="#111" stroke-width="0.95" />
<line x1="63.90" y1="424.20" x2="66.10" y2="424.20" stroke="#111" stroke-width="0.95" />
<line x1="63.90" y1="461.80" x2="66.10" y2="461.80" stroke="#111" stroke-width="0.95" />
<rect x="71.75" y="416.80" width="5.00" height="79.20" fill="#efb094" stroke="none" stroke-width="1" />
<rect x="78.00" y="474.80" width="5.00" height="21.20" fill="#cf4e12" stroke="none" stroke-width="1" />
<line x1="74.25" y1="411.80" x2="74.25" y2="420.20" stroke="#111" stroke-width="0.95" />
<line x1="73.15" y1="411.80" x2="75.35" y2="411.80" stroke="#111" stroke-width="0.95" />
<line x1="73.15" y1="420.20" x2="75.35" y2="420.20" stroke="#111" stroke-width="0.95" />
<line x1="80.50" y1="466.80" x2="80.50" y2="483.00" stroke="#111" stroke-width="0.95" />
<line x1="79.40" y1="466.80" x2="81.60" y2="466.80" stroke="#111" stroke-width="0.95" />
<line x1="79.40" y1="483.00" x2="81.60" y2="483.00" stroke="#111" stroke-width="0.95" />
<rect x="87.00" y="416.80" width="5.00" height="79.20" fill="#efb094" stroke="none" stroke-width="1" />
<rect x="93.25" y="451.00" width="5.00" height="45.00" fill="#cf4e12" stroke="none" stroke-width="1" />
<line x1="89.50" y1="411.00" x2="89.50" y2="421.50" stroke="#111" stroke-width="0.95" />
<line x1="88.40" y1="411.00" x2="90.60" y2="411.00" stroke="#111" stroke-width="0.95" />
<line x1="88.40" y1="421.50" x2="90.60" y2="421.50" stroke="#111" stroke-width="0.95" />
<line x1="95.75" y1="436.50" x2="95.75" y2="468.50" stroke="#111" stroke-width="0.95" />
<line x1="94.65" y1="436.50" x2="96.85" y2="436.50" stroke="#111" stroke-width="0.95" />
<line x1="94.65" y1="468.50" x2="96.85" y2="468.50" stroke="#111" stroke-width="0.95" />
<rect x="102.50" y="416.80" width="5.00" height="79.20" fill="#efb094" stroke="none" stroke-width="1" />
<rect x="108.75" y="421.50" width="5.00" height="74.50" fill="#cf4e12" stroke="none" stroke-width="1" />
<line x1="105.00" y1="413.00" x2="105.00" y2="419.20" stroke="#111" stroke-width="0.95" />
<line x1="103.90" y1="413.00" x2="106.10" y2="413.00" stroke="#111" stroke-width="0.95" />
<line x1="103.90" y1="419.20" x2="106.10" y2="419.20" stroke="#111" stroke-width="0.95" />
<line x1="111.25" y1="415.50" x2="111.25" y2="427.20" stroke="#111" stroke-width="0.95" />
<line x1="110.15" y1="415.50" x2="112.35" y2="415.50" stroke="#111" stroke-width="0.95" />
<line x1="110.15" y1="427.20" x2="112.35" y2="427.20" stroke="#111" stroke-width="0.95" />
<rect x="117.75" y="416.80" width="5.00" height="79.20" fill="#efb094" stroke="none" stroke-width="1" />
<rect x="124.00" y="457.20" width="5.00" height="38.80" fill="#cf4e12" stroke="none" stroke-width="1" />
<line x1="120.25" y1="414.20" x2="120.25" y2="417.80" stroke="#111" stroke-width="0.95" />
<line x1="119.15" y1="414.20" x2="121.35" y2="414.20" stroke="#111" stroke-width="0.95" />
<line x1="119.15" y1="417.80" x2="121.35" y2="417.80" stroke="#111" stroke-width="0.95" />
<line x1="126.50" y1="450.50" x2="126.50" y2="463.50" stroke="#111" stroke-width="0.95" />
<line x1="125.40" y1="450.50" x2="127.60" y2="450.50" stroke="#111" stroke-width="0.95" />
<line x1="125.40" y1="463.50" x2="127.60" y2="463.50" stroke="#111" stroke-width="0.95" />
<rect x="133.25" y="416.80" width="5.00" height="79.20" fill="#efb094" stroke="none" stroke-width="1" />
<rect x="139.25" y="399.20" width="5.00" height="96.80" fill="#cf4e12" stroke="none" stroke-width="1" />
<line x1="135.75" y1="409.00" x2="135.75" y2="423.50" stroke="#111" stroke-width="0.95" />
<line x1="134.65" y1="409.00" x2="136.85" y2="409.00" stroke="#111" stroke-width="0.95" />
<line x1="134.65" y1="423.50" x2="136.85" y2="423.50" stroke="#111" stroke-width="0.95" />
<line x1="141.75" y1="394.20" x2="141.75" y2="404.20" stroke="#111" stroke-width="0.95" />
<line x1="140.65" y1="394.20" x2="142.85" y2="394.20" stroke="#111" stroke-width="0.95" />
<line x1="140.65" y1="404.20" x2="142.85" y2="404.20" stroke="#111" stroke-width="0.95" />
<rect x="148.75" y="416.80" width="5.00" height="79.20" fill="#efb094" stroke="none" stroke-width="1" />
<rect x="154.75" y="418.50" width="5.00" height="77.50" fill="#cf4e12" stroke="none" stroke-width="1" />
<line x1="151.25" y1="414.20" x2="151.25" y2="418.50" stroke="#111" stroke-width="0.95" />
<line x1="150.15" y1="414.20" x2="152.35" y2="414.20" stroke="#111" stroke-width="0.95" />
<line x1="150.15" y1="418.50" x2="152.35" y2="418.50" stroke="#111" stroke-width="0.95" />
<line x1="157.25" y1="416.80" x2="157.25" y2="419.80" stroke="#111" stroke-width="0.95" />
<line x1="156.15" y1="416.80" x2="158.35" y2="416.80" stroke="#111" stroke-width="0.95" />
<line x1="156.15" y1="419.80" x2="158.35" y2="419.80" stroke="#111" stroke-width="0.95" />
<rect x="164.00" y="416.80" width="5.00" height="79.20" fill="#efb094" stroke="none" stroke-width="1" />
<rect x="170.00" y="431.50" width="5.00" height="64.50" fill="#cf4e12" stroke="none" stroke-width="1" />
<line x1="166.50" y1="411.80" x2="166.50" y2="420.20" stroke="#111" stroke-width="0.95" />
<line x1="165.40" y1="411.80" x2="167.60" y2="411.80" stroke="#111" stroke-width="0.95" />
<line x1="165.40" y1="420.20" x2="167.60" y2="420.20" stroke="#111" stroke-width="0.95" />
<line x1="172.50" y1="426.80" x2="172.50" y2="434.80" stroke="#111" stroke-width="0.95" />
<line x1="171.40" y1="426.80" x2="173.60" y2="426.80" stroke="#111" stroke-width="0.95" />
<line x1="171.40" y1="434.80" x2="173.60" y2="434.80" stroke="#111" stroke-width="0.95" />
<line x1="130.80" y1="392.60" x2="130.80" y2="496.00" stroke="#111" stroke-width="1.0" stroke-dasharray="1.1 1.2"/>
<rect x="38.70" y="379.90" width="138.10" height="116.10" fill="none" stroke="#111" stroke-width="1.15" />
<line x1="38.80" y1="496.00" x2="38.80" y2="499.40" stroke="#111" stroke-width="0.9" />
<line x1="54.16" y1="496.00" x2="54.16" y2="499.40" stroke="#111" stroke-width="0.9" />
<line x1="69.52" y1="496.00" x2="69.52" y2="499.40" stroke="#111" stroke-width="0.9" />
<line x1="84.88" y1="496.00" x2="84.88" y2="499.40" stroke="#111" stroke-width="0.9" />
<line x1="100.24" y1="496.00" x2="100.24" y2="499.40" stroke="#111" stroke-width="0.9" />
<line x1="115.60" y1="496.00" x2="115.60" y2="499.40" stroke="#111" stroke-width="0.9" />
<line x1="130.96" y1="496.00" x2="130.96" y2="499.40" stroke="#111" stroke-width="0.9" />
<line x1="146.32" y1="496.00" x2="146.32" y2="499.40" stroke="#111" stroke-width="0.9" />
<line x1="161.68" y1="496.00" x2="161.68" y2="499.40" stroke="#111" stroke-width="0.9" />
<line x1="177.04" y1="496.00" x2="177.04" y2="499.40" stroke="#111" stroke-width="0.9" />
<line x1="35.10" y1="416.80" x2="38.70" y2="416.80" stroke="#111" stroke-width="0.9" />
<text x="28.40" y="419.11" font-size="6.6" fill="#111" stroke="#111" stroke-width="0.06" textLength="3.40" lengthAdjust="spacingAndGlyphs">1</text>
<line x1="35.10" y1="496.00" x2="38.70" y2="496.00" stroke="#111" stroke-width="0.9" />
<text x="23.29" y="498.31" font-size="6.6" fill="#111" stroke="#111" stroke-width="0.06" textLength="8.51" lengthAdjust="spacingAndGlyphs">0.1</text>
<text transform="translate(17.95,438.00) rotate(-90)" font-size="8.2" fill="#111" stroke="#111" stroke-width="0.2" text-anchor="middle" textLength="71.50" lengthAdjust="spacingAndGlyphs">Relative expression</text>
<text x="46.70" y="508.48" font-size="6.9" fill="#111" stroke="#111" stroke-width="0.06" text-anchor="middle" textLength="7.00" lengthAdjust="spacingAndGlyphs">a1</text>
<text x="61.60" y="508.48" font-size="6.9" fill="#111" stroke="#111" stroke-width="0.06" text-anchor="middle" textLength="7.00" lengthAdjust="spacingAndGlyphs">a2</text>
<text x="76.80" y="508.48" font-size="6.9" fill="#111" stroke="#111" stroke-width="0.06" text-anchor="middle" textLength="7.00" lengthAdjust="spacingAndGlyphs">a3</text>
<text x="92.00" y="508.48" font-size="6.9" fill="#111" stroke="#111" stroke-width="0.06" text-anchor="middle" textLength="7.00" lengthAdjust="spacingAndGlyphs">a4</text>
<text x="107.60" y="508.48" font-size="6.9" fill="#111" stroke="#111" stroke-width="0.06" text-anchor="middle" textLength="7.00" lengthAdjust="spacingAndGlyphs">a5</text>
<text x="122.50" y="508.48" font-size="6.9" fill="#111" stroke="#111" stroke-width="0.06" text-anchor="middle" textLength="7.00" lengthAdjust="spacingAndGlyphs">a6</text>
<text x="138.40" y="508.48" font-size="6.9" fill="#111" stroke="#111" stroke-width="0.06" text-anchor="middle" textLength="7.00" lengthAdjust="spacingAndGlyphs">a7</text>
<text x="153.60" y="508.48" font-size="6.9" fill="#111" stroke="#111" stroke-width="0.06" text-anchor="middle" textLength="7.00" lengthAdjust="spacingAndGlyphs">a9</text>
<text x="168.50" y="508.48" font-size="6.9" fill="#111" stroke="#111" stroke-width="0.06" text-anchor="middle" textLength="10.60" lengthAdjust="spacingAndGlyphs">a10</text>
<text x="153.60" y="517.18" font-size="6.6" fill="#111" stroke="#111" stroke-width="0.06" text-anchor="middle" textLength="17.00" lengthAdjust="spacingAndGlyphs">(endo)</text>
<text x="93.40" y="527.48" font-size="6.9" fill="#111" stroke="#111" stroke-width="0.06" textLength="22.60" lengthAdjust="spacingAndGlyphs" >anterior</text>
<text x="147.00" y="527.48" font-size="6.9" fill="#111" stroke="#111" stroke-width="0.06" textLength="25.00" lengthAdjust="spacingAndGlyphs" >posterior</text>
<path d="M119.4 525.2L123.8 522.4000000000001L122.8 524.4000000000001H128.7V526.0H122.8L123.8 528.0Z" fill="#d4541a"/>
<path d="M143.0 525.2L138.6 522.4000000000001L139.6 524.4000000000001H134.0V526.0H139.6L138.6 528.0Z" fill="#d4541a"/>
<text x="40.50" y="393.98" font-size="6.9" fill="#111" stroke="#111" stroke-width="0.06" textLength="26.30" lengthAdjust="spacingAndGlyphs" >enhancer</text>
<path d="M47.9 401.2L51.9 403.8L55.8 401.2L51.6 410.4Z" fill="#d45a64" stroke="#d45a64" stroke-width="0.7" stroke-linejoin="round"/>
<rect x="84.30" y="387.70" width="3.20" height="3.20" fill="#efb094" stroke="none" stroke-width="1" />
<rect x="84.30" y="396.90" width="3.20" height="3.20" fill="#cf4e12" stroke="none" stroke-width="1" />
<text x="90.00" y="391.21" font-size="5.3" fill="#222" stroke="#222" stroke-width="0.06" textLength="21.20" lengthAdjust="spacingAndGlyphs" >Cas_only</text>
<text x="90.00" y="400.41" font-size="5.3" fill="#222" stroke="#222" stroke-width="0.06" textLength="33.80" lengthAdjust="spacingAndGlyphs" >sg a1_put_enh</text>
<rect x="217.50" y="439.20" width="5.00" height="56.80" fill="#efb094" stroke="none" stroke-width="1" />
<rect x="223.75" y="457.20" width="5.00" height="38.80" fill="#cf4e12" stroke="none" stroke-width="1" />
<line x1="220.00" y1="436.80" x2="220.00" y2="441.00" stroke="#111" stroke-width="0.95" />
<line x1="218.90" y1="436.80" x2="221.10" y2="436.80" stroke="#111" stroke-width="0.95" />
<line x1="218.90" y1="441.00" x2="221.10" y2="441.00" stroke="#111" stroke-width="0.95" />
<line x1="226.25" y1="442.20" x2="226.25" y2="488.50" stroke="#111" stroke-width="0.95" />
<line x1="225.15" y1="442.20" x2="227.35" y2="442.20" stroke="#111" stroke-width="0.95" />
<line x1="225.15" y1="488.50" x2="227.35" y2="488.50" stroke="#111" stroke-width="0.95" />
<rect x="233.00" y="439.20" width="5.00" height="56.80" fill="#efb094" stroke="none" stroke-width="1" />
<rect x="239.25" y="487.20" width="5.00" height="8.80" fill="#cf4e12" stroke="none" stroke-width="1" />
<line x1="235.50" y1="423.50" x2="235.50" y2="454.80" stroke="#111" stroke-width="0.95" />
<line x1="234.40" y1="423.50" x2="236.60" y2="423.50" stroke="#111" stroke-width="0.95" />
<line x1="234.40" y1="454.80" x2="236.60" y2="454.80" stroke="#111" stroke-width="0.95" />
<line x1="241.75" y1="467.20" x2="241.75" y2="496.00" stroke="#111" stroke-width="0.95" />
<line x1="240.65" y1="467.20" x2="242.85" y2="467.20" stroke="#111" stroke-width="0.95" />
<line x1="240.65" y1="496.00" x2="242.85" y2="496.00" stroke="#111" stroke-width="0.95" />
<rect x="248.25" y="439.20" width="5.00" height="56.80" fill="#efb094" stroke="none" stroke-width="1" />
<rect x="254.50" y="467.80" width="5.00" height="28.20" fill="#cf4e12" stroke="none" stroke-width="1" />
<line x1="250.75" y1="435.50" x2="250.75" y2="442.80" stroke="#111" stroke-width="0.95" />
<line x1="249.65" y1="435.50" x2="251.85" y2="435.50" stroke="#111" stroke-width="0.95" />
<line x1="249.65" y1="442.80" x2="251.85" y2="442.80" stroke="#111" stroke-width="0.95" />
<line x1="257.00" y1="461.50" x2="257.00" y2="475.20" stroke="#111" stroke-width="0.95" />
<line x1="255.90" y1="461.50" x2="258.10" y2="461.50" stroke="#111" stroke-width="0.95" />
<line x1="255.90" y1="475.20" x2="258.10" y2="475.20" stroke="#111" stroke-width="0.95" />
<rect x="263.75" y="439.20" width="5.00" height="56.80" fill="#efb094" stroke="none" stroke-width="1" />
<rect x="270.00" y="433.00" width="5.00" height="63.00" fill="#cf4e12" stroke="none" stroke-width="1" />
<line x1="266.25" y1="435.50" x2="266.25" y2="443.00" stroke="#111" stroke-width="0.95" />
<line x1="265.15" y1="435.50" x2="267.35" y2="435.50" stroke="#111" stroke-width="0.95" />
<line x1="265.15" y1="443.00" x2="267.35" y2="443.00" stroke="#111" stroke-width="0.95" />
<line x1="272.50" y1="427.80" x2="272.50" y2="437.80" stroke="#111" stroke-width="0.95" />
<line x1="271.40" y1="427.80" x2="273.60" y2="427.80" stroke="#111" stroke-width="0.95" />
<line x1="271.40" y1="437.80" x2="273.60" y2="437.80" stroke="#111" stroke-width="0.95" />
<rect x="279.00" y="439.20" width="5.00" height="56.80" fill="#efb094" stroke="none" stroke-width="1" />
<rect x="285.25" y="391.80" width="5.00" height="104.20" fill="#cf4e12" stroke="none" stroke-width="1" />
<line x1="281.50" y1="436.80" x2="281.50" y2="441.50" stroke="#111" stroke-width="0.95" />
<line x1="280.40" y1="436.80" x2="282.60" y2="436.80" stroke="#111" stroke-width="0.95" />
<line x1="280.40" y1="441.50" x2="282.60" y2="441.50" stroke="#111" stroke-width="0.95" />
<line x1="287.75" y1="389.20" x2="287.75" y2="394.00" stroke="#111" stroke-width="0.95" />
<line x1="286.65" y1="389.20" x2="288.85" y2="389.20" stroke="#111" stroke-width="0.95" />
<line x1="286.65" y1="394.00" x2="288.85" y2="394.00" stroke="#111" stroke-width="0.95" />
<rect x="294.25" y="439.20" width="5.00" height="56.80" fill="#efb094" stroke="none" stroke-width="1" />
<rect x="300.50" y="465.20" width="5.00" height="30.80" fill="#cf4e12" stroke="none" stroke-width="1" />
<line x1="296.75" y1="438.00" x2="296.75" y2="440.50" stroke="#111" stroke-width="0.95" />
<line x1="295.65" y1="438.00" x2="297.85" y2="438.00" stroke="#111" stroke-width="0.95" />
<line x1="295.65" y1="440.50" x2="297.85" y2="440.50" stroke="#111" stroke-width="0.95" />
<line x1="303.00" y1="457.20" x2="303.00" y2="473.50" stroke="#111" stroke-width="0.95" />
<line x1="301.90" y1="457.20" x2="304.10" y2="457.20" stroke="#111" stroke-width="0.95" />
<line x1="301.90" y1="473.50" x2="304.10" y2="473.50" stroke="#111" stroke-width="0.95" />
<rect x="310.00" y="439.20" width="5.00" height="56.80" fill="#efb094" stroke="none" stroke-width="1" />
<rect x="316.25" y="396.50" width="5.00" height="99.50" fill="#cf4e12" stroke="none" stroke-width="1" />
<line x1="312.50" y1="433.50" x2="312.50" y2="444.20" stroke="#111" stroke-width="0.95" />
<line x1="311.40" y1="433.50" x2="313.60" y2="433.50" stroke="#111" stroke-width="0.95" />
<line x1="311.40" y1="444.20" x2="313.60" y2="444.20" stroke="#111" stroke-width="0.95" />
<line x1="318.75" y1="395.20" x2="318.75" y2="397.80" stroke="#111" stroke-width="0.95" />
<line x1="317.65" y1="395.20" x2="319.85" y2="395.20" stroke="#111" stroke-width="0.95" />
<line x1="317.65" y1="397.80" x2="319.85" y2="397.80" stroke="#111" stroke-width="0.95" />
<rect x="325.50" y="439.20" width="5.00" height="56.80" fill="#efb094" stroke="none" stroke-width="1" />
<rect x="331.60" y="429.80" width="5.00" height="66.20" fill="#cf4e12" stroke="none" stroke-width="1" />
<line x1="328.00" y1="437.80" x2="328.00" y2="440.50" stroke="#111" stroke-width="0.95" />
<line x1="326.90" y1="437.80" x2="329.10" y2="437.80" stroke="#111" stroke-width="0.95" />
<line x1="326.90" y1="440.50" x2="329.10" y2="440.50" stroke="#111" stroke-width="0.95" />
<line x1="334.10" y1="426.00" x2="334.10" y2="433.00" stroke="#111" stroke-width="0.95" />
<line x1="333.00" y1="426.00" x2="335.20" y2="426.00" stroke="#111" stroke-width="0.95" />
<line x1="333.00" y1="433.00" x2="335.20" y2="433.00" stroke="#111" stroke-width="0.95" />
<rect x="340.75" y="439.20" width="5.00" height="56.80" fill="#efb094" stroke="none" stroke-width="1" />
<rect x="347.00" y="464.00" width="5.00" height="32.00" fill="#cf4e12" stroke="none" stroke-width="1" />
<line x1="343.25" y1="436.00" x2="343.25" y2="442.20" stroke="#111" stroke-width="0.95" />
<line x1="342.15" y1="436.00" x2="344.35" y2="436.00" stroke="#111" stroke-width="0.95" />
<line x1="342.15" y1="442.20" x2="344.35" y2="442.20" stroke="#111" stroke-width="0.95" />
<line x1="349.50" y1="455.50" x2="349.50" y2="473.00" stroke="#111" stroke-width="0.95" />
<line x1="348.40" y1="455.50" x2="350.60" y2="455.50" stroke="#111" stroke-width="0.95" />
<line x1="348.40" y1="473.00" x2="350.60" y2="473.00" stroke="#111" stroke-width="0.95" />
<line x1="307.50" y1="392.60" x2="307.50" y2="496.00" stroke="#111" stroke-width="1.0" stroke-dasharray="1.1 1.2"/>
<rect x="215.50" y="379.90" width="137.70" height="116.10" fill="none" stroke="#111" stroke-width="1.15" />
<line x1="215.50" y1="496.00" x2="215.50" y2="499.40" stroke="#111" stroke-width="0.9" />
<line x1="230.80" y1="496.00" x2="230.80" y2="499.40" stroke="#111" stroke-width="0.9" />
<line x1="246.10" y1="496.00" x2="246.10" y2="499.40" stroke="#111" stroke-width="0.9" />
<line x1="261.40" y1="496.00" x2="261.40" y2="499.40" stroke="#111" stroke-width="0.9" />
<line x1="276.70" y1="496.00" x2="276.70" y2="499.40" stroke="#111" stroke-width="0.9" />
<line x1="292.00" y1="496.00" x2="292.00" y2="499.40" stroke="#111" stroke-width="0.9" />
<line x1="307.30" y1="496.00" x2="307.30" y2="499.40" stroke="#111" stroke-width="0.9" />
<line x1="322.60" y1="496.00" x2="322.60" y2="499.40" stroke="#111" stroke-width="0.9" />
<line x1="337.90" y1="496.00" x2="337.90" y2="499.40" stroke="#111" stroke-width="0.9" />
<line x1="353.20" y1="496.00" x2="353.20" y2="499.40" stroke="#111" stroke-width="0.9" />
<line x1="211.90" y1="381.80" x2="215.50" y2="381.80" stroke="#111" stroke-width="0.9" />
<text x="201.80" y="384.11" font-size="6.6" fill="#111" stroke="#111" stroke-width="0.06" textLength="6.80" lengthAdjust="spacingAndGlyphs">10</text>
<line x1="211.90" y1="439.20" x2="215.50" y2="439.20" stroke="#111" stroke-width="0.9" />
<text x="205.20" y="441.51" font-size="6.6" fill="#111" stroke="#111" stroke-width="0.06" textLength="3.40" lengthAdjust="spacingAndGlyphs">1</text>
<line x1="211.90" y1="496.00" x2="215.50" y2="496.00" stroke="#111" stroke-width="0.9" />
<text x="200.09" y="498.31" font-size="6.6" fill="#111" stroke="#111" stroke-width="0.06" textLength="8.51" lengthAdjust="spacingAndGlyphs">0.1</text>
<text transform="translate(194.25,437.80) rotate(-90)" font-size="8.2" fill="#111" stroke="#111" stroke-width="0.2" text-anchor="middle" textLength="71.50" lengthAdjust="spacingAndGlyphs">Relative expression</text>
<text x="222.80" y="508.48" font-size="6.9" fill="#111" stroke="#111" stroke-width="0.06" text-anchor="middle" textLength="7.00" lengthAdjust="spacingAndGlyphs">a1</text>
<text x="238.10" y="508.48" font-size="6.9" fill="#111" stroke="#111" stroke-width="0.06" text-anchor="middle" textLength="7.00" lengthAdjust="spacingAndGlyphs">a2</text>
<text x="253.40" y="508.48" font-size="6.9" fill="#111" stroke="#111" stroke-width="0.06" text-anchor="middle" textLength="7.00" lengthAdjust="spacingAndGlyphs">a3</text>
<text x="268.70" y="508.48" font-size="6.9" fill="#111" stroke="#111" stroke-width="0.06" text-anchor="middle" textLength="7.00" lengthAdjust="spacingAndGlyphs">a4</text>
<text x="284.00" y="508.48" font-size="6.9" fill="#111" stroke="#111" stroke-width="0.06" text-anchor="middle" textLength="7.00" lengthAdjust="spacingAndGlyphs">a5</text>
<text x="299.30" y="508.48" font-size="6.9" fill="#111" stroke="#111" stroke-width="0.06" text-anchor="middle" textLength="7.00" lengthAdjust="spacingAndGlyphs">a6</text>
<text x="314.60" y="508.48" font-size="6.9" fill="#111" stroke="#111" stroke-width="0.06" text-anchor="middle" textLength="7.00" lengthAdjust="spacingAndGlyphs">a7</text>
<text x="329.90" y="508.48" font-size="6.9" fill="#111" stroke="#111" stroke-width="0.06" text-anchor="middle" textLength="7.00" lengthAdjust="spacingAndGlyphs">a9</text>
<text x="345.40" y="508.48" font-size="6.9" fill="#111" stroke="#111" stroke-width="0.06" text-anchor="middle" textLength="10.60" lengthAdjust="spacingAndGlyphs">a10</text>
<text x="329.80" y="517.18" font-size="6.6" fill="#111" stroke="#111" stroke-width="0.06" text-anchor="middle" textLength="17.00" lengthAdjust="spacingAndGlyphs">(endo)</text>
<text x="269.30" y="527.48" font-size="6.9" fill="#111" stroke="#111" stroke-width="0.06" textLength="22.10" lengthAdjust="spacingAndGlyphs" >anterior</text>
<text x="321.90" y="527.48" font-size="6.9" fill="#111" stroke="#111" stroke-width="0.06" textLength="25.20" lengthAdjust="spacingAndGlyphs" >posterior</text>
<path d="M294.9 525.2L299.3 522.4000000000001L298.3 524.4000000000001H304.6V526.0H298.3L299.3 528.0Z" fill="#d4541a"/>
<path d="M318.4 525.2L314.0 522.4000000000001L315.0 524.4000000000001H308.7V526.0H315.0L314.0 528.0Z" fill="#d4541a"/>
<text x="292.00" y="393.98" font-size="6.9" fill="#111" stroke="#111" stroke-width="0.06" textLength="26.80" lengthAdjust="spacingAndGlyphs" >enhancer</text>
<path d="M301.5 401.3L306.4 403.9L309.5 401.5L305.8 410.5Z" fill="#d45a64" stroke="#d45a64" stroke-width="0.7" stroke-linejoin="round"/>
<rect x="239.30" y="387.70" width="3.20" height="3.20" fill="#efb094" stroke="none" stroke-width="1" />
<rect x="239.30" y="396.90" width="3.20" height="3.20" fill="#cf4e12" stroke="none" stroke-width="1" />
<text x="245.00" y="391.21" font-size="5.3" fill="#222" stroke="#222" stroke-width="0.06" textLength="21.20" lengthAdjust="spacingAndGlyphs" >Cas_only</text>
<text x="245.00" y="400.41" font-size="5.3" fill="#222" stroke="#222" stroke-width="0.06" textLength="35.00" lengthAdjust="spacingAndGlyphs" >sg a6_put_enh</text>
<text x="370.20" y="331.12" font-size="12" fill="#111" stroke="#111" stroke-width="0.1" textLength="6.20" lengthAdjust="spacingAndGlyphs" >E</text>
<rect x="397.00" y="336.20" width="108.20" height="68.30" fill="none" stroke="#111" stroke-width="1.15" />
<line x1="393.40" y1="404.50" x2="397.00" y2="404.50" stroke="#111" stroke-width="0.9" />
<line x1="393.40" y1="394.90" x2="397.00" y2="394.90" stroke="#111" stroke-width="0.9" />
<line x1="394.60" y1="385.30" x2="397.00" y2="385.30" stroke="#111" stroke-width="0.9" />
<line x1="394.60" y1="375.70" x2="397.00" y2="375.70" stroke="#111" stroke-width="0.9" />
<line x1="394.60" y1="366.10" x2="397.00" y2="366.10" stroke="#111" stroke-width="0.9" />
<line x1="393.40" y1="356.50" x2="397.00" y2="356.50" stroke="#111" stroke-width="0.9" />
<line x1="394.60" y1="346.90" x2="397.00" y2="346.90" stroke="#111" stroke-width="0.9" />
<line x1="393.40" y1="337.30" x2="397.00" y2="337.30" stroke="#111" stroke-width="0.9" />
<text x="384.30" y="339.61" font-size="6.6" fill="#111" stroke="#111" stroke-width="0.06" textLength="6.80" lengthAdjust="spacingAndGlyphs">70</text>
<text x="384.30" y="358.81" font-size="6.6" fill="#111" stroke="#111" stroke-width="0.06" textLength="6.80" lengthAdjust="spacingAndGlyphs">50</text>
<text x="384.30" y="397.21" font-size="6.6" fill="#111" stroke="#111" stroke-width="0.06" textLength="6.80" lengthAdjust="spacingAndGlyphs">10</text>
<text x="387.70" y="406.81" font-size="6.6" fill="#111" stroke="#111" stroke-width="0.06" textLength="3.40" lengthAdjust="spacingAndGlyphs">0</text>
<text transform="translate(377.72,370.60) rotate(-90)" font-size="8.1" fill="#111" stroke="#111" stroke-width="0.2" text-anchor="middle" textLength="21.50" lengthAdjust="spacingAndGlyphs">RPKM</text>
<line x1="401.20" y1="404.50" x2="401.20" y2="407.90" stroke="#111" stroke-width="0.9" />
<text x="399.50" y="416.91" font-size="6.6" fill="#111" stroke="#111" stroke-width="0.06" textLength="3.40" lengthAdjust="spacingAndGlyphs">0</text>
<line x1="415.50" y1="404.50" x2="415.50" y2="407.90" stroke="#111" stroke-width="0.9" />
<text x="412.10" y="416.91" font-size="6.6" fill="#111" stroke="#111" stroke-width="0.06" textLength="6.80" lengthAdjust="spacingAndGlyphs">10</text>
<line x1="429.80" y1="404.50" x2="429.80" y2="407.90" stroke="#111" stroke-width="0.9" />
<text x="426.40" y="416.91" font-size="6.6" fill="#111" stroke="#111" stroke-width="0.06" textLength="6.80" lengthAdjust="spacingAndGlyphs">20</text>
<line x1="444.10" y1="404.50" x2="444.10" y2="407.90" stroke="#111" stroke-width="0.9" />
<text x="440.70" y="416.91" font-size="6.6" fill="#111" stroke="#111" stroke-width="0.06" textLength="6.80" lengthAdjust="spacingAndGlyphs">30</text>
<line x1="458.40" y1="404.50" x2="458.40" y2="407.90" stroke="#111" stroke-width="0.9" />
<text x="455.00" y="416.91" font-size="6.6" fill="#111" stroke="#111" stroke-width="0.06" textLength="6.80" lengthAdjust="spacingAndGlyphs">40</text>
<line x1="472.70" y1="404.50" x2="472.70" y2="407.90" stroke="#111" stroke-width="0.9" />
<text x="469.30" y="416.91" font-size="6.6" fill="#111" stroke="#111" stroke-width="0.06" textLength="6.80" lengthAdjust="spacingAndGlyphs">50</text>
<line x1="487.00" y1="404.50" x2="487.00" y2="407.90" stroke="#111" stroke-width="0.9" />
<text x="483.60" y="416.91" font-size="6.6" fill="#111" stroke="#111" stroke-width="0.06" textLength="6.80" lengthAdjust="spacingAndGlyphs">60</text>
<line x1="501.30" y1="404.50" x2="501.30" y2="407.90" stroke="#111" stroke-width="0.9" />
<text x="497.90" y="416.91" font-size="6.6" fill="#111" stroke="#111" stroke-width="0.06" textLength="6.80" lengthAdjust="spacingAndGlyphs">70</text>
<text x="451.20" y="428.85" font-size="8.2" fill="#111" stroke="#111" stroke-width="0.2" text-anchor="middle" textLength="99.50" lengthAdjust="spacingAndGlyphs">HoxA9 inactivation (hours)</text>
<polyline points="401.2,342.0 412.3,344.5 423.7,360.5 434.8,355.0 468.3,371.0 501.8,387.0" fill="none" stroke="#2a8ad6" stroke-width="1.05" stroke-linejoin="round"/>
<circle cx="401.2" cy="342.0" r="1.05" fill="#2a8ad6"/>
<circle cx="412.3" cy="344.5" r="1.05" fill="#2a8ad6"/>
<circle cx="423.7" cy="360.5" r="1.05" fill="#2a8ad6"/>
<circle cx="434.8" cy="355.0" r="1.05" fill="#2a8ad6"/>
<circle cx="468.3" cy="371.0" r="1.05" fill="#2a8ad6"/>
<circle cx="501.8" cy="387.0" r="1.05" fill="#2a8ad6"/>
<polyline points="401.2,401.4 412.3,401.7 423.7,402.0 434.8,401.5 468.3,403.2 501.8,402.6" fill="none" stroke="#e0622a" stroke-width="1.05" stroke-linejoin="round"/>
<circle cx="401.2" cy="401.4" r="1.05" fill="#e0622a"/>
<circle cx="412.3" cy="401.7" r="1.05" fill="#e0622a"/>
<circle cx="423.7" cy="402.0" r="1.05" fill="#e0622a"/>
<circle cx="434.8" cy="401.5" r="1.05" fill="#e0622a"/>
<circle cx="468.3" cy="403.2" r="1.05" fill="#e0622a"/>
<circle cx="501.8" cy="402.6" r="1.05" fill="#e0622a"/>
<text x="431.40" y="352.93" font-size="4.8" fill="#222" stroke="#222" stroke-width="0.06" textLength="13.20" lengthAdjust="spacingAndGlyphs" >Meis1</text>
<text x="432.60" y="398.53" font-size="4.8" fill="#222" stroke="#222" stroke-width="0.06" textLength="11.10" lengthAdjust="spacingAndGlyphs" >Pbx3</text>
<text x="456.00" y="343.48" font-size="6.9" fill="#111" stroke="#111" stroke-width="0.06" textLength="47.00" lengthAdjust="spacingAndGlyphs" >nascent RNA-seq</text>
<text x="395.40" y="446.96" font-size="6.0" fill="#111" stroke="#111" stroke-width="0.06" textLength="24.30" lengthAdjust="spacingAndGlyphs" >HoxA9 +</text>
<path d="M388.9 456.8V450.2H426.2V456.8" fill="none" stroke="#111" stroke-width="1.05"/>
<text x="394.50" y="457.63" font-size="6.2" fill="#111" stroke="#111" stroke-width="0.06" textLength="8.80" lengthAdjust="spacingAndGlyphs" >vec</text>
<text x="407.60" y="457.43" font-size="6.2" fill="#111" stroke="#111" stroke-width="0.06" textLength="14.00" lengthAdjust="spacingAndGlyphs" >Pbx3</text>
<text x="370.30" y="461.96" font-size="6.0" fill="#111" stroke="#111" stroke-width="0.06" textLength="10.60" lengthAdjust="spacingAndGlyphs" >kDa</text>
<text x="374.20" y="467.76" font-size="6.0" fill="#111" stroke="#111" stroke-width="0.06" textLength="6.80" lengthAdjust="spacingAndGlyphs" >46</text>
<text x="374.20" y="477.96" font-size="6.0" fill="#111" stroke="#111" stroke-width="0.06" textLength="6.80" lengthAdjust="spacingAndGlyphs" >40</text>
<text x="374.20" y="490.96" font-size="6.0" fill="#111" stroke="#111" stroke-width="0.06" textLength="6.80" lengthAdjust="spacingAndGlyphs" >50</text>
<text x="374.20" y="516.56" font-size="6.0" fill="#111" stroke="#111" stroke-width="0.06" textLength="6.80" lengthAdjust="spacingAndGlyphs" >50</text>
<defs>
<filter id="bl" x="-20%" y="-100%" width="140%" height="300%"><feGaussianBlur stdDeviation="1.0 0.7"/></filter>
<filter id="bl2" x="-20%" y="-100%" width="140%" height="300%"><feGaussianBlur stdDeviation="1.2 0.7"/></filter>
<linearGradient id="w1" x1="0" y1="0" x2="0" y2="1"><stop offset="0" stop-color="#dedede"/><stop offset="0.5" stop-color="#ececec"/><stop offset="1" stop-color="#e6e6e6"/></linearGradient>
<linearGradient id="w2" x1="0" y1="0" x2="1" y2="0"><stop offset="0" stop-color="#8c8c8c"/><stop offset="0.18" stop-color="#a2a2a2"/><stop offset="1" stop-color="#a8a8a8"/></linearGradient>
<linearGradient id="w3" x1="0" y1="0" x2="0" y2="1"><stop offset="0" stop-color="#dedede"/><stop offset="0.5" stop-color="#e6e6e6"/><stop offset="1" stop-color="#ececec"/></linearGradient>
<clipPath id="c1"><rect x="383.7" y="459.9" width="48.7" height="21.2"/></clipPath>
<clipPath id="c2"><rect x="383.7" y="483.6" width="48.7" height="21.1"/></clipPath>
<clipPath id="c3"><rect x="383.7" y="507.3" width="48.7" height="21.1"/></clipPath>
</defs>
<rect x="383.70" y="459.90" width="48.70" height="21.20" fill="url(#w1)" stroke="none" stroke-width="1" />
<g clip-path="url(#c1)" filter="url(#bl)"><rect x="392.5" y="469" width="13" height="2.2" fill="#8c8c8c"/><rect x="395" y="464.6" width="9" height="1.4" fill="#cfcfcf"/><rect x="409.5" y="464.2" width="16" height="1.5" fill="#b4b4b4"/><rect x="409.5" y="466.8" width="16.5" height="1.8" fill="#8a8a8a"/><rect x="409" y="469.6" width="17.5" height="2.4" fill="#4a4a4a"/></g>
<rect x="383.70" y="459.90" width="48.70" height="21.20" fill="none" stroke="#8a8a8a" stroke-width="0.7" />
<rect x="408.90" y="476.70" width="23.20" height="4.20" fill="#f6f6f6" stroke="none" stroke-width="1" />
<text x="420.50" y="480.12" font-size="3.4" fill="#333" stroke="#333" stroke-width="0.06" text-anchor="middle" textLength="14.00" lengthAdjust="spacingAndGlyphs">WB:Meis1</text>
<rect x="383.70" y="483.60" width="48.70" height="21.10" fill="url(#w2)" stroke="none" stroke-width="1" />
<g clip-path="url(#c2)" filter="url(#bl)"><rect x="409.5" y="491" width="14" height="2.6" fill="#4e4e4e"/><rect x="410" y="494" width="11" height="1.2" fill="#868686"/></g>
<path d="M383.9 485.6L386.6 488.2L383.9 490.8Z" fill="#111"/>
<rect x="383.70" y="483.60" width="48.70" height="21.10" fill="none" stroke="#222" stroke-width="0.9" />
<rect x="408.00" y="499.60" width="24.00" height="4.60" fill="#ededed" stroke="none" stroke-width="1" />
<text x="420.30" y="503.12" font-size="3.4" fill="#333" stroke="#333" stroke-width="0.06" text-anchor="middle" textLength="11.50" lengthAdjust="spacingAndGlyphs">WB:flag</text>
<rect x="383.70" y="507.30" width="48.70" height="21.10" fill="url(#w3)" stroke="none" stroke-width="1" />
<g clip-path="url(#c3)" filter="url(#bl2)"><rect x="389.5" y="516.2" width="16.5" height="3.2" fill="#1c1c1c"/><rect x="406" y="516.9" width="4" height="1.8" fill="#555"/><rect x="409.5" y="516" width="17" height="3.2" fill="#242424"/><rect x="412" y="512" width="12" height="1.4" fill="#d0d0d0"/></g>
<rect x="383.70" y="507.30" width="48.70" height="21.10" fill="none" stroke="#666" stroke-width="0.8" />
<rect x="408.00" y="523.00" width="24.00" height="5.00" fill="#f0f0f0" stroke="none" stroke-width="1" />
<text x="420.30" y="526.82" font-size="3.4" fill="#333" stroke="#333" stroke-width="0.06" text-anchor="middle" textLength="12.00" lengthAdjust="spacingAndGlyphs">WB:βact</text>
<text x="434.20" y="478.50" font-size="6.4" fill="#111" stroke="#111" stroke-width="0.06" textLength="15.30" lengthAdjust="spacingAndGlyphs" >Meis1</text>
<text x="434.20" y="500.10" font-size="6.4" fill="#111" stroke="#111" stroke-width="0.06" textLength="12.80" lengthAdjust="spacingAndGlyphs" >Pbx3</text>
<text x="434.20" y="525.10" font-size="6.4" fill="#111" stroke="#111" stroke-width="0.06" textLength="13.30" lengthAdjust="spacingAndGlyphs" >actin</text>
<path d="M436.6 468.8L433.6 470.2L436.6 471.59999999999997Z" fill="#fff" stroke="#222" stroke-width="0.55"/>
<path d="M436.6 490.40000000000003L433.6 491.8L436.6 493.2Z" fill="#fff" stroke="#222" stroke-width="0.55"/>
<path d="M436.6 516.6L433.6 518L436.6 519.4Z" fill="#fff" stroke="#222" stroke-width="0.55"/>
<rect x="468.00" y="493.80" width="7.00" height="34.60" fill="#2a6ab6" stroke="none" stroke-width="1" />
<rect x="490.40" y="463.00" width="7.10" height="65.40" fill="#2a6ab6" stroke="none" stroke-width="1" />
<line x1="471.50" y1="490.50" x2="471.50" y2="496.30" stroke="#111" stroke-width="0.95" />
<line x1="470.10" y1="490.50" x2="472.90" y2="490.50" stroke="#111" stroke-width="0.95" />
<line x1="470.10" y1="496.30" x2="472.90" y2="496.30" stroke="#111" stroke-width="0.95" />
<line x1="494.00" y1="455.60" x2="494.00" y2="468.60" stroke="#111" stroke-width="0.95" />
<line x1="492.60" y1="455.60" x2="495.40" y2="455.60" stroke="#111" stroke-width="0.95" />
<line x1="492.60" y1="468.60" x2="495.40" y2="468.60" stroke="#111" stroke-width="0.95" />
<rect x="460.90" y="452.40" width="41.60" height="76.00" fill="none" stroke="#111" stroke-width="1.05" />
<line x1="502.50" y1="528.40" x2="505.30" y2="528.40" stroke="#111" stroke-width="0.7" />
<line x1="502.50" y1="510.90" x2="504.30" y2="510.90" stroke="#111" stroke-width="0.7" />
<line x1="502.50" y1="493.40" x2="505.30" y2="493.40" stroke="#111" stroke-width="0.7" />
<line x1="502.50" y1="475.90" x2="504.30" y2="475.90" stroke="#111" stroke-width="0.7" />
<line x1="502.50" y1="458.40" x2="505.30" y2="458.40" stroke="#111" stroke-width="0.7" />
<text x="508.40" y="460.80" font-size="6.4" fill="#111" stroke="#111" stroke-width="0.06" textLength="3.40" lengthAdjust="spacingAndGlyphs" >2</text>
<text x="508.60" y="495.70" font-size="6.4" fill="#111" stroke="#111" stroke-width="0.06" textLength="2.80" lengthAdjust="spacingAndGlyphs" >1</text>
<text x="466.00" y="457.73" font-size="4.8" fill="#222" stroke="#222" stroke-width="0.06" textLength="12.20" lengthAdjust="spacingAndGlyphs" >qPCR</text>
<text x="466.00" y="464.73" font-size="4.8" fill="#222" stroke="#222" stroke-width="0.06" textLength="13.50" lengthAdjust="spacingAndGlyphs" >Meis1</text>
<text x="466.00" y="473.53" font-size="4.8" fill="#222" stroke="#222" stroke-width="0.06" textLength="18.80" lengthAdjust="spacingAndGlyphs" >HoxA9+</text>
<text x="467.40" y="508.23" font-size="4.8" fill="#222" stroke="#222" stroke-width="0.06" textLength="7.60" lengthAdjust="spacingAndGlyphs" >vec</text>
<text x="488.00" y="508.23" font-size="4.8" fill="#222" stroke="#222" stroke-width="0.06" textLength="11.30" lengthAdjust="spacingAndGlyphs" >Pbx3</text>
</svg>
</body></html>
